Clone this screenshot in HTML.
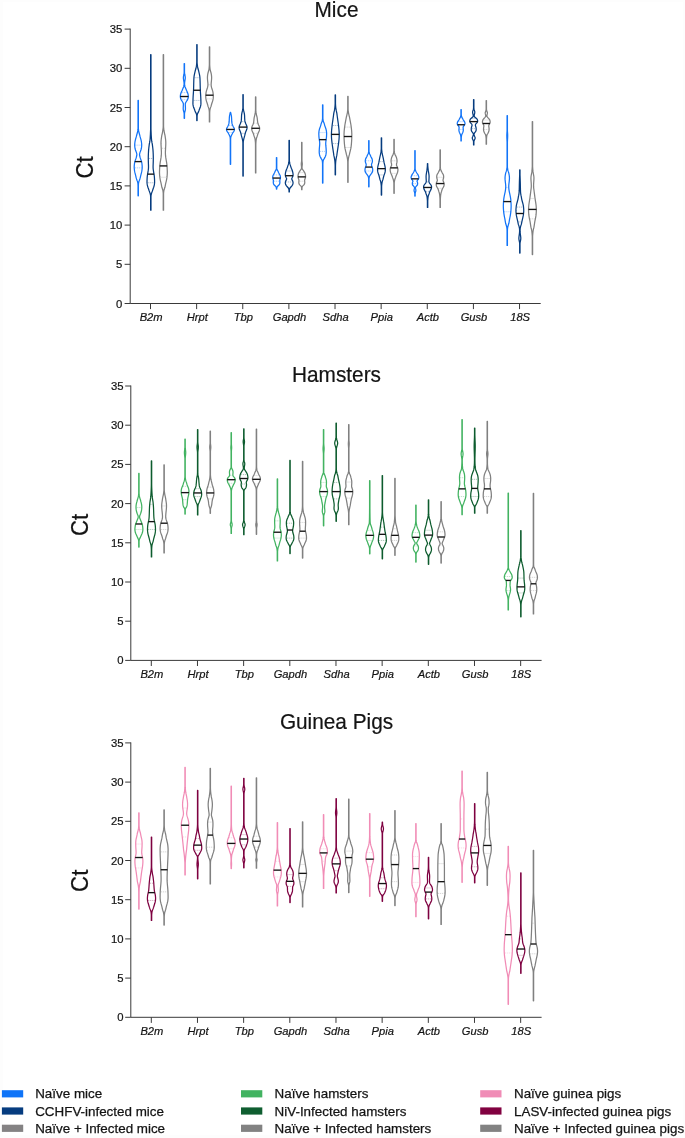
<!DOCTYPE html>
<html lang="en">
<head>
<meta charset="utf-8">
<title>Ct violin plots</title>
<style>
html,body{margin:0;padding:0;background:#ffffff;}
body{width:685px;height:1138px;overflow:hidden;font-family:"Liberation Sans", sans-serif;}
svg{display:block;font-family:"Liberation Sans", sans-serif;will-change:transform;opacity:0.999;}
text{stroke:#141414;stroke-width:0.2px;}
.lg text{stroke-width:0.25px;}
</style>
</head>
<body>
<svg width="685" height="1138" viewBox="0 0 685 1138">
<rect x="0" y="0" width="685" height="1138" fill="#ffffff"/>
<rect x="0" y="0" width="685" height="2" fill="#fdfdfd"/>
<rect x="683" y="0" width="2" height="1138" fill="#fdfdfd"/>
<rect x="0" y="1135" width="685" height="3" fill="#fdfdfd"/>
<rect x="0" y="0" width="3" height="1138" fill="#fdfdfd"/>
<g>
<text transform="translate(336.5 16.6) scale(1 1.05)" font-size="20.8" text-anchor="middle" fill="#141414">Mice</text>
<text transform="translate(92.5 167.4) rotate(-90) scale(1 1.05)" font-size="22.3" text-anchor="middle" fill="#141414">Ct</text>
<path d="M130.2 28.6 V303.5 H540.7" fill="none" stroke="#3a3a3a" stroke-width="1"/>
<line x1="124.6" y1="303.5" x2="130.2" y2="303.5" stroke="#3a3a3a" stroke-width="1"/>
<text x="122.3" y="307.5" font-size="11.3" text-anchor="end" fill="#141414">0</text>
<line x1="124.6" y1="264.3" x2="130.2" y2="264.3" stroke="#3a3a3a" stroke-width="1"/>
<text x="122.3" y="268.3" font-size="11.3" text-anchor="end" fill="#141414">5</text>
<line x1="124.6" y1="225.1" x2="130.2" y2="225.1" stroke="#3a3a3a" stroke-width="1"/>
<text x="122.3" y="229.1" font-size="11.3" text-anchor="end" fill="#141414">10</text>
<line x1="124.6" y1="185.9" x2="130.2" y2="185.9" stroke="#3a3a3a" stroke-width="1"/>
<text x="122.3" y="189.9" font-size="11.3" text-anchor="end" fill="#141414">15</text>
<line x1="124.6" y1="146.7" x2="130.2" y2="146.7" stroke="#3a3a3a" stroke-width="1"/>
<text x="122.3" y="150.7" font-size="11.3" text-anchor="end" fill="#141414">20</text>
<line x1="124.6" y1="107.5" x2="130.2" y2="107.5" stroke="#3a3a3a" stroke-width="1"/>
<text x="122.3" y="111.5" font-size="11.3" text-anchor="end" fill="#141414">25</text>
<line x1="124.6" y1="68.3" x2="130.2" y2="68.3" stroke="#3a3a3a" stroke-width="1"/>
<text x="122.3" y="72.3" font-size="11.3" text-anchor="end" fill="#141414">30</text>
<line x1="124.6" y1="29.1" x2="130.2" y2="29.1" stroke="#3a3a3a" stroke-width="1"/>
<text x="122.3" y="33.1" font-size="11.3" text-anchor="end" fill="#141414">35</text>
<line x1="150.5" y1="303.5" x2="150.5" y2="309.1" stroke="#3a3a3a" stroke-width="1"/>
<text x="151.1" y="321.2" font-size="11.15" font-style="italic" text-anchor="middle" fill="#141414">B2m</text>
<line x1="196.63" y1="303.5" x2="196.63" y2="309.1" stroke="#3a3a3a" stroke-width="1"/>
<text x="197.23" y="321.2" font-size="11.15" font-style="italic" text-anchor="middle" fill="#141414">Hrpt</text>
<line x1="242.76" y1="303.5" x2="242.76" y2="309.1" stroke="#3a3a3a" stroke-width="1"/>
<text x="243.36" y="321.2" font-size="11.15" font-style="italic" text-anchor="middle" fill="#141414">Tbp</text>
<line x1="288.89" y1="303.5" x2="288.89" y2="309.1" stroke="#3a3a3a" stroke-width="1"/>
<text x="289.49" y="321.2" font-size="11.15" font-style="italic" text-anchor="middle" fill="#141414">Gapdh</text>
<line x1="335.02" y1="303.5" x2="335.02" y2="309.1" stroke="#3a3a3a" stroke-width="1"/>
<text x="335.62" y="321.2" font-size="11.15" font-style="italic" text-anchor="middle" fill="#141414">Sdha</text>
<line x1="381.15" y1="303.5" x2="381.15" y2="309.1" stroke="#3a3a3a" stroke-width="1"/>
<text x="381.75" y="321.2" font-size="11.15" font-style="italic" text-anchor="middle" fill="#141414">Ppia</text>
<line x1="427.28" y1="303.5" x2="427.28" y2="309.1" stroke="#3a3a3a" stroke-width="1"/>
<text x="427.88" y="321.2" font-size="11.15" font-style="italic" text-anchor="middle" fill="#141414">Actb</text>
<line x1="473.41" y1="303.5" x2="473.41" y2="309.1" stroke="#3a3a3a" stroke-width="1"/>
<text x="474.01" y="321.2" font-size="11.15" font-style="italic" text-anchor="middle" fill="#141414">Gusb</text>
<line x1="519.54" y1="303.5" x2="519.54" y2="309.1" stroke="#3a3a3a" stroke-width="1"/>
<text x="520.14" y="321.2" font-size="11.15" font-style="italic" text-anchor="middle" fill="#141414">18S</text>
<line x1="135.3" y1="145.13" x2="141.1" y2="145.13" stroke="#1274f8" stroke-width="0.6" stroke-opacity="0.55" stroke-dasharray="1.2 0.8"/>
<line x1="134.82" y1="167.87" x2="141.58" y2="167.87" stroke="#1274f8" stroke-width="0.6" stroke-opacity="0.55" stroke-dasharray="1.2 0.8"/>
<path d="M138.37 195.86 L138.37 194.65 L138.37 193.44 L138.37 192.23 L138.37 191.03 L138.37 189.82 L138.37 188.61 L138.37 187.4 L138.37 186.19 L138.41 184.99 L138.48 183.78 L138.64 182.57 L138.95 181.36 L139.43 180.16 L139.88 178.95 L140.2 177.74 L140.49 176.53 L140.78 175.32 L141.1 174.12 L141.42 172.91 L141.7 171.7 L141.92 170.49 L142.06 169.29 L142.17 168.08 L142.2 166.87 L142.14 165.66 L142.02 164.46 L141.88 163.25 L141.65 162.04 L141.29 160.83 L140.87 159.62 L140.43 158.42 L140.04 157.21 L139.75 156 L139.52 154.79 L139.68 153.59 L140.01 152.38 L140.45 151.17 L140.91 149.96 L141.29 148.75 L141.5 147.55 L141.64 146.34 L141.7 145.13 L141.65 143.92 L141.53 142.72 L141.38 141.51 L141.13 140.3 L140.81 139.09 L140.44 137.88 L140.1 136.68 L139.8 135.47 L139.48 134.26 L139.12 133.05 L138.83 131.85 L138.61 130.64 L138.46 129.43 L138.37 128.22 L138.37 127.01 L138.37 125.81 L138.37 124.6 L138.37 123.39 L138.37 122.18 L138.37 120.98 L138.37 119.77 L138.37 118.56 L138.37 117.35 L138.37 116.14 L138.37 114.94 L138.37 113.73 L138.37 112.52 L138.37 111.31 L138.37 110.11 L138.37 108.9 L138.37 107.69 L138.37 106.48 L138.37 105.28 L138.37 104.07 L138.37 102.86 L138.37 101.65 L138.37 100.44 L138.03 100.44 L138.03 101.65 L138.03 102.86 L138.03 104.07 L138.03 105.28 L138.03 106.48 L138.03 107.69 L138.03 108.9 L138.03 110.11 L138.03 111.31 L138.03 112.52 L138.03 113.73 L138.03 114.94 L138.03 116.14 L138.03 117.35 L138.03 118.56 L138.03 119.77 L138.03 120.98 L138.03 122.18 L138.03 123.39 L138.03 124.6 L138.03 125.81 L138.03 127.01 L138.03 128.22 L137.94 129.43 L137.79 130.64 L137.57 131.85 L137.28 133.05 L136.92 134.26 L136.6 135.47 L136.3 136.68 L135.96 137.88 L135.59 139.09 L135.27 140.3 L135.02 141.51 L134.87 142.72 L134.75 143.92 L134.7 145.13 L134.76 146.34 L134.9 147.55 L135.11 148.75 L135.49 149.96 L135.95 151.17 L136.39 152.38 L136.72 153.59 L136.88 154.79 L136.65 156 L136.36 157.21 L135.97 158.42 L135.53 159.62 L135.11 160.83 L134.75 162.04 L134.52 163.25 L134.38 164.46 L134.26 165.66 L134.2 166.87 L134.23 168.08 L134.34 169.29 L134.48 170.49 L134.7 171.7 L134.98 172.91 L135.3 174.12 L135.62 175.32 L135.91 176.53 L136.2 177.74 L136.52 178.95 L136.97 180.16 L137.45 181.36 L137.76 182.57 L137.92 183.78 L137.99 184.99 L138.03 186.19 L138.03 187.4 L138.03 188.61 L138.03 189.82 L138.03 191.03 L138.03 192.23 L138.03 193.44 L138.03 194.65 L138.03 195.86Z" fill="none" stroke="#1274f8" stroke-width="1.25" stroke-linejoin="round"/>
<line x1="134.77" y1="161.6" x2="141.63" y2="161.6" stroke="#141414" stroke-width="1.35"/>
<line x1="148.9" y1="158.46" x2="152.7" y2="158.46" stroke="#063c7f" stroke-width="0.6" stroke-opacity="0.55" stroke-dasharray="1.2 0.8"/>
<line x1="147.63" y1="182.76" x2="153.97" y2="182.76" stroke="#063c7f" stroke-width="0.6" stroke-opacity="0.55" stroke-dasharray="1.2 0.8"/>
<path d="M150.97 210.2 L150.97 209 L150.97 207.79 L150.97 206.59 L150.97 205.38 L150.97 204.18 L150.97 202.97 L150.97 201.76 L150.97 200.56 L150.97 199.35 L150.97 198.15 L150.97 196.94 L151.04 195.73 L151.22 194.53 L151.53 193.32 L151.98 192.12 L152.42 190.91 L152.8 189.71 L153.23 188.5 L153.67 187.29 L154.05 186.09 L154.31 184.88 L154.48 183.68 L154.59 182.47 L154.59 181.27 L154.56 180.06 L154.5 178.85 L154.43 177.65 L154.33 176.44 L154.18 175.24 L153.99 174.03 L153.78 172.82 L153.57 171.62 L153.38 170.41 L153.22 169.21 L153.12 168 L153.1 166.8 L153.12 165.59 L153.16 164.38 L153.2 163.18 L153.24 161.97 L153.27 160.77 L153.29 159.56 L153.3 158.36 L153.3 157.15 L153.28 155.94 L153.24 154.74 L153.19 153.53 L153.13 152.33 L153.07 151.12 L152.98 149.92 L152.86 148.71 L152.73 147.5 L152.58 146.3 L152.43 145.09 L152.26 143.89 L151.99 142.68 L151.77 141.47 L151.6 140.27 L151.48 139.06 L151.4 137.86 L151.32 136.65 L151.25 135.45 L151.18 134.24 L151.13 133.03 L151.08 131.83 L151.03 130.62 L150.99 129.42 L150.97 128.21 L150.97 127.01 L150.97 125.8 L150.97 124.59 L150.97 123.39 L150.97 122.18 L150.97 120.98 L150.97 119.77 L150.97 118.56 L150.97 117.36 L150.97 116.15 L150.97 114.95 L150.97 113.74 L150.97 112.54 L150.97 111.33 L150.97 110.12 L150.97 108.92 L150.97 107.71 L150.97 106.51 L150.97 105.3 L150.97 104.1 L150.97 102.89 L150.97 101.68 L150.97 100.48 L150.97 99.27 L150.97 98.07 L150.97 96.86 L150.97 95.65 L150.97 94.45 L150.97 93.24 L150.97 92.04 L150.97 90.83 L150.97 89.63 L150.97 88.42 L150.97 87.21 L150.97 86.01 L150.97 84.8 L150.97 83.6 L150.97 82.39 L150.97 81.19 L150.97 79.98 L150.97 78.77 L150.97 77.57 L150.97 76.36 L150.97 75.16 L150.97 73.95 L150.97 72.75 L150.97 71.54 L150.97 70.33 L150.97 69.13 L150.97 67.92 L150.97 66.72 L150.97 65.51 L150.97 64.3 L150.97 63.1 L150.97 61.89 L150.97 60.69 L150.97 59.48 L150.97 58.28 L150.97 57.07 L150.97 55.86 L150.97 54.66 L150.63 54.66 L150.63 55.86 L150.63 57.07 L150.63 58.28 L150.63 59.48 L150.63 60.69 L150.63 61.89 L150.63 63.1 L150.63 64.3 L150.63 65.51 L150.63 66.72 L150.63 67.92 L150.63 69.13 L150.63 70.33 L150.63 71.54 L150.63 72.75 L150.63 73.95 L150.63 75.16 L150.63 76.36 L150.63 77.57 L150.63 78.77 L150.63 79.98 L150.63 81.19 L150.63 82.39 L150.63 83.6 L150.63 84.8 L150.63 86.01 L150.63 87.21 L150.63 88.42 L150.63 89.63 L150.63 90.83 L150.63 92.04 L150.63 93.24 L150.63 94.45 L150.63 95.65 L150.63 96.86 L150.63 98.07 L150.63 99.27 L150.63 100.48 L150.63 101.68 L150.63 102.89 L150.63 104.1 L150.63 105.3 L150.63 106.51 L150.63 107.71 L150.63 108.92 L150.63 110.12 L150.63 111.33 L150.63 112.54 L150.63 113.74 L150.63 114.95 L150.63 116.15 L150.63 117.36 L150.63 118.56 L150.63 119.77 L150.63 120.98 L150.63 122.18 L150.63 123.39 L150.63 124.59 L150.63 125.8 L150.63 127.01 L150.63 128.21 L150.61 129.42 L150.57 130.62 L150.52 131.83 L150.47 133.03 L150.42 134.24 L150.35 135.45 L150.28 136.65 L150.2 137.86 L150.12 139.06 L150 140.27 L149.83 141.47 L149.61 142.68 L149.34 143.89 L149.17 145.09 L149.02 146.3 L148.87 147.5 L148.74 148.71 L148.62 149.92 L148.53 151.12 L148.47 152.33 L148.41 153.53 L148.36 154.74 L148.32 155.94 L148.3 157.15 L148.3 158.36 L148.31 159.56 L148.33 160.77 L148.36 161.97 L148.4 163.18 L148.44 164.38 L148.48 165.59 L148.5 166.8 L148.48 168 L148.38 169.21 L148.22 170.41 L148.03 171.62 L147.82 172.82 L147.61 174.03 L147.42 175.24 L147.27 176.44 L147.17 177.65 L147.1 178.85 L147.04 180.06 L147.01 181.27 L147.01 182.47 L147.12 183.68 L147.29 184.88 L147.55 186.09 L147.93 187.29 L148.37 188.5 L148.8 189.71 L149.18 190.91 L149.62 192.12 L150.07 193.32 L150.38 194.53 L150.56 195.73 L150.63 196.94 L150.63 198.15 L150.63 199.35 L150.63 200.56 L150.63 201.76 L150.63 202.97 L150.63 204.18 L150.63 205.38 L150.63 206.59 L150.63 207.79 L150.63 209 L150.63 210.2Z" fill="none" stroke="#063c7f" stroke-width="1.25" stroke-linejoin="round"/>
<line x1="147.49" y1="174.14" x2="154.11" y2="174.14" stroke="#141414" stroke-width="1.35"/>
<line x1="161.82" y1="148.27" x2="164.98" y2="148.27" stroke="#808080" stroke-width="0.6" stroke-opacity="0.55" stroke-dasharray="1.2 0.8"/>
<line x1="160.43" y1="177.28" x2="166.37" y2="177.28" stroke="#808080" stroke-width="0.6" stroke-opacity="0.55" stroke-dasharray="1.2 0.8"/>
<path d="M163.57 210.2 L163.57 209 L163.57 207.79 L163.57 206.59 L163.57 205.38 L163.57 204.18 L163.57 202.97 L163.57 201.76 L163.57 200.56 L163.57 199.35 L163.57 198.15 L163.57 196.94 L163.57 195.73 L163.57 194.53 L163.58 193.32 L163.67 192.12 L163.84 190.91 L164.11 189.71 L164.49 188.5 L164.93 187.29 L165.17 186.09 L165.4 184.88 L165.66 183.68 L165.94 182.47 L166.22 181.27 L166.49 180.06 L166.73 178.85 L166.92 177.65 L167.06 176.44 L167.17 175.24 L167.25 174.03 L167.3 172.82 L167.29 171.62 L167.26 170.41 L167.21 169.21 L167.14 168 L167.08 166.8 L166.99 165.59 L166.86 164.38 L166.69 163.18 L166.5 161.97 L166.3 160.77 L166.1 159.56 L165.9 158.36 L165.72 157.15 L165.57 155.94 L165.47 154.74 L165.41 153.53 L165.4 152.33 L165.43 151.12 L165.49 149.92 L165.55 148.71 L165.62 147.5 L165.69 146.3 L165.75 145.09 L165.79 143.89 L165.8 142.68 L165.76 141.47 L165.67 140.27 L165.53 139.06 L165.36 137.86 L165.18 136.65 L164.99 135.45 L164.72 134.24 L164.44 133.03 L164.23 131.83 L164.03 130.62 L163.85 129.42 L163.7 128.21 L163.59 127.01 L163.57 125.8 L163.57 124.59 L163.57 123.39 L163.57 122.18 L163.57 120.98 L163.57 119.77 L163.57 118.56 L163.57 117.36 L163.57 116.15 L163.57 114.95 L163.57 113.74 L163.57 112.54 L163.57 111.33 L163.57 110.12 L163.57 108.92 L163.57 107.71 L163.57 106.51 L163.57 105.3 L163.57 104.1 L163.57 102.89 L163.57 101.68 L163.57 100.48 L163.57 99.27 L163.57 98.07 L163.57 96.86 L163.57 95.65 L163.57 94.45 L163.57 93.24 L163.57 92.04 L163.57 90.83 L163.57 89.63 L163.57 88.42 L163.57 87.21 L163.57 86.01 L163.57 84.8 L163.57 83.6 L163.57 82.39 L163.57 81.19 L163.57 79.98 L163.57 78.77 L163.57 77.57 L163.57 76.36 L163.57 75.16 L163.57 73.95 L163.57 72.75 L163.57 71.54 L163.57 70.33 L163.57 69.13 L163.57 67.92 L163.57 66.72 L163.57 65.51 L163.57 64.3 L163.57 63.1 L163.57 61.89 L163.57 60.69 L163.57 59.48 L163.57 58.28 L163.57 57.07 L163.57 55.86 L163.57 54.66 L163.23 54.66 L163.23 55.86 L163.23 57.07 L163.23 58.28 L163.23 59.48 L163.23 60.69 L163.23 61.89 L163.23 63.1 L163.23 64.3 L163.23 65.51 L163.23 66.72 L163.23 67.92 L163.23 69.13 L163.23 70.33 L163.23 71.54 L163.23 72.75 L163.23 73.95 L163.23 75.16 L163.23 76.36 L163.23 77.57 L163.23 78.77 L163.23 79.98 L163.23 81.19 L163.23 82.39 L163.23 83.6 L163.23 84.8 L163.23 86.01 L163.23 87.21 L163.23 88.42 L163.23 89.63 L163.23 90.83 L163.23 92.04 L163.23 93.24 L163.23 94.45 L163.23 95.65 L163.23 96.86 L163.23 98.07 L163.23 99.27 L163.23 100.48 L163.23 101.68 L163.23 102.89 L163.23 104.1 L163.23 105.3 L163.23 106.51 L163.23 107.71 L163.23 108.92 L163.23 110.12 L163.23 111.33 L163.23 112.54 L163.23 113.74 L163.23 114.95 L163.23 116.15 L163.23 117.36 L163.23 118.56 L163.23 119.77 L163.23 120.98 L163.23 122.18 L163.23 123.39 L163.23 124.59 L163.23 125.8 L163.21 127.01 L163.1 128.21 L162.95 129.42 L162.77 130.62 L162.57 131.83 L162.36 133.03 L162.08 134.24 L161.81 135.45 L161.62 136.65 L161.44 137.86 L161.27 139.06 L161.13 140.27 L161.04 141.47 L161 142.68 L161.01 143.89 L161.05 145.09 L161.11 146.3 L161.18 147.5 L161.25 148.71 L161.31 149.92 L161.37 151.12 L161.4 152.33 L161.39 153.53 L161.33 154.74 L161.23 155.94 L161.08 157.15 L160.9 158.36 L160.7 159.56 L160.5 160.77 L160.3 161.97 L160.11 163.18 L159.94 164.38 L159.81 165.59 L159.72 166.8 L159.66 168 L159.59 169.21 L159.54 170.41 L159.51 171.62 L159.5 172.82 L159.55 174.03 L159.63 175.24 L159.74 176.44 L159.88 177.65 L160.07 178.85 L160.31 180.06 L160.58 181.27 L160.86 182.47 L161.14 183.68 L161.4 184.88 L161.63 186.09 L161.87 187.29 L162.31 188.5 L162.69 189.71 L162.96 190.91 L163.13 192.12 L163.22 193.32 L163.23 194.53 L163.23 195.73 L163.23 196.94 L163.23 198.15 L163.23 199.35 L163.23 200.56 L163.23 201.76 L163.23 202.97 L163.23 204.18 L163.23 205.38 L163.23 206.59 L163.23 207.79 L163.23 209 L163.23 210.2Z" fill="none" stroke="#808080" stroke-width="1.25" stroke-linejoin="round"/>
<line x1="159.68" y1="165.91" x2="167.12" y2="165.91" stroke="#141414" stroke-width="1.35"/>
<line x1="181.73" y1="92.6" x2="186.93" y2="92.6" stroke="#1274f8" stroke-width="0.6" stroke-opacity="0.55" stroke-dasharray="1.2 0.8"/>
<line x1="181.68" y1="99.66" x2="186.98" y2="99.66" stroke="#1274f8" stroke-width="0.6" stroke-opacity="0.55" stroke-dasharray="1.2 0.8"/>
<path d="M184.5 118.32 L184.5 117.1 L184.5 115.88 L184.5 114.67 L184.52 113.45 L184.72 112.23 L185.06 111.01 L185.38 109.79 L185.45 108.58 L185.42 107.36 L185.36 106.14 L185.31 104.92 L185.29 103.71 L185.76 102.49 L186.51 101.27 L187.34 100.05 L187.94 98.83 L188.22 97.62 L188.33 96.4 L188.21 95.18 L187.99 93.96 L187.59 92.75 L187.03 91.53 L186.44 90.31 L185.95 89.09 L185.43 87.87 L184.96 86.66 L184.68 85.44 L184.57 84.22 L184.6 83 L184.72 81.78 L184.92 80.57 L185.13 79.35 L185.28 78.13 L185.24 76.91 L185.01 75.7 L184.76 74.48 L184.57 73.26 L184.5 72.04 L184.5 70.82 L184.5 69.61 L184.5 68.39 L184.5 67.17 L184.5 65.95 L184.5 64.74 L184.5 63.52 L184.16 63.52 L184.16 64.74 L184.16 65.95 L184.16 67.17 L184.16 68.39 L184.16 69.61 L184.16 70.82 L184.16 72.04 L184.09 73.26 L183.9 74.48 L183.65 75.7 L183.42 76.91 L183.38 78.13 L183.53 79.35 L183.74 80.57 L183.94 81.78 L184.06 83 L184.09 84.22 L183.98 85.44 L183.7 86.66 L183.23 87.87 L182.71 89.09 L182.22 90.31 L181.63 91.53 L181.07 92.75 L180.67 93.96 L180.45 95.18 L180.33 96.4 L180.44 97.62 L180.72 98.83 L181.32 100.05 L182.15 101.27 L182.9 102.49 L183.37 103.71 L183.35 104.92 L183.3 106.14 L183.24 107.36 L183.21 108.58 L183.28 109.79 L183.6 111.01 L183.94 112.23 L184.14 113.45 L184.16 114.67 L184.16 115.88 L184.16 117.1 L184.16 118.32Z" fill="none" stroke="#1274f8" stroke-width="1.25" stroke-linejoin="round"/>
<line x1="180.23" y1="96.52" x2="188.43" y2="96.52" stroke="#141414" stroke-width="1.35"/>
<line x1="194.53" y1="77.71" x2="199.33" y2="77.71" stroke="#063c7f" stroke-width="0.6" stroke-opacity="0.55" stroke-dasharray="1.2 0.8"/>
<line x1="193.58" y1="100.44" x2="200.28" y2="100.44" stroke="#063c7f" stroke-width="0.6" stroke-opacity="0.55" stroke-dasharray="1.2 0.8"/>
<path d="M197.1 120.59 L197.1 119.39 L197.1 118.18 L197.1 116.98 L197.13 115.77 L197.28 114.57 L197.67 113.37 L198.36 112.16 L198.82 110.96 L199.25 109.75 L199.75 108.55 L200.23 107.34 L200.6 106.14 L200.81 104.93 L200.93 103.73 L200.92 102.52 L200.9 101.32 L200.87 100.11 L200.84 98.91 L200.78 97.7 L200.72 96.5 L200.64 95.3 L200.56 94.09 L200.47 92.89 L200.4 91.68 L200.34 90.48 L200.29 89.27 L200.25 88.07 L200.22 86.86 L200.19 85.66 L200.16 84.45 L200.14 83.25 L200.1 82.04 L200.07 80.84 L200.02 79.64 L199.97 78.43 L199.89 77.23 L199.75 76.02 L199.53 74.82 L199.26 73.61 L198.97 72.41 L198.69 71.2 L198.41 70 L198.01 68.79 L197.74 67.59 L197.52 66.38 L197.35 65.18 L197.21 63.98 L197.12 62.77 L197.1 61.57 L197.1 60.36 L197.1 59.16 L197.1 57.95 L197.1 56.75 L197.1 55.54 L197.1 54.34 L197.1 53.13 L197.1 51.93 L197.1 50.72 L197.1 49.52 L197.1 48.32 L197.1 47.11 L197.1 45.91 L197.1 44.7 L196.76 44.7 L196.76 45.91 L196.76 47.11 L196.76 48.32 L196.76 49.52 L196.76 50.72 L196.76 51.93 L196.76 53.13 L196.76 54.34 L196.76 55.54 L196.76 56.75 L196.76 57.95 L196.76 59.16 L196.76 60.36 L196.76 61.57 L196.74 62.77 L196.65 63.98 L196.51 65.18 L196.34 66.38 L196.12 67.59 L195.85 68.79 L195.45 70 L195.17 71.2 L194.89 72.41 L194.6 73.61 L194.33 74.82 L194.11 76.02 L193.97 77.23 L193.89 78.43 L193.84 79.64 L193.79 80.84 L193.76 82.04 L193.72 83.25 L193.7 84.45 L193.67 85.66 L193.64 86.86 L193.61 88.07 L193.57 89.27 L193.52 90.48 L193.46 91.68 L193.39 92.89 L193.3 94.09 L193.22 95.3 L193.14 96.5 L193.08 97.7 L193.02 98.91 L192.99 100.11 L192.96 101.32 L192.94 102.52 L192.93 103.73 L193.05 104.93 L193.26 106.14 L193.63 107.34 L194.11 108.55 L194.61 109.75 L195.04 110.96 L195.5 112.16 L196.19 113.37 L196.58 114.57 L196.73 115.77 L196.76 116.98 L196.76 118.18 L196.76 119.39 L196.76 120.59Z" fill="none" stroke="#063c7f" stroke-width="1.25" stroke-linejoin="round"/>
<line x1="193.43" y1="90.25" x2="200.43" y2="90.25" stroke="#141414" stroke-width="1.35"/>
<line x1="208.53" y1="84.76" x2="210.53" y2="84.76" stroke="#808080" stroke-width="0.6" stroke-opacity="0.55" stroke-dasharray="1.2 0.8"/>
<line x1="206.54" y1="98.88" x2="212.52" y2="98.88" stroke="#808080" stroke-width="0.6" stroke-opacity="0.55" stroke-dasharray="1.2 0.8"/>
<path d="M209.7 121.93 L209.7 120.71 L209.7 119.5 L209.7 118.29 L209.7 117.08 L209.7 115.87 L209.7 114.66 L209.7 113.45 L209.73 112.23 L209.8 111.02 L209.94 109.81 L210.2 108.6 L210.6 107.39 L211.09 106.18 L211.37 104.97 L211.73 103.75 L212.14 102.54 L212.55 101.33 L212.9 100.12 L213.12 98.91 L213.26 97.7 L213.33 96.49 L213.28 95.27 L213.18 94.06 L213.05 92.85 L212.83 91.64 L212.49 90.43 L212.1 89.22 L211.71 88.01 L211.39 86.79 L211.18 85.58 L211.13 84.37 L211.2 83.16 L211.31 81.95 L211.43 80.74 L211.55 79.53 L211.62 78.31 L211.62 77.1 L211.53 75.89 L211.37 74.68 L211.17 73.47 L210.86 72.26 L210.47 71.05 L210.18 69.84 L209.99 68.62 L209.88 67.41 L209.79 66.2 L209.71 64.99 L209.7 63.78 L209.7 62.57 L209.7 61.36 L209.7 60.14 L209.7 58.93 L209.7 57.72 L209.7 56.51 L209.7 55.3 L209.7 54.09 L209.7 52.88 L209.7 51.66 L209.7 50.45 L209.7 49.24 L209.7 48.03 L209.7 46.82 L209.36 46.82 L209.36 48.03 L209.36 49.24 L209.36 50.45 L209.36 51.66 L209.36 52.88 L209.36 54.09 L209.36 55.3 L209.36 56.51 L209.36 57.72 L209.36 58.93 L209.36 60.14 L209.36 61.36 L209.36 62.57 L209.36 63.78 L209.35 64.99 L209.27 66.2 L209.18 67.41 L209.07 68.62 L208.88 69.84 L208.59 71.05 L208.2 72.26 L207.89 73.47 L207.69 74.68 L207.53 75.89 L207.44 77.1 L207.44 78.31 L207.51 79.53 L207.63 80.74 L207.75 81.95 L207.86 83.16 L207.93 84.37 L207.88 85.58 L207.67 86.79 L207.35 88.01 L206.96 89.22 L206.57 90.43 L206.23 91.64 L206.01 92.85 L205.88 94.06 L205.78 95.27 L205.73 96.49 L205.8 97.7 L205.94 98.91 L206.16 100.12 L206.51 101.33 L206.92 102.54 L207.33 103.75 L207.69 104.97 L207.97 106.18 L208.46 107.39 L208.86 108.6 L209.12 109.81 L209.26 111.02 L209.33 112.23 L209.36 113.45 L209.36 114.66 L209.36 115.87 L209.36 117.08 L209.36 118.29 L209.36 119.5 L209.36 120.71 L209.36 121.93Z" fill="none" stroke="#808080" stroke-width="1.25" stroke-linejoin="round"/>
<line x1="205.68" y1="95.19" x2="213.38" y2="95.19" stroke="#141414" stroke-width="1.35"/>
<line x1="228.81" y1="125.53" x2="232.11" y2="125.53" stroke="#1274f8" stroke-width="0.6" stroke-opacity="0.55" stroke-dasharray="1.2 0.8"/>
<line x1="228.59" y1="132.59" x2="232.33" y2="132.59" stroke="#1274f8" stroke-width="0.6" stroke-opacity="0.55" stroke-dasharray="1.2 0.8"/>
<path d="M230.63 164.26 L230.63 163.05 L230.63 161.84 L230.63 160.64 L230.63 159.43 L230.63 158.22 L230.63 157.01 L230.63 155.8 L230.63 154.59 L230.63 153.38 L230.63 152.17 L230.63 150.96 L230.63 149.76 L230.63 148.55 L230.63 147.34 L230.63 146.13 L230.63 144.92 L230.63 143.71 L230.63 142.5 L230.63 141.29 L230.63 140.09 L230.64 138.88 L230.74 137.67 L231 136.46 L231.54 135.25 L232.18 134.04 L232.76 132.83 L233.67 131.62 L234.28 130.41 L234.44 129.21 L234.08 128 L233.31 126.79 L232.73 125.58 L232.23 124.37 L231.96 123.16 L231.8 121.95 L231.71 120.74 L231.66 119.54 L231.6 118.33 L231.52 117.12 L231.39 115.91 L231.12 114.7 L230.78 113.49 L230.63 112.28 L230.29 112.28 L230.14 113.49 L229.8 114.7 L229.53 115.91 L229.4 117.12 L229.32 118.33 L229.26 119.54 L229.21 120.74 L229.12 121.95 L228.96 123.16 L228.69 124.37 L228.19 125.58 L227.61 126.79 L226.84 128 L226.48 129.21 L226.64 130.41 L227.25 131.62 L228.16 132.83 L228.74 134.04 L229.38 135.25 L229.92 136.46 L230.18 137.67 L230.28 138.88 L230.29 140.09 L230.29 141.29 L230.29 142.5 L230.29 143.71 L230.29 144.92 L230.29 146.13 L230.29 147.34 L230.29 148.55 L230.29 149.76 L230.29 150.96 L230.29 152.17 L230.29 153.38 L230.29 154.59 L230.29 155.8 L230.29 157.01 L230.29 158.22 L230.29 159.43 L230.29 160.64 L230.29 161.84 L230.29 163.05 L230.29 164.26Z" fill="none" stroke="#1274f8" stroke-width="1.25" stroke-linejoin="round"/>
<line x1="226.36" y1="129.45" x2="234.56" y2="129.45" stroke="#141414" stroke-width="1.35"/>
<line x1="241.71" y1="121.61" x2="244.41" y2="121.61" stroke="#063c7f" stroke-width="0.6" stroke-opacity="0.55" stroke-dasharray="1.2 0.8"/>
<line x1="241.47" y1="133.37" x2="244.65" y2="133.37" stroke="#063c7f" stroke-width="0.6" stroke-opacity="0.55" stroke-dasharray="1.2 0.8"/>
<path d="M243.23 176.02 L243.23 174.81 L243.23 173.59 L243.23 172.38 L243.23 171.16 L243.23 169.95 L243.23 168.73 L243.23 167.52 L243.23 166.3 L243.23 165.09 L243.23 163.88 L243.23 162.66 L243.23 161.45 L243.23 160.23 L243.23 159.02 L243.23 157.8 L243.23 156.59 L243.23 155.37 L243.23 154.16 L243.23 152.94 L243.23 151.73 L243.23 150.51 L243.23 149.3 L243.23 148.09 L243.23 146.87 L243.23 145.66 L243.23 144.44 L243.23 143.23 L243.27 142.01 L243.4 140.8 L243.63 139.58 L243.94 138.37 L244.3 137.15 L244.66 135.94 L244.92 134.72 L245.21 133.51 L245.55 132.3 L246.07 131.08 L246.61 129.87 L246.92 128.65 L247.06 127.44 L246.88 126.22 L246.36 125.01 L245.8 123.79 L245.32 122.58 L244.95 121.36 L244.8 120.15 L244.71 118.93 L244.65 117.72 L244.61 116.51 L244.55 115.29 L244.41 114.08 L244.19 112.86 L243.88 111.65 L243.59 110.43 L243.36 109.22 L243.23 108 L243.23 106.79 L243.23 105.57 L243.23 104.36 L243.23 103.14 L243.23 101.93 L243.23 100.72 L243.23 99.5 L243.23 98.29 L243.23 97.07 L243.23 95.86 L243.23 94.64 L242.89 94.64 L242.89 95.86 L242.89 97.07 L242.89 98.29 L242.89 99.5 L242.89 100.72 L242.89 101.93 L242.89 103.14 L242.89 104.36 L242.89 105.57 L242.89 106.79 L242.89 108 L242.76 109.22 L242.53 110.43 L242.24 111.65 L241.93 112.86 L241.71 114.08 L241.57 115.29 L241.51 116.51 L241.47 117.72 L241.41 118.93 L241.32 120.15 L241.17 121.36 L240.8 122.58 L240.32 123.79 L239.76 125.01 L239.24 126.22 L239.06 127.44 L239.2 128.65 L239.51 129.87 L240.05 131.08 L240.57 132.3 L240.91 133.51 L241.2 134.72 L241.46 135.94 L241.82 137.15 L242.18 138.37 L242.49 139.58 L242.72 140.8 L242.85 142.01 L242.89 143.23 L242.89 144.44 L242.89 145.66 L242.89 146.87 L242.89 148.09 L242.89 149.3 L242.89 150.51 L242.89 151.73 L242.89 152.94 L242.89 154.16 L242.89 155.37 L242.89 156.59 L242.89 157.8 L242.89 159.02 L242.89 160.23 L242.89 161.45 L242.89 162.66 L242.89 163.88 L242.89 165.09 L242.89 166.3 L242.89 167.52 L242.89 168.73 L242.89 169.95 L242.89 171.16 L242.89 172.38 L242.89 173.59 L242.89 174.81 L242.89 176.02Z" fill="none" stroke="#063c7f" stroke-width="1.25" stroke-linejoin="round"/>
<line x1="238.98" y1="127.1" x2="247.14" y2="127.1" stroke="#141414" stroke-width="1.35"/>
<line x1="254.06" y1="123.18" x2="257.26" y2="123.18" stroke="#808080" stroke-width="0.6" stroke-opacity="0.55" stroke-dasharray="1.2 0.8"/>
<line x1="253.86" y1="133.37" x2="257.46" y2="133.37" stroke="#808080" stroke-width="0.6" stroke-opacity="0.55" stroke-dasharray="1.2 0.8"/>
<path d="M255.83 172.89 L255.83 171.68 L255.83 170.48 L255.83 169.27 L255.83 168.07 L255.83 166.86 L255.83 165.66 L255.83 164.45 L255.83 163.25 L255.83 162.04 L255.83 160.84 L255.83 159.63 L255.83 158.43 L255.83 157.23 L255.83 156.02 L255.83 154.82 L255.83 153.61 L255.83 152.41 L255.83 151.2 L255.83 150 L255.83 148.79 L255.83 147.59 L255.83 146.38 L255.83 145.18 L255.84 143.97 L255.9 142.77 L255.98 141.57 L256.1 140.36 L256.28 139.16 L256.54 137.95 L256.98 136.75 L257.39 135.54 L257.75 134.34 L258.15 133.13 L258.71 131.93 L259.28 130.72 L259.57 129.52 L259.65 128.31 L259.46 127.11 L259.06 125.91 L258.45 124.7 L257.94 123.5 L257.7 122.29 L257.53 121.09 L257.4 119.88 L257.27 118.68 L257.11 117.47 L256.81 116.27 L256.53 115.06 L256.28 113.86 L256.08 112.65 L255.94 111.45 L255.84 110.25 L255.83 109.04 L255.83 107.84 L255.83 106.63 L255.83 105.43 L255.83 104.22 L255.83 103.02 L255.83 101.81 L255.83 100.61 L255.83 99.4 L255.83 98.2 L255.83 96.99 L255.49 96.99 L255.49 98.2 L255.49 99.4 L255.49 100.61 L255.49 101.81 L255.49 103.02 L255.49 104.22 L255.49 105.43 L255.49 106.63 L255.49 107.84 L255.49 109.04 L255.48 110.25 L255.38 111.45 L255.24 112.65 L255.04 113.86 L254.79 115.06 L254.51 116.27 L254.21 117.47 L254.05 118.68 L253.92 119.88 L253.79 121.09 L253.62 122.29 L253.38 123.5 L252.87 124.7 L252.26 125.91 L251.86 127.11 L251.67 128.31 L251.75 129.52 L252.04 130.72 L252.61 131.93 L253.17 133.13 L253.57 134.34 L253.93 135.54 L254.34 136.75 L254.78 137.95 L255.04 139.16 L255.22 140.36 L255.34 141.57 L255.42 142.77 L255.48 143.97 L255.49 145.18 L255.49 146.38 L255.49 147.59 L255.49 148.79 L255.49 150 L255.49 151.2 L255.49 152.41 L255.49 153.61 L255.49 154.82 L255.49 156.02 L255.49 157.23 L255.49 158.43 L255.49 159.63 L255.49 160.84 L255.49 162.04 L255.49 163.25 L255.49 164.45 L255.49 165.66 L255.49 166.86 L255.49 168.07 L255.49 169.27 L255.49 170.48 L255.49 171.68 L255.49 172.89Z" fill="none" stroke="#808080" stroke-width="1.25" stroke-linejoin="round"/>
<line x1="251.58" y1="128.28" x2="259.74" y2="128.28" stroke="#141414" stroke-width="1.35"/>
<line x1="273.88" y1="174.92" x2="279.3" y2="174.92" stroke="#1274f8" stroke-width="0.6" stroke-opacity="0.55" stroke-dasharray="1.2 0.8"/>
<line x1="273.95" y1="181.2" x2="279.23" y2="181.2" stroke="#1274f8" stroke-width="0.6" stroke-opacity="0.55" stroke-dasharray="1.2 0.8"/>
<path d="M276.76 189.04 L276.81 187.78 L277.36 186.52 L278.67 185.26 L279.59 184.01 L279.89 182.75 L279.85 181.49 L279.8 180.23 L280.19 178.98 L280.47 177.72 L280.4 176.46 L280.03 175.2 L279.33 173.95 L278.64 172.69 L278.12 171.43 L277.3 170.17 L276.88 168.92 L276.76 167.66 L276.76 166.4 L276.76 165.14 L276.76 163.89 L276.76 162.63 L276.76 161.37 L276.76 160.11 L276.76 158.86 L276.76 157.6 L276.42 157.6 L276.42 158.86 L276.42 160.11 L276.42 161.37 L276.42 162.63 L276.42 163.89 L276.42 165.14 L276.42 166.4 L276.42 167.66 L276.3 168.92 L275.88 170.17 L275.06 171.43 L274.54 172.69 L273.85 173.95 L273.15 175.2 L272.78 176.46 L272.71 177.72 L272.99 178.98 L273.38 180.23 L273.33 181.49 L273.29 182.75 L273.59 184.01 L274.51 185.26 L275.82 186.52 L276.37 187.78 L276.42 189.04Z" fill="none" stroke="#1274f8" stroke-width="1.25" stroke-linejoin="round"/>
<line x1="272.65" y1="178.06" x2="280.53" y2="178.06" stroke="#141414" stroke-width="1.35"/>
<line x1="286.52" y1="171" x2="291.86" y2="171" stroke="#063c7f" stroke-width="0.6" stroke-opacity="0.55" stroke-dasharray="1.2 0.8"/>
<line x1="285.98" y1="181.98" x2="292.4" y2="181.98" stroke="#063c7f" stroke-width="0.6" stroke-opacity="0.55" stroke-dasharray="1.2 0.8"/>
<path d="M289.36 191.94 L289.36 190.71 L289.47 189.48 L289.86 188.25 L290.9 187.02 L291.91 185.8 L292.69 184.57 L293.03 183.34 L293.02 182.11 L292.64 180.88 L291.91 179.65 L291.76 178.43 L292.41 177.2 L292.95 175.97 L293.09 174.74 L292.98 173.51 L292.79 172.28 L292.48 171.06 L292 169.83 L291.47 168.6 L290.99 167.37 L290.63 166.14 L290.19 164.91 L289.84 163.69 L289.6 162.46 L289.44 161.23 L289.36 160 L289.36 158.77 L289.36 157.55 L289.36 156.32 L289.36 155.09 L289.36 153.86 L289.36 152.63 L289.36 151.4 L289.36 150.18 L289.36 148.95 L289.36 147.72 L289.36 146.49 L289.36 145.26 L289.36 144.03 L289.36 142.81 L289.36 141.58 L289.36 140.35 L289.02 140.35 L289.02 141.58 L289.02 142.81 L289.02 144.03 L289.02 145.26 L289.02 146.49 L289.02 147.72 L289.02 148.95 L289.02 150.18 L289.02 151.4 L289.02 152.63 L289.02 153.86 L289.02 155.09 L289.02 156.32 L289.02 157.55 L289.02 158.77 L289.02 160 L288.94 161.23 L288.78 162.46 L288.54 163.69 L288.19 164.91 L287.75 166.14 L287.39 167.37 L286.91 168.6 L286.38 169.83 L285.9 171.06 L285.59 172.28 L285.4 173.51 L285.29 174.74 L285.43 175.97 L285.97 177.2 L286.62 178.43 L286.47 179.65 L285.74 180.88 L285.36 182.11 L285.35 183.34 L285.69 184.57 L286.47 185.8 L287.48 187.02 L288.52 188.25 L288.91 189.48 L289.02 190.71 L289.02 191.94Z" fill="none" stroke="#063c7f" stroke-width="1.25" stroke-linejoin="round"/>
<line x1="285.28" y1="175.71" x2="293.1" y2="175.71" stroke="#141414" stroke-width="1.35"/>
<line x1="299.5" y1="172.57" x2="304.08" y2="172.57" stroke="#808080" stroke-width="0.6" stroke-opacity="0.55" stroke-dasharray="1.2 0.8"/>
<line x1="299.52" y1="181.2" x2="304.06" y2="181.2" stroke="#808080" stroke-width="0.6" stroke-opacity="0.55" stroke-dasharray="1.2 0.8"/>
<path d="M301.96 189.74 L301.96 188.53 L302.05 187.32 L302.59 186.11 L303.92 184.89 L304.61 183.68 L304.78 182.47 L304.67 181.26 L304.63 180.04 L305.07 178.83 L305.48 177.62 L305.59 176.41 L305.47 175.2 L305.22 173.98 L304.79 172.77 L304.08 171.56 L303.3 170.35 L302.3 169.13 L302.03 167.92 L302.08 166.71 L302.21 165.5 L302.32 164.29 L302.26 163.07 L302.06 161.86 L301.96 160.65 L301.96 159.44 L301.96 158.22 L301.96 157.01 L301.96 155.8 L301.96 154.59 L301.96 153.38 L301.96 152.16 L301.96 150.95 L301.96 149.74 L301.96 148.53 L301.96 147.32 L301.96 146.1 L301.96 144.89 L301.96 143.68 L301.96 142.47 L301.62 142.47 L301.62 143.68 L301.62 144.89 L301.62 146.1 L301.62 147.32 L301.62 148.53 L301.62 149.74 L301.62 150.95 L301.62 152.16 L301.62 153.38 L301.62 154.59 L301.62 155.8 L301.62 157.01 L301.62 158.22 L301.62 159.44 L301.62 160.65 L301.52 161.86 L301.32 163.07 L301.26 164.29 L301.37 165.5 L301.5 166.71 L301.55 167.92 L301.28 169.13 L300.28 170.35 L299.5 171.56 L298.79 172.77 L298.36 173.98 L298.11 175.2 L297.99 176.41 L298.1 177.62 L298.51 178.83 L298.95 180.04 L298.91 181.26 L298.8 182.47 L298.97 183.68 L299.66 184.89 L300.99 186.11 L301.53 187.32 L301.62 188.53 L301.62 189.74Z" fill="none" stroke="#808080" stroke-width="1.25" stroke-linejoin="round"/>
<line x1="297.91" y1="176.88" x2="305.67" y2="176.88" stroke="#141414" stroke-width="1.35"/>
<line x1="319.45" y1="132.59" x2="325.99" y2="132.59" stroke="#1274f8" stroke-width="0.6" stroke-opacity="0.55" stroke-dasharray="1.2 0.8"/>
<line x1="319.83" y1="151.4" x2="325.61" y2="151.4" stroke="#1274f8" stroke-width="0.6" stroke-opacity="0.55" stroke-dasharray="1.2 0.8"/>
<path d="M322.89 183.08 L322.89 181.86 L322.89 180.63 L322.89 179.41 L322.89 178.19 L322.89 176.96 L322.89 175.74 L322.89 174.52 L322.89 173.3 L322.89 172.07 L322.89 170.85 L322.89 169.63 L322.89 168.41 L322.89 167.18 L322.89 165.96 L322.89 164.74 L322.91 163.52 L322.99 162.29 L323.11 161.07 L323.42 159.85 L324.25 158.63 L324.87 157.4 L325.45 156.18 L325.86 154.96 L326.08 153.74 L326.21 152.51 L326.21 151.29 L326.18 150.07 L326.12 148.85 L326.02 147.62 L325.9 146.4 L325.79 145.18 L325.72 143.96 L325.75 142.73 L325.86 141.51 L326.03 140.29 L326.21 139.07 L326.39 137.84 L326.5 136.62 L326.56 135.4 L326.61 134.18 L326.61 132.95 L326.5 131.73 L326.32 130.51 L326.03 129.29 L325.62 128.06 L325.17 126.84 L324.75 125.62 L324.44 124.4 L324.09 123.17 L323.6 121.95 L323.24 120.73 L323.01 119.5 L322.89 118.28 L322.89 117.06 L322.89 115.84 L322.89 114.61 L322.89 113.39 L322.89 112.17 L322.89 110.95 L322.89 109.72 L322.89 108.5 L322.89 107.28 L322.89 106.06 L322.89 104.83 L322.55 104.83 L322.55 106.06 L322.55 107.28 L322.55 108.5 L322.55 109.72 L322.55 110.95 L322.55 112.17 L322.55 113.39 L322.55 114.61 L322.55 115.84 L322.55 117.06 L322.55 118.28 L322.43 119.5 L322.2 120.73 L321.84 121.95 L321.35 123.17 L321 124.4 L320.69 125.62 L320.27 126.84 L319.82 128.06 L319.41 129.29 L319.12 130.51 L318.94 131.73 L318.83 132.95 L318.83 134.18 L318.88 135.4 L318.94 136.62 L319.05 137.84 L319.23 139.07 L319.41 140.29 L319.58 141.51 L319.69 142.73 L319.72 143.96 L319.65 145.18 L319.54 146.4 L319.42 147.62 L319.32 148.85 L319.26 150.07 L319.23 151.29 L319.23 152.51 L319.36 153.74 L319.58 154.96 L319.99 156.18 L320.57 157.4 L321.19 158.63 L322.02 159.85 L322.33 161.07 L322.45 162.29 L322.53 163.52 L322.55 164.74 L322.55 165.96 L322.55 167.18 L322.55 168.41 L322.55 169.63 L322.55 170.85 L322.55 172.07 L322.55 173.3 L322.55 174.52 L322.55 175.74 L322.55 176.96 L322.55 178.19 L322.55 179.41 L322.55 180.63 L322.55 181.86 L322.55 183.08Z" fill="none" stroke="#1274f8" stroke-width="1.25" stroke-linejoin="round"/>
<line x1="319.21" y1="139.64" x2="326.23" y2="139.64" stroke="#141414" stroke-width="1.35"/>
<line x1="332.72" y1="125.53" x2="337.92" y2="125.53" stroke="#063c7f" stroke-width="0.6" stroke-opacity="0.55" stroke-dasharray="1.2 0.8"/>
<line x1="332.72" y1="143.56" x2="337.92" y2="143.56" stroke="#063c7f" stroke-width="0.6" stroke-opacity="0.55" stroke-dasharray="1.2 0.8"/>
<path d="M335.49 174.77 L335.49 173.56 L335.49 172.35 L335.49 171.14 L335.49 169.93 L335.49 168.72 L335.49 167.51 L335.49 166.3 L335.51 165.09 L335.56 163.88 L335.63 162.67 L335.73 161.47 L335.87 160.26 L336.04 159.05 L336.26 157.84 L336.51 156.63 L336.8 155.42 L336.96 154.21 L337.12 153 L337.3 151.79 L337.48 150.58 L337.68 149.37 L337.87 148.16 L338.05 146.95 L338.23 145.74 L338.4 144.54 L338.55 143.33 L338.7 142.12 L338.84 140.91 L338.97 139.7 L339.08 138.49 L339.15 137.28 L339.2 136.07 L339.22 134.86 L339.2 133.65 L339.15 132.44 L339.09 131.23 L339 130.02 L338.88 128.82 L338.75 127.61 L338.62 126.4 L338.48 125.19 L338.33 123.98 L338.17 122.77 L338 121.56 L337.82 120.35 L337.64 119.14 L337.47 117.93 L337.3 116.72 L337.14 115.51 L336.99 114.3 L336.83 113.09 L336.54 111.89 L336.27 110.68 L336.05 109.47 L335.86 108.26 L335.71 107.05 L335.61 105.84 L335.53 104.63 L335.49 103.42 L335.49 102.21 L335.49 101 L335.49 99.79 L335.49 98.58 L335.49 97.37 L335.49 96.17 L335.49 94.96 L335.15 94.96 L335.15 96.17 L335.15 97.37 L335.15 98.58 L335.15 99.79 L335.15 101 L335.15 102.21 L335.15 103.42 L335.11 104.63 L335.03 105.84 L334.93 107.05 L334.78 108.26 L334.59 109.47 L334.37 110.68 L334.1 111.89 L333.81 113.09 L333.65 114.3 L333.5 115.51 L333.34 116.72 L333.17 117.93 L333 119.14 L332.82 120.35 L332.64 121.56 L332.47 122.77 L332.31 123.98 L332.16 125.19 L332.02 126.4 L331.89 127.61 L331.76 128.82 L331.64 130.02 L331.55 131.23 L331.49 132.44 L331.44 133.65 L331.42 134.86 L331.44 136.07 L331.49 137.28 L331.56 138.49 L331.67 139.7 L331.8 140.91 L331.94 142.12 L332.09 143.33 L332.24 144.54 L332.41 145.74 L332.59 146.95 L332.77 148.16 L332.96 149.37 L333.16 150.58 L333.34 151.79 L333.52 153 L333.68 154.21 L333.84 155.42 L334.13 156.63 L334.38 157.84 L334.6 159.05 L334.77 160.26 L334.91 161.47 L335.01 162.67 L335.08 163.88 L335.13 165.09 L335.15 166.3 L335.15 167.51 L335.15 168.72 L335.15 169.93 L335.15 171.14 L335.15 172.35 L335.15 173.56 L335.15 174.77Z" fill="none" stroke="#063c7f" stroke-width="1.25" stroke-linejoin="round"/>
<line x1="331.32" y1="134.39" x2="339.32" y2="134.39" stroke="#141414" stroke-width="1.35"/>
<line x1="345.22" y1="127.1" x2="350.62" y2="127.1" stroke="#808080" stroke-width="0.6" stroke-opacity="0.55" stroke-dasharray="1.2 0.8"/>
<line x1="345.43" y1="147.48" x2="350.41" y2="147.48" stroke="#808080" stroke-width="0.6" stroke-opacity="0.55" stroke-dasharray="1.2 0.8"/>
<path d="M348.09 182.29 L348.09 181.08 L348.09 179.88 L348.09 178.67 L348.09 177.46 L348.09 176.25 L348.09 175.04 L348.09 173.83 L348.09 172.62 L348.09 171.41 L348.09 170.2 L348.09 168.99 L348.09 167.78 L348.09 166.57 L348.09 165.37 L348.09 164.16 L348.09 162.95 L348.11 161.74 L348.18 160.53 L348.3 159.32 L348.49 158.11 L348.74 156.9 L349.07 155.69 L349.43 154.48 L349.66 153.27 L349.95 152.07 L350.26 150.86 L350.56 149.65 L350.84 148.44 L351.05 147.23 L351.19 146.02 L351.32 144.81 L351.43 143.6 L351.52 142.39 L351.6 141.18 L351.67 139.97 L351.73 138.77 L351.77 137.56 L351.8 136.35 L351.82 135.14 L351.8 133.93 L351.75 132.72 L351.69 131.51 L351.59 130.3 L351.46 129.09 L351.32 127.88 L351.16 126.67 L351.01 125.46 L350.82 124.26 L350.61 123.05 L350.38 121.84 L350.15 120.63 L349.91 119.42 L349.69 118.21 L349.47 117 L349.16 115.79 L348.87 114.58 L348.61 113.37 L348.4 112.16 L348.24 110.96 L348.12 109.75 L348.09 108.54 L348.09 107.33 L348.09 106.12 L348.09 104.91 L348.09 103.7 L348.09 102.49 L348.09 101.28 L348.09 100.07 L348.09 98.86 L348.09 97.65 L348.09 96.45 L347.75 96.45 L347.75 97.65 L347.75 98.86 L347.75 100.07 L347.75 101.28 L347.75 102.49 L347.75 103.7 L347.75 104.91 L347.75 106.12 L347.75 107.33 L347.75 108.54 L347.72 109.75 L347.6 110.96 L347.44 112.16 L347.23 113.37 L346.97 114.58 L346.68 115.79 L346.37 117 L346.15 118.21 L345.93 119.42 L345.69 120.63 L345.46 121.84 L345.23 123.05 L345.02 124.26 L344.83 125.46 L344.68 126.67 L344.52 127.88 L344.38 129.09 L344.25 130.3 L344.15 131.51 L344.09 132.72 L344.04 133.93 L344.02 135.14 L344.04 136.35 L344.07 137.56 L344.11 138.77 L344.17 139.97 L344.24 141.18 L344.32 142.39 L344.41 143.6 L344.52 144.81 L344.65 146.02 L344.79 147.23 L345 148.44 L345.28 149.65 L345.58 150.86 L345.89 152.07 L346.18 153.27 L346.41 154.48 L346.77 155.69 L347.1 156.9 L347.35 158.11 L347.54 159.32 L347.66 160.53 L347.73 161.74 L347.75 162.95 L347.75 164.16 L347.75 165.37 L347.75 166.57 L347.75 167.78 L347.75 168.99 L347.75 170.2 L347.75 171.41 L347.75 172.62 L347.75 173.83 L347.75 175.04 L347.75 176.25 L347.75 177.46 L347.75 178.67 L347.75 179.88 L347.75 181.08 L347.75 182.29Z" fill="none" stroke="#808080" stroke-width="1.25" stroke-linejoin="round"/>
<line x1="343.94" y1="136.51" x2="351.9" y2="136.51" stroke="#141414" stroke-width="1.35"/>
<line x1="365.85" y1="160.81" x2="371.85" y2="160.81" stroke="#1274f8" stroke-width="0.6" stroke-opacity="0.55" stroke-dasharray="1.2 0.8"/>
<line x1="365.65" y1="171" x2="372.05" y2="171" stroke="#1274f8" stroke-width="0.6" stroke-opacity="0.55" stroke-dasharray="1.2 0.8"/>
<path d="M369.02 186.76 L369.02 185.55 L369.02 184.34 L369.02 183.12 L369.02 181.91 L369.02 180.7 L369.02 179.48 L369.06 178.27 L369.3 177.06 L369.74 175.84 L370.62 174.63 L371.54 173.42 L372.3 172.2 L372.66 170.99 L372.73 169.78 L372.59 168.57 L372.24 167.35 L371.75 166.14 L371.46 164.93 L371.69 163.71 L372.2 162.5 L372.42 161.29 L372.37 160.07 L372.06 158.86 L371.43 157.65 L370.78 156.43 L370.34 155.22 L369.64 154.01 L369.21 152.79 L369.02 151.58 L369.02 150.37 L369.02 149.16 L369.02 147.94 L369.02 146.73 L369.02 145.52 L369.02 144.3 L369.02 143.09 L369.02 141.88 L369.02 140.66 L368.68 140.66 L368.68 141.88 L368.68 143.09 L368.68 144.3 L368.68 145.52 L368.68 146.73 L368.68 147.94 L368.68 149.16 L368.68 150.37 L368.68 151.58 L368.49 152.79 L368.06 154.01 L367.36 155.22 L366.92 156.43 L366.27 157.65 L365.64 158.86 L365.33 160.07 L365.28 161.29 L365.5 162.5 L366.01 163.71 L366.24 164.93 L365.95 166.14 L365.46 167.35 L365.11 168.57 L364.97 169.78 L365.04 170.99 L365.4 172.2 L366.16 173.42 L367.08 174.63 L367.96 175.84 L368.4 177.06 L368.64 178.27 L368.68 179.48 L368.68 180.7 L368.68 181.91 L368.68 183.12 L368.68 184.34 L368.68 185.55 L368.68 186.76Z" fill="none" stroke="#1274f8" stroke-width="1.25" stroke-linejoin="round"/>
<line x1="365.46" y1="167.08" x2="372.24" y2="167.08" stroke="#141414" stroke-width="1.35"/>
<line x1="379.61" y1="161.6" x2="383.29" y2="161.6" stroke="#063c7f" stroke-width="0.6" stroke-opacity="0.55" stroke-dasharray="1.2 0.8"/>
<line x1="379.35" y1="174.92" x2="383.55" y2="174.92" stroke="#063c7f" stroke-width="0.6" stroke-opacity="0.55" stroke-dasharray="1.2 0.8"/>
<path d="M381.62 195.07 L381.62 193.85 L381.62 192.63 L381.62 191.41 L381.62 190.2 L381.62 188.98 L381.62 187.76 L381.62 186.54 L381.68 185.32 L381.81 184.1 L381.98 182.88 L382.23 181.66 L382.59 180.44 L383.01 179.22 L383.29 178 L383.58 176.78 L383.93 175.56 L384.37 174.34 L384.81 173.12 L385.12 171.9 L385.29 170.69 L385.35 169.47 L385.27 168.25 L385.14 167.03 L384.9 165.81 L384.59 164.59 L384.28 163.37 L384 162.15 L383.76 160.93 L383.52 159.71 L383.29 158.49 L383.07 157.27 L382.79 156.05 L382.47 154.83 L382.23 153.61 L382.02 152.39 L381.85 151.18 L381.72 149.96 L381.63 148.74 L381.62 147.52 L381.62 146.3 L381.62 145.08 L381.62 143.86 L381.62 142.64 L381.62 141.42 L381.62 140.2 L381.62 138.98 L381.62 137.76 L381.28 137.76 L381.28 138.98 L381.28 140.2 L381.28 141.42 L381.28 142.64 L381.28 143.86 L381.28 145.08 L381.28 146.3 L381.28 147.52 L381.27 148.74 L381.18 149.96 L381.05 151.18 L380.88 152.39 L380.67 153.61 L380.43 154.83 L380.11 156.05 L379.83 157.27 L379.61 158.49 L379.38 159.71 L379.14 160.93 L378.9 162.15 L378.62 163.37 L378.31 164.59 L378 165.81 L377.76 167.03 L377.63 168.25 L377.55 169.47 L377.61 170.69 L377.78 171.9 L378.09 173.12 L378.53 174.34 L378.97 175.56 L379.32 176.78 L379.61 178 L379.89 179.22 L380.31 180.44 L380.67 181.66 L380.92 182.88 L381.09 184.1 L381.22 185.32 L381.28 186.54 L381.28 187.76 L381.28 188.98 L381.28 190.2 L381.28 191.41 L381.28 192.63 L381.28 193.85 L381.28 195.07Z" fill="none" stroke="#063c7f" stroke-width="1.25" stroke-linejoin="round"/>
<line x1="377.49" y1="168.65" x2="385.41" y2="168.65" stroke="#141414" stroke-width="1.35"/>
<line x1="391.65" y1="160.81" x2="396.45" y2="160.81" stroke="#808080" stroke-width="0.6" stroke-opacity="0.55" stroke-dasharray="1.2 0.8"/>
<line x1="391.53" y1="173.36" x2="396.57" y2="173.36" stroke="#808080" stroke-width="0.6" stroke-opacity="0.55" stroke-dasharray="1.2 0.8"/>
<path d="M394.22 193.27 L394.22 192.05 L394.22 190.82 L394.22 189.6 L394.22 188.38 L394.22 187.16 L394.22 185.94 L394.22 184.71 L394.22 183.49 L394.3 182.27 L394.46 181.05 L394.73 179.82 L395.14 178.6 L395.63 177.38 L395.95 176.16 L396.43 174.93 L397.01 173.71 L397.5 172.49 L397.78 171.27 L397.94 170.05 L397.88 168.82 L397.6 167.6 L396.99 166.38 L396.5 165.16 L396.54 163.93 L396.85 162.71 L397.02 161.49 L397.02 160.27 L396.85 159.04 L396.53 157.82 L396.02 156.6 L395.47 155.38 L394.87 154.16 L394.52 152.93 L394.29 151.71 L394.22 150.49 L394.22 149.27 L394.22 148.04 L394.22 146.82 L394.22 145.6 L394.22 144.38 L394.22 143.15 L394.22 141.93 L394.22 140.71 L394.22 139.49 L393.88 139.49 L393.88 140.71 L393.88 141.93 L393.88 143.15 L393.88 144.38 L393.88 145.6 L393.88 146.82 L393.88 148.04 L393.88 149.27 L393.88 150.49 L393.81 151.71 L393.58 152.93 L393.23 154.16 L392.63 155.38 L392.08 156.6 L391.57 157.82 L391.25 159.04 L391.08 160.27 L391.08 161.49 L391.25 162.71 L391.56 163.93 L391.6 165.16 L391.11 166.38 L390.5 167.6 L390.22 168.82 L390.16 170.05 L390.32 171.27 L390.6 172.49 L391.09 173.71 L391.67 174.93 L392.15 176.16 L392.47 177.38 L392.96 178.6 L393.37 179.82 L393.64 181.05 L393.8 182.27 L393.88 183.49 L393.88 184.71 L393.88 185.94 L393.88 187.16 L393.88 188.38 L393.88 189.6 L393.88 190.82 L393.88 192.05 L393.88 193.27Z" fill="none" stroke="#808080" stroke-width="1.25" stroke-linejoin="round"/>
<line x1="390.31" y1="167.87" x2="397.79" y2="167.87" stroke="#141414" stroke-width="1.35"/>
<line x1="412.07" y1="175.71" x2="417.89" y2="175.71" stroke="#1274f8" stroke-width="0.6" stroke-opacity="0.55" stroke-dasharray="1.2 0.8"/>
<line x1="412.88" y1="183.55" x2="417.08" y2="183.55" stroke="#1274f8" stroke-width="0.6" stroke-opacity="0.55" stroke-dasharray="1.2 0.8"/>
<path d="M415.15 196.01 L415.15 194.79 L415.15 193.56 L415.39 192.34 L415.86 191.11 L415.86 189.89 L415.56 188.67 L415.41 187.44 L416.37 186.22 L417.35 184.99 L417.67 183.77 L417.51 182.54 L416.99 181.32 L417.56 180.09 L418.55 178.87 L418.88 177.64 L418.71 176.42 L418.23 175.19 L417.39 173.97 L416.65 172.74 L415.97 171.52 L415.43 170.29 L415.17 169.07 L415.15 167.84 L415.15 166.62 L415.15 165.4 L415.15 164.17 L415.15 162.95 L415.15 161.72 L415.15 160.5 L415.15 159.27 L415.15 158.05 L415.15 156.82 L415.15 155.6 L415.15 154.37 L415.15 153.15 L415.15 151.92 L415.15 150.7 L414.81 150.7 L414.81 151.92 L414.81 153.15 L414.81 154.37 L414.81 155.6 L414.81 156.82 L414.81 158.05 L414.81 159.27 L414.81 160.5 L414.81 161.72 L414.81 162.95 L414.81 164.17 L414.81 165.4 L414.81 166.62 L414.81 167.84 L414.79 169.07 L414.53 170.29 L413.99 171.52 L413.31 172.74 L412.57 173.97 L411.73 175.19 L411.25 176.42 L411.08 177.64 L411.41 178.87 L412.4 180.09 L412.97 181.32 L412.45 182.54 L412.29 183.77 L412.61 184.99 L413.59 186.22 L414.55 187.44 L414.4 188.67 L414.1 189.89 L414.1 191.11 L414.57 192.34 L414.81 193.56 L414.81 194.79 L414.81 196.01Z" fill="none" stroke="#1274f8" stroke-width="1.25" stroke-linejoin="round"/>
<line x1="411.3" y1="178.84" x2="418.66" y2="178.84" stroke="#141414" stroke-width="1.35"/>
<line x1="426.78" y1="181.98" x2="428.38" y2="181.98" stroke="#063c7f" stroke-width="0.6" stroke-opacity="0.55" stroke-dasharray="1.2 0.8"/>
<line x1="425.85" y1="191.39" x2="429.31" y2="191.39" stroke="#063c7f" stroke-width="0.6" stroke-opacity="0.55" stroke-dasharray="1.2 0.8"/>
<path d="M427.75 207.38 L427.75 206.17 L427.75 204.95 L427.75 203.74 L427.75 202.52 L427.75 201.31 L427.8 200.09 L427.89 198.88 L428.01 197.66 L428.19 196.44 L428.52 195.23 L429.03 194.01 L429.39 192.8 L429.81 191.58 L430.5 190.37 L431.14 189.15 L431.47 187.94 L431.56 186.72 L431.27 185.51 L430.5 184.29 L429.44 183.08 L428.89 181.86 L428.91 180.65 L428.97 179.43 L429.03 178.22 L429.08 177 L429.06 175.79 L428.94 174.57 L428.75 173.36 L428.54 172.14 L428.34 170.93 L428.18 169.71 L428.04 168.5 L427.91 167.28 L427.79 166.06 L427.75 164.85 L427.75 163.63 L427.41 163.63 L427.41 164.85 L427.37 166.06 L427.25 167.28 L427.12 168.5 L426.98 169.71 L426.82 170.93 L426.62 172.14 L426.41 173.36 L426.22 174.57 L426.1 175.79 L426.08 177 L426.13 178.22 L426.19 179.43 L426.25 180.65 L426.27 181.86 L425.72 183.08 L424.66 184.29 L423.89 185.51 L423.6 186.72 L423.69 187.94 L424.02 189.15 L424.66 190.37 L425.35 191.58 L425.77 192.8 L426.13 194.01 L426.64 195.23 L426.97 196.44 L427.15 197.66 L427.27 198.88 L427.36 200.09 L427.41 201.31 L427.41 202.52 L427.41 203.74 L427.41 204.95 L427.41 206.17 L427.41 207.38Z" fill="none" stroke="#063c7f" stroke-width="1.25" stroke-linejoin="round"/>
<line x1="423.51" y1="187.47" x2="431.65" y2="187.47" stroke="#141414" stroke-width="1.35"/>
<line x1="437.32" y1="177.28" x2="443.04" y2="177.28" stroke="#808080" stroke-width="0.6" stroke-opacity="0.55" stroke-dasharray="1.2 0.8"/>
<line x1="438.22" y1="188.25" x2="442.14" y2="188.25" stroke="#808080" stroke-width="0.6" stroke-opacity="0.55" stroke-dasharray="1.2 0.8"/>
<path d="M440.35 207.38 L440.35 206.16 L440.35 204.93 L440.35 203.7 L440.35 202.48 L440.35 201.25 L440.35 200.03 L440.39 198.8 L440.46 197.57 L440.55 196.35 L440.67 195.12 L440.86 193.9 L441.14 192.67 L441.55 191.44 L441.88 190.22 L442.31 188.99 L443.04 187.76 L443.73 186.54 L444.06 185.31 L444.17 184.09 L443.96 182.86 L443.37 181.63 L442.98 180.41 L443.21 179.18 L443.55 177.96 L443.67 176.73 L443.54 175.5 L443.11 174.28 L442.33 173.05 L441.69 171.83 L441.06 170.6 L440.64 169.37 L440.41 168.15 L440.35 166.92 L440.35 165.7 L440.35 164.47 L440.35 163.24 L440.35 162.02 L440.35 160.79 L440.35 159.57 L440.35 158.34 L440.35 157.11 L440.35 155.89 L440.35 154.66 L440.35 153.44 L440.35 152.21 L440.35 150.98 L440.35 149.76 L440.01 149.76 L440.01 150.98 L440.01 152.21 L440.01 153.44 L440.01 154.66 L440.01 155.89 L440.01 157.11 L440.01 158.34 L440.01 159.57 L440.01 160.79 L440.01 162.02 L440.01 163.24 L440.01 164.47 L440.01 165.7 L440.01 166.92 L439.95 168.15 L439.72 169.37 L439.3 170.6 L438.67 171.83 L438.03 173.05 L437.25 174.28 L436.82 175.5 L436.69 176.73 L436.81 177.96 L437.15 179.18 L437.38 180.41 L436.99 181.63 L436.4 182.86 L436.19 184.09 L436.3 185.31 L436.63 186.54 L437.32 187.76 L438.05 188.99 L438.48 190.22 L438.81 191.44 L439.22 192.67 L439.5 193.9 L439.69 195.12 L439.81 196.35 L439.9 197.57 L439.97 198.8 L440.01 200.03 L440.01 201.25 L440.01 202.48 L440.01 203.7 L440.01 204.93 L440.01 206.16 L440.01 207.38Z" fill="none" stroke="#808080" stroke-width="1.25" stroke-linejoin="round"/>
<line x1="436.16" y1="183.55" x2="444.2" y2="183.55" stroke="#141414" stroke-width="1.35"/>
<line x1="458.33" y1="121.61" x2="463.89" y2="121.61" stroke="#1274f8" stroke-width="0.6" stroke-opacity="0.55" stroke-dasharray="1.2 0.8"/>
<line x1="459.54" y1="129.45" x2="462.68" y2="129.45" stroke="#1274f8" stroke-width="0.6" stroke-opacity="0.55" stroke-dasharray="1.2 0.8"/>
<path d="M461.28 140.98 L461.28 139.72 L461.28 138.46 L461.32 137.2 L461.48 135.95 L461.71 134.69 L462.28 133.43 L462.9 132.17 L463.25 130.92 L463.29 129.66 L463.18 128.4 L463.11 127.14 L463.81 125.89 L464.76 124.63 L465.01 123.37 L464.72 122.11 L463.97 120.86 L463.08 119.6 L462.47 118.34 L461.75 117.08 L461.41 115.83 L461.29 114.57 L461.28 113.31 L461.28 112.05 L461.28 110.8 L461.28 109.54 L460.94 109.54 L460.94 110.8 L460.94 112.05 L460.94 113.31 L460.93 114.57 L460.81 115.83 L460.47 117.08 L459.75 118.34 L459.14 119.6 L458.25 120.86 L457.5 122.11 L457.21 123.37 L457.46 124.63 L458.41 125.89 L459.11 127.14 L459.04 128.4 L458.93 129.66 L458.97 130.92 L459.32 132.17 L459.94 133.43 L460.51 134.69 L460.74 135.95 L460.9 137.2 L460.94 138.46 L460.94 139.72 L460.94 140.98Z" fill="none" stroke="#1274f8" stroke-width="1.25" stroke-linejoin="round"/>
<line x1="457.41" y1="124.75" x2="464.81" y2="124.75" stroke="#141414" stroke-width="1.35"/>
<line x1="471.52" y1="118.48" x2="475.9" y2="118.48" stroke="#063c7f" stroke-width="0.6" stroke-opacity="0.55" stroke-dasharray="1.2 0.8"/>
<line x1="471.85" y1="128.67" x2="475.57" y2="128.67" stroke="#063c7f" stroke-width="0.6" stroke-opacity="0.55" stroke-dasharray="1.2 0.8"/>
<path d="M473.88 144.9 L473.88 143.67 L473.88 142.45 L473.92 141.22 L474.39 140 L475.05 138.77 L475.12 137.55 L474.55 136.32 L474.07 135.1 L473.97 133.87 L474.74 132.65 L475.76 131.42 L476.13 130.2 L476.19 128.98 L476.06 127.75 L475.71 126.53 L475.36 125.3 L475.61 124.08 L476.88 122.85 L477.59 121.63 L477.63 120.4 L477.14 119.18 L475.91 117.95 L474.38 116.73 L474.17 115.5 L474.41 114.28 L474.73 113.05 L474.81 111.83 L474.48 110.6 L474.08 109.38 L473.88 108.15 L473.88 106.93 L473.88 105.71 L473.88 104.48 L473.88 103.26 L473.88 102.03 L473.88 100.81 L473.88 99.58 L473.54 99.58 L473.54 100.81 L473.54 102.03 L473.54 103.26 L473.54 104.48 L473.54 105.71 L473.54 106.93 L473.54 108.15 L473.34 109.38 L472.94 110.6 L472.61 111.83 L472.69 113.05 L473.01 114.28 L473.25 115.5 L473.04 116.73 L471.51 117.95 L470.28 119.18 L469.79 120.4 L469.83 121.63 L470.54 122.85 L471.81 124.08 L472.06 125.3 L471.71 126.53 L471.36 127.75 L471.23 128.98 L471.29 130.2 L471.66 131.42 L472.68 132.65 L473.45 133.87 L473.35 135.1 L472.87 136.32 L472.3 137.55 L472.37 138.77 L473.03 140 L473.5 141.22 L473.54 142.45 L473.54 143.67 L473.54 144.9Z" fill="none" stroke="#063c7f" stroke-width="1.25" stroke-linejoin="round"/>
<line x1="469.72" y1="121.61" x2="477.7" y2="121.61" stroke="#141414" stroke-width="1.35"/>
<line x1="483.44" y1="120.04" x2="489.18" y2="120.04" stroke="#808080" stroke-width="0.6" stroke-opacity="0.55" stroke-dasharray="1.2 0.8"/>
<line x1="484.11" y1="129.45" x2="488.51" y2="129.45" stroke="#808080" stroke-width="0.6" stroke-opacity="0.55" stroke-dasharray="1.2 0.8"/>
<path d="M486.48 144.19 L486.48 142.98 L486.48 141.77 L486.48 140.56 L486.48 139.35 L486.53 138.14 L486.64 136.93 L486.82 135.72 L487.13 134.5 L487.95 133.29 L488.57 132.08 L488.94 130.87 L489.1 129.66 L489.07 128.45 L488.93 127.24 L488.74 126.03 L488.94 124.82 L489.79 123.61 L490.18 122.4 L490.11 121.19 L489.75 119.97 L488.9 118.76 L487.85 117.55 L486.87 116.34 L486.97 115.13 L487.29 113.92 L487.42 112.71 L487.01 111.5 L486.58 110.29 L486.48 109.08 L486.48 107.87 L486.48 106.66 L486.48 105.44 L486.48 104.23 L486.48 103.02 L486.48 101.81 L486.48 100.6 L486.14 100.6 L486.14 101.81 L486.14 103.02 L486.14 104.23 L486.14 105.44 L486.14 106.66 L486.14 107.87 L486.14 109.08 L486.04 110.29 L485.61 111.5 L485.2 112.71 L485.33 113.92 L485.65 115.13 L485.75 116.34 L484.77 117.55 L483.72 118.76 L482.87 119.97 L482.51 121.19 L482.44 122.4 L482.83 123.61 L483.68 124.82 L483.88 126.03 L483.69 127.24 L483.55 128.45 L483.52 129.66 L483.68 130.87 L484.05 132.08 L484.67 133.29 L485.49 134.5 L485.8 135.72 L485.98 136.93 L486.09 138.14 L486.14 139.35 L486.14 140.56 L486.14 141.77 L486.14 142.98 L486.14 144.19Z" fill="none" stroke="#808080" stroke-width="1.25" stroke-linejoin="round"/>
<line x1="482.67" y1="123.49" x2="489.95" y2="123.49" stroke="#141414" stroke-width="1.35"/>
<line x1="506.32" y1="187.47" x2="508.16" y2="187.47" stroke="#1274f8" stroke-width="0.6" stroke-opacity="0.55" stroke-dasharray="1.2 0.8"/>
<line x1="504.26" y1="211.77" x2="510.22" y2="211.77" stroke="#1274f8" stroke-width="0.6" stroke-opacity="0.55" stroke-dasharray="1.2 0.8"/>
<path d="M507.41 245.41 L507.41 244.19 L507.41 242.98 L507.41 241.77 L507.41 240.55 L507.41 239.34 L507.41 238.13 L507.41 236.91 L507.41 235.7 L507.41 234.49 L507.41 233.27 L507.41 232.06 L507.41 230.85 L507.45 229.63 L507.56 228.42 L507.74 227.21 L508.03 225.99 L508.4 224.78 L508.8 223.56 L509.04 222.35 L509.25 221.14 L509.45 219.92 L509.67 218.71 L509.9 217.5 L510.13 216.28 L510.35 215.07 L510.55 213.86 L510.72 212.64 L510.86 211.43 L510.95 210.22 L511.04 209 L511.1 207.79 L511.14 206.58 L511.13 205.36 L511.09 204.15 L511.02 202.94 L510.94 201.72 L510.86 200.51 L510.75 199.3 L510.58 198.08 L510.37 196.87 L510.13 195.66 L509.87 194.44 L509.61 193.23 L509.36 192.02 L509.14 190.8 L508.95 189.59 L508.82 188.38 L508.75 187.16 L508.75 185.95 L508.83 184.74 L508.95 183.52 L509.1 182.31 L509.24 181.1 L509.36 179.88 L509.43 178.67 L509.43 177.46 L509.34 176.24 L509.17 175.03 L508.96 173.82 L508.68 172.6 L508.22 171.39 L507.86 170.18 L507.62 168.96 L507.48 167.75 L507.41 166.54 L507.41 165.32 L507.41 164.11 L507.41 162.9 L507.41 161.68 L507.41 160.47 L507.41 159.26 L507.41 158.04 L507.41 156.83 L507.41 155.62 L507.41 154.4 L507.41 153.19 L507.41 151.98 L507.41 150.76 L507.41 149.55 L507.41 148.34 L507.41 147.12 L507.41 145.91 L507.41 144.7 L507.41 143.48 L507.41 142.27 L507.45 141.06 L507.51 139.84 L507.58 138.63 L507.63 137.42 L507.66 136.2 L507.66 134.99 L507.61 133.78 L507.53 132.56 L507.45 131.35 L507.41 130.14 L507.41 128.92 L507.41 127.71 L507.41 126.5 L507.41 125.28 L507.41 124.07 L507.41 122.86 L507.41 121.64 L507.41 120.43 L507.41 119.22 L507.41 118 L507.41 116.79 L507.41 115.58 L507.07 115.58 L507.07 116.79 L507.07 118 L507.07 119.22 L507.07 120.43 L507.07 121.64 L507.07 122.86 L507.07 124.07 L507.07 125.28 L507.07 126.5 L507.07 127.71 L507.07 128.92 L507.07 130.14 L507.03 131.35 L506.95 132.56 L506.87 133.78 L506.82 134.99 L506.82 136.2 L506.85 137.42 L506.9 138.63 L506.97 139.84 L507.03 141.06 L507.07 142.27 L507.07 143.48 L507.07 144.7 L507.07 145.91 L507.07 147.12 L507.07 148.34 L507.07 149.55 L507.07 150.76 L507.07 151.98 L507.07 153.19 L507.07 154.4 L507.07 155.62 L507.07 156.83 L507.07 158.04 L507.07 159.26 L507.07 160.47 L507.07 161.68 L507.07 162.9 L507.07 164.11 L507.07 165.32 L507.07 166.54 L507 167.75 L506.86 168.96 L506.62 170.18 L506.26 171.39 L505.8 172.6 L505.52 173.82 L505.31 175.03 L505.14 176.24 L505.05 177.46 L505.05 178.67 L505.12 179.88 L505.24 181.1 L505.38 182.31 L505.53 183.52 L505.65 184.74 L505.73 185.95 L505.73 187.16 L505.66 188.38 L505.53 189.59 L505.34 190.8 L505.12 192.02 L504.87 193.23 L504.61 194.44 L504.35 195.66 L504.11 196.87 L503.9 198.08 L503.73 199.3 L503.62 200.51 L503.54 201.72 L503.46 202.94 L503.39 204.15 L503.35 205.36 L503.34 206.58 L503.38 207.79 L503.44 209 L503.53 210.22 L503.62 211.43 L503.76 212.64 L503.93 213.86 L504.13 215.07 L504.35 216.28 L504.58 217.5 L504.81 218.71 L505.03 219.92 L505.23 221.14 L505.44 222.35 L505.68 223.56 L506.08 224.78 L506.45 225.99 L506.74 227.21 L506.92 228.42 L507.03 229.63 L507.07 230.85 L507.07 232.06 L507.07 233.27 L507.07 234.49 L507.07 235.7 L507.07 236.91 L507.07 238.13 L507.07 239.34 L507.07 240.55 L507.07 241.77 L507.07 242.98 L507.07 244.19 L507.07 245.41Z" fill="none" stroke="#1274f8" stroke-width="1.25" stroke-linejoin="round"/>
<line x1="503.45" y1="201.58" x2="511.03" y2="201.58" stroke="#141414" stroke-width="1.35"/>
<line x1="516.76" y1="207.07" x2="522.92" y2="207.07" stroke="#063c7f" stroke-width="0.6" stroke-opacity="0.55" stroke-dasharray="1.2 0.8"/>
<line x1="518.44" y1="221.96" x2="521.24" y2="221.96" stroke="#063c7f" stroke-width="0.6" stroke-opacity="0.55" stroke-dasharray="1.2 0.8"/>
<path d="M520.01 253.09 L520.01 251.88 L520.01 250.68 L520.01 249.47 L520.01 248.27 L520.01 247.06 L520.01 245.86 L520.01 244.65 L520.02 243.44 L520.18 242.24 L520.41 241.03 L520.66 239.83 L520.8 238.62 L520.76 237.42 L520.62 236.21 L520.45 235.01 L520.29 233.8 L520.16 232.59 L520.09 231.39 L520.08 230.18 L520.15 228.98 L520.31 227.77 L520.57 226.57 L520.95 225.36 L521.39 224.16 L521.65 222.95 L521.88 221.74 L522.13 220.54 L522.42 219.33 L522.71 218.13 L522.99 216.92 L523.24 215.72 L523.44 214.51 L523.56 213.31 L523.67 212.1 L523.73 210.89 L523.73 209.69 L523.65 208.48 L523.54 207.28 L523.41 206.07 L523.19 204.87 L522.91 203.66 L522.58 202.46 L522.24 201.25 L521.92 200.04 L521.64 198.84 L521.44 197.63 L521.23 196.43 L520.97 195.22 L520.76 194.02 L520.61 192.81 L520.52 191.61 L520.46 190.4 L520.43 189.2 L520.4 187.99 L520.37 186.78 L520.35 185.58 L520.33 184.37 L520.3 183.17 L520.27 181.96 L520.23 180.76 L520.19 179.55 L520.14 178.35 L520.1 177.14 L520.05 175.93 L520.01 174.73 L520.01 173.52 L520.01 172.32 L520.01 171.11 L520.01 169.91 L519.67 169.91 L519.67 171.11 L519.67 172.32 L519.67 173.52 L519.67 174.73 L519.63 175.93 L519.58 177.14 L519.54 178.35 L519.49 179.55 L519.45 180.76 L519.41 181.96 L519.38 183.17 L519.35 184.37 L519.33 185.58 L519.31 186.78 L519.28 187.99 L519.25 189.2 L519.22 190.4 L519.16 191.61 L519.07 192.81 L518.92 194.02 L518.71 195.22 L518.45 196.43 L518.24 197.63 L518.04 198.84 L517.76 200.04 L517.44 201.25 L517.1 202.46 L516.77 203.66 L516.49 204.87 L516.27 206.07 L516.14 207.28 L516.03 208.48 L515.95 209.69 L515.95 210.89 L516.01 212.1 L516.12 213.31 L516.24 214.51 L516.44 215.72 L516.69 216.92 L516.97 218.13 L517.26 219.33 L517.55 220.54 L517.8 221.74 L518.03 222.95 L518.29 224.16 L518.73 225.36 L519.11 226.57 L519.37 227.77 L519.53 228.98 L519.6 230.18 L519.59 231.39 L519.52 232.59 L519.39 233.8 L519.23 235.01 L519.06 236.21 L518.92 237.42 L518.88 238.62 L519.02 239.83 L519.27 241.03 L519.5 242.24 L519.66 243.44 L519.67 244.65 L519.67 245.86 L519.67 247.06 L519.67 248.27 L519.67 249.47 L519.67 250.68 L519.67 251.88 L519.67 253.09Z" fill="none" stroke="#063c7f" stroke-width="1.25" stroke-linejoin="round"/>
<line x1="516.04" y1="213.5" x2="523.64" y2="213.5" stroke="#141414" stroke-width="1.35"/>
<line x1="530.44" y1="198.44" x2="534.44" y2="198.44" stroke="#808080" stroke-width="0.6" stroke-opacity="0.55" stroke-dasharray="1.2 0.8"/>
<line x1="530.1" y1="218.83" x2="534.78" y2="218.83" stroke="#808080" stroke-width="0.6" stroke-opacity="0.55" stroke-dasharray="1.2 0.8"/>
<path d="M532.61 254.58 L532.61 253.37 L532.61 252.16 L532.61 250.95 L532.61 249.74 L532.61 248.53 L532.61 247.33 L532.61 246.12 L532.61 244.91 L532.61 243.7 L532.61 242.49 L532.61 241.28 L532.61 240.07 L532.61 238.86 L532.61 237.66 L532.61 236.45 L532.68 235.24 L532.77 234.03 L532.88 232.82 L533.01 231.61 L533.2 230.4 L533.44 229.19 L533.74 227.99 L534.01 226.78 L534.2 225.57 L534.39 224.36 L534.58 223.15 L534.77 221.94 L535 220.73 L535.24 219.52 L535.48 218.31 L535.71 217.11 L535.91 215.9 L536.07 214.69 L536.17 213.48 L536.26 212.27 L536.32 211.06 L536.34 209.85 L536.3 208.64 L536.24 207.44 L536.16 206.23 L536.05 205.02 L535.89 203.81 L535.71 202.6 L535.51 201.39 L535.31 200.18 L535.12 198.97 L534.95 197.77 L534.8 196.56 L534.64 195.35 L534.48 194.14 L534.31 192.93 L534.16 191.72 L534.02 190.51 L533.86 189.3 L533.69 188.1 L533.59 186.89 L533.57 185.68 L533.6 184.47 L533.66 183.26 L533.74 182.05 L533.83 180.84 L533.9 179.63 L533.94 178.42 L533.91 177.22 L533.77 176.01 L533.56 174.8 L533.33 173.59 L533.13 172.38 L532.96 171.17 L532.85 169.96 L532.75 168.75 L532.67 167.55 L532.61 166.34 L532.61 165.13 L532.61 163.92 L532.61 162.71 L532.61 161.5 L532.61 160.29 L532.61 159.08 L532.61 157.88 L532.61 156.67 L532.61 155.46 L532.61 154.25 L532.61 153.04 L532.61 151.83 L532.61 150.62 L532.61 149.41 L532.61 148.21 L532.61 147 L532.61 145.79 L532.61 144.58 L532.61 143.37 L532.61 142.16 L532.61 140.95 L532.61 139.74 L532.61 138.53 L532.61 137.33 L532.61 136.12 L532.61 134.91 L532.61 133.7 L532.61 132.49 L532.61 131.28 L532.61 130.07 L532.61 128.86 L532.61 127.66 L532.61 126.45 L532.61 125.24 L532.61 124.03 L532.61 122.82 L532.61 121.61 L532.27 121.61 L532.27 122.82 L532.27 124.03 L532.27 125.24 L532.27 126.45 L532.27 127.66 L532.27 128.86 L532.27 130.07 L532.27 131.28 L532.27 132.49 L532.27 133.7 L532.27 134.91 L532.27 136.12 L532.27 137.33 L532.27 138.53 L532.27 139.74 L532.27 140.95 L532.27 142.16 L532.27 143.37 L532.27 144.58 L532.27 145.79 L532.27 147 L532.27 148.21 L532.27 149.41 L532.27 150.62 L532.27 151.83 L532.27 153.04 L532.27 154.25 L532.27 155.46 L532.27 156.67 L532.27 157.88 L532.27 159.08 L532.27 160.29 L532.27 161.5 L532.27 162.71 L532.27 163.92 L532.27 165.13 L532.27 166.34 L532.21 167.55 L532.13 168.75 L532.03 169.96 L531.92 171.17 L531.75 172.38 L531.55 173.59 L531.32 174.8 L531.11 176.01 L530.97 177.22 L530.94 178.42 L530.98 179.63 L531.05 180.84 L531.14 182.05 L531.22 183.26 L531.28 184.47 L531.31 185.68 L531.29 186.89 L531.19 188.1 L531.02 189.3 L530.86 190.51 L530.72 191.72 L530.57 192.93 L530.4 194.14 L530.24 195.35 L530.08 196.56 L529.93 197.77 L529.76 198.97 L529.57 200.18 L529.37 201.39 L529.17 202.6 L528.99 203.81 L528.83 205.02 L528.72 206.23 L528.64 207.44 L528.58 208.64 L528.54 209.85 L528.56 211.06 L528.62 212.27 L528.71 213.48 L528.81 214.69 L528.97 215.9 L529.17 217.11 L529.4 218.31 L529.64 219.52 L529.88 220.73 L530.11 221.94 L530.3 223.15 L530.49 224.36 L530.68 225.57 L530.87 226.78 L531.14 227.99 L531.44 229.19 L531.68 230.4 L531.87 231.61 L532 232.82 L532.11 234.03 L532.2 235.24 L532.27 236.45 L532.27 237.66 L532.27 238.86 L532.27 240.07 L532.27 241.28 L532.27 242.49 L532.27 243.7 L532.27 244.91 L532.27 246.12 L532.27 247.33 L532.27 248.53 L532.27 249.74 L532.27 250.95 L532.27 252.16 L532.27 253.37 L532.27 254.58Z" fill="none" stroke="#808080" stroke-width="1.25" stroke-linejoin="round"/>
<line x1="528.45" y1="209.42" x2="536.43" y2="209.42" stroke="#141414" stroke-width="1.35"/>
</g>
<g>
<text transform="translate(336.5 382.2) scale(1 1.05)" font-size="20.8" text-anchor="middle" fill="#141414">Hamsters</text>
<text transform="translate(87.6 524.85) rotate(-90) scale(1 1.05)" font-size="22.3" text-anchor="middle" fill="#141414">Ct</text>
<path d="M130.8 385.5 V660.4 H541.6" fill="none" stroke="#3a3a3a" stroke-width="1"/>
<line x1="125.2" y1="660.4" x2="130.8" y2="660.4" stroke="#3a3a3a" stroke-width="1"/>
<text x="123.5" y="664.4" font-size="11.3" text-anchor="end" fill="#141414">0</text>
<line x1="125.2" y1="621.2" x2="130.8" y2="621.2" stroke="#3a3a3a" stroke-width="1"/>
<text x="123.5" y="625.2" font-size="11.3" text-anchor="end" fill="#141414">5</text>
<line x1="125.2" y1="582" x2="130.8" y2="582" stroke="#3a3a3a" stroke-width="1"/>
<text x="123.5" y="586" font-size="11.3" text-anchor="end" fill="#141414">10</text>
<line x1="125.2" y1="542.8" x2="130.8" y2="542.8" stroke="#3a3a3a" stroke-width="1"/>
<text x="123.5" y="546.8" font-size="11.3" text-anchor="end" fill="#141414">15</text>
<line x1="125.2" y1="503.6" x2="130.8" y2="503.6" stroke="#3a3a3a" stroke-width="1"/>
<text x="123.5" y="507.6" font-size="11.3" text-anchor="end" fill="#141414">20</text>
<line x1="125.2" y1="464.4" x2="130.8" y2="464.4" stroke="#3a3a3a" stroke-width="1"/>
<text x="123.5" y="468.4" font-size="11.3" text-anchor="end" fill="#141414">25</text>
<line x1="125.2" y1="425.2" x2="130.8" y2="425.2" stroke="#3a3a3a" stroke-width="1"/>
<text x="123.5" y="429.2" font-size="11.3" text-anchor="end" fill="#141414">30</text>
<line x1="125.2" y1="386" x2="130.8" y2="386" stroke="#3a3a3a" stroke-width="1"/>
<text x="123.5" y="390" font-size="11.3" text-anchor="end" fill="#141414">35</text>
<line x1="151.3" y1="660.4" x2="151.3" y2="666" stroke="#3a3a3a" stroke-width="1"/>
<text x="151.9" y="678.1" font-size="11.15" font-style="italic" text-anchor="middle" fill="#141414">B2m</text>
<line x1="197.47" y1="660.4" x2="197.47" y2="666" stroke="#3a3a3a" stroke-width="1"/>
<text x="198.07" y="678.1" font-size="11.15" font-style="italic" text-anchor="middle" fill="#141414">Hrpt</text>
<line x1="243.64" y1="660.4" x2="243.64" y2="666" stroke="#3a3a3a" stroke-width="1"/>
<text x="244.24" y="678.1" font-size="11.15" font-style="italic" text-anchor="middle" fill="#141414">Tbp</text>
<line x1="289.81" y1="660.4" x2="289.81" y2="666" stroke="#3a3a3a" stroke-width="1"/>
<text x="290.41" y="678.1" font-size="11.15" font-style="italic" text-anchor="middle" fill="#141414">Gapdh</text>
<line x1="335.98" y1="660.4" x2="335.98" y2="666" stroke="#3a3a3a" stroke-width="1"/>
<text x="336.58" y="678.1" font-size="11.15" font-style="italic" text-anchor="middle" fill="#141414">Sdha</text>
<line x1="382.15" y1="660.4" x2="382.15" y2="666" stroke="#3a3a3a" stroke-width="1"/>
<text x="382.75" y="678.1" font-size="11.15" font-style="italic" text-anchor="middle" fill="#141414">Ppia</text>
<line x1="428.32" y1="660.4" x2="428.32" y2="666" stroke="#3a3a3a" stroke-width="1"/>
<text x="428.92" y="678.1" font-size="11.15" font-style="italic" text-anchor="middle" fill="#141414">Actb</text>
<line x1="474.49" y1="660.4" x2="474.49" y2="666" stroke="#3a3a3a" stroke-width="1"/>
<text x="475.09" y="678.1" font-size="11.15" font-style="italic" text-anchor="middle" fill="#141414">Gusb</text>
<line x1="520.66" y1="660.4" x2="520.66" y2="666" stroke="#3a3a3a" stroke-width="1"/>
<text x="521.26" y="678.1" font-size="11.15" font-style="italic" text-anchor="middle" fill="#141414">18S</text>
<line x1="136.61" y1="507.52" x2="141.19" y2="507.52" stroke="#42b361" stroke-width="0.6" stroke-opacity="0.55" stroke-dasharray="1.2 0.8"/>
<line x1="135.5" y1="529.47" x2="142.3" y2="529.47" stroke="#42b361" stroke-width="0.6" stroke-opacity="0.55" stroke-dasharray="1.2 0.8"/>
<path d="M139.07 547.03 L139.07 545.83 L139.07 544.62 L139.07 543.42 L139.07 542.21 L139.08 541.01 L139.27 539.8 L139.7 538.59 L140.35 537.39 L140.83 536.18 L141.39 534.98 L141.96 533.77 L142.42 532.57 L142.68 531.36 L142.86 530.16 L142.89 528.95 L142.8 527.74 L142.65 526.54 L142.48 525.33 L142.17 524.13 L141.73 522.92 L141.24 521.72 L140.74 520.51 L140.23 519.31 L139.72 518.1 L139.57 516.89 L139.74 515.69 L140.25 514.48 L140.72 513.28 L141.12 512.07 L141.44 510.87 L141.62 509.66 L141.74 508.46 L141.8 507.25 L141.75 506.04 L141.63 504.84 L141.41 503.63 L141.1 502.43 L140.76 501.22 L140.47 500.02 L140.1 498.81 L139.73 497.61 L139.44 496.4 L139.24 495.19 L139.1 493.99 L139.07 492.78 L139.07 491.58 L139.07 490.37 L139.07 489.17 L139.07 487.96 L139.07 486.76 L139.07 485.55 L139.07 484.34 L139.07 483.14 L139.07 481.93 L139.07 480.73 L139.07 479.52 L139.07 478.32 L139.07 477.11 L139.07 475.91 L139.07 474.7 L139.07 473.49 L138.73 473.49 L138.73 474.7 L138.73 475.91 L138.73 477.11 L138.73 478.32 L138.73 479.52 L138.73 480.73 L138.73 481.93 L138.73 483.14 L138.73 484.34 L138.73 485.55 L138.73 486.76 L138.73 487.96 L138.73 489.17 L138.73 490.37 L138.73 491.58 L138.73 492.78 L138.7 493.99 L138.56 495.19 L138.36 496.4 L138.07 497.61 L137.7 498.81 L137.33 500.02 L137.04 501.22 L136.7 502.43 L136.39 503.63 L136.17 504.84 L136.05 506.04 L136 507.25 L136.06 508.46 L136.18 509.66 L136.36 510.87 L136.68 512.07 L137.08 513.28 L137.55 514.48 L138.06 515.69 L138.23 516.89 L138.08 518.1 L137.57 519.31 L137.06 520.51 L136.56 521.72 L136.07 522.92 L135.63 524.13 L135.32 525.33 L135.15 526.54 L135 527.74 L134.91 528.95 L134.94 530.16 L135.12 531.36 L135.38 532.57 L135.84 533.77 L136.41 534.98 L136.97 536.18 L137.45 537.39 L138.1 538.59 L138.53 539.8 L138.72 541.01 L138.73 542.21 L138.73 543.42 L138.73 544.62 L138.73 545.83 L138.73 547.03Z" fill="none" stroke="#42b361" stroke-width="1.25" stroke-linejoin="round"/>
<line x1="135.58" y1="523.98" x2="142.22" y2="523.98" stroke="#141414" stroke-width="1.35"/>
<line x1="150.33" y1="504.38" x2="152.67" y2="504.38" stroke="#0d5c2e" stroke-width="0.6" stroke-opacity="0.55" stroke-dasharray="1.2 0.8"/>
<line x1="148.1" y1="529.47" x2="154.9" y2="529.47" stroke="#0d5c2e" stroke-width="0.6" stroke-opacity="0.55" stroke-dasharray="1.2 0.8"/>
<path d="M151.67 556.91 L151.67 555.7 L151.67 554.48 L151.67 553.27 L151.67 552.05 L151.67 550.84 L151.67 549.62 L151.72 548.41 L151.79 547.19 L151.9 545.98 L152.09 544.76 L152.4 543.55 L152.84 542.34 L153.19 541.12 L153.47 539.91 L153.74 538.69 L154.05 537.48 L154.39 536.26 L154.73 535.05 L155.03 533.83 L155.24 532.62 L155.38 531.4 L155.48 530.19 L155.49 528.97 L155.44 527.76 L155.35 526.54 L155.25 525.33 L155.07 524.11 L154.83 522.9 L154.56 521.69 L154.3 520.47 L154.08 519.26 L153.93 518.04 L153.85 516.83 L153.79 515.61 L153.74 514.4 L153.7 513.18 L153.67 511.97 L153.63 510.75 L153.59 509.54 L153.54 508.32 L153.48 507.11 L153.39 505.89 L153.3 504.68 L153.18 503.47 L153.07 502.25 L152.89 501.04 L152.67 499.82 L152.48 498.61 L152.32 497.39 L152.2 496.18 L152.11 494.96 L152.03 493.75 L151.95 492.53 L151.89 491.32 L151.83 490.1 L151.79 488.89 L151.75 487.67 L151.71 486.46 L151.69 485.24 L151.67 484.03 L151.67 482.82 L151.67 481.6 L151.67 480.39 L151.67 479.17 L151.67 477.96 L151.67 476.74 L151.67 475.53 L151.67 474.31 L151.67 473.1 L151.67 471.88 L151.67 470.67 L151.67 469.45 L151.67 468.24 L151.67 467.02 L151.67 465.81 L151.67 464.59 L151.67 463.38 L151.67 462.17 L151.67 460.95 L151.33 460.95 L151.33 462.17 L151.33 463.38 L151.33 464.59 L151.33 465.81 L151.33 467.02 L151.33 468.24 L151.33 469.45 L151.33 470.67 L151.33 471.88 L151.33 473.1 L151.33 474.31 L151.33 475.53 L151.33 476.74 L151.33 477.96 L151.33 479.17 L151.33 480.39 L151.33 481.6 L151.33 482.82 L151.33 484.03 L151.31 485.24 L151.29 486.46 L151.25 487.67 L151.21 488.89 L151.17 490.1 L151.11 491.32 L151.05 492.53 L150.97 493.75 L150.89 494.96 L150.8 496.18 L150.68 497.39 L150.52 498.61 L150.33 499.82 L150.11 501.04 L149.93 502.25 L149.82 503.47 L149.7 504.68 L149.61 505.89 L149.52 507.11 L149.46 508.32 L149.41 509.54 L149.37 510.75 L149.33 511.97 L149.3 513.18 L149.26 514.4 L149.21 515.61 L149.15 516.83 L149.07 518.04 L148.92 519.26 L148.7 520.47 L148.44 521.69 L148.17 522.9 L147.93 524.11 L147.75 525.33 L147.65 526.54 L147.56 527.76 L147.51 528.97 L147.52 530.19 L147.62 531.4 L147.76 532.62 L147.97 533.83 L148.27 535.05 L148.61 536.26 L148.95 537.48 L149.26 538.69 L149.53 539.91 L149.81 541.12 L150.16 542.34 L150.6 543.55 L150.91 544.76 L151.1 545.98 L151.21 547.19 L151.28 548.41 L151.33 549.62 L151.33 550.84 L151.33 552.05 L151.33 553.27 L151.33 554.48 L151.33 555.7 L151.33 556.91Z" fill="none" stroke="#0d5c2e" stroke-width="1.25" stroke-linejoin="round"/>
<line x1="148.35" y1="521.63" x2="154.65" y2="521.63" stroke="#141414" stroke-width="1.35"/>
<line x1="162.3" y1="505.95" x2="165.9" y2="505.95" stroke="#808080" stroke-width="0.6" stroke-opacity="0.55" stroke-dasharray="1.2 0.8"/>
<line x1="160.73" y1="529.47" x2="167.47" y2="529.47" stroke="#808080" stroke-width="0.6" stroke-opacity="0.55" stroke-dasharray="1.2 0.8"/>
<path d="M164.27 552.91 L164.27 551.71 L164.27 550.5 L164.27 549.3 L164.27 548.09 L164.27 546.88 L164.27 545.68 L164.27 544.47 L164.34 543.27 L164.49 542.06 L164.75 540.85 L165.14 539.65 L165.63 538.44 L165.92 537.23 L166.28 536.03 L166.73 534.82 L167.19 533.62 L167.59 532.41 L167.85 531.2 L168.01 530 L168.1 528.79 L168.06 527.59 L167.95 526.38 L167.81 525.17 L167.59 523.97 L167.24 522.76 L166.82 521.56 L166.4 520.35 L166.03 519.14 L165.77 517.94 L165.7 516.73 L165.74 515.53 L165.81 514.32 L165.92 513.11 L166.05 511.91 L166.18 510.7 L166.3 509.5 L166.41 508.29 L166.48 507.08 L166.5 505.88 L166.46 504.67 L166.36 503.46 L166.21 502.26 L166.03 501.05 L165.85 499.85 L165.67 498.64 L165.43 497.43 L165.17 496.23 L164.92 495.02 L164.7 493.82 L164.51 492.61 L164.38 491.4 L164.28 490.2 L164.27 488.99 L164.27 487.79 L164.27 486.58 L164.27 485.37 L164.27 484.17 L164.27 482.96 L164.27 481.76 L164.27 480.55 L164.27 479.34 L164.27 478.14 L164.27 476.93 L164.27 475.73 L164.27 474.52 L164.27 473.31 L164.27 472.11 L164.27 470.9 L164.27 469.69 L164.27 468.49 L164.27 467.28 L164.27 466.08 L164.27 464.87 L163.93 464.87 L163.93 466.08 L163.93 467.28 L163.93 468.49 L163.93 469.69 L163.93 470.9 L163.93 472.11 L163.93 473.31 L163.93 474.52 L163.93 475.73 L163.93 476.93 L163.93 478.14 L163.93 479.34 L163.93 480.55 L163.93 481.76 L163.93 482.96 L163.93 484.17 L163.93 485.37 L163.93 486.58 L163.93 487.79 L163.93 488.99 L163.92 490.2 L163.82 491.4 L163.69 492.61 L163.5 493.82 L163.28 495.02 L163.03 496.23 L162.77 497.43 L162.53 498.64 L162.35 499.85 L162.17 501.05 L161.99 502.26 L161.84 503.46 L161.74 504.67 L161.7 505.88 L161.72 507.08 L161.79 508.29 L161.9 509.5 L162.02 510.7 L162.15 511.91 L162.28 513.11 L162.39 514.32 L162.46 515.53 L162.5 516.73 L162.43 517.94 L162.17 519.14 L161.8 520.35 L161.38 521.56 L160.96 522.76 L160.61 523.97 L160.39 525.17 L160.25 526.38 L160.14 527.59 L160.1 528.79 L160.19 530 L160.35 531.2 L160.61 532.41 L161.01 533.62 L161.47 534.82 L161.92 536.03 L162.28 537.23 L162.57 538.44 L163.06 539.65 L163.45 540.85 L163.71 542.06 L163.86 543.27 L163.93 544.47 L163.93 545.68 L163.93 546.88 L163.93 548.09 L163.93 549.3 L163.93 550.5 L163.93 551.71 L163.93 552.91Z" fill="none" stroke="#808080" stroke-width="1.25" stroke-linejoin="round"/>
<line x1="160.72" y1="523.2" x2="167.48" y2="523.2" stroke="#141414" stroke-width="1.35"/>
<line x1="183.01" y1="486.35" x2="187.13" y2="486.35" stroke="#42b361" stroke-width="0.6" stroke-opacity="0.55" stroke-dasharray="1.2 0.8"/>
<line x1="183.16" y1="499.68" x2="186.98" y2="499.68" stroke="#42b361" stroke-width="0.6" stroke-opacity="0.55" stroke-dasharray="1.2 0.8"/>
<path d="M185.24 514.11 L185.24 512.89 L185.24 511.68 L185.24 510.47 L185.32 509.26 L185.75 508.05 L186.57 506.84 L186.98 505.63 L187.17 504.41 L187.29 503.2 L187.39 501.99 L187.48 500.78 L187.59 499.57 L187.76 498.36 L188.04 497.15 L188.36 495.93 L188.65 494.72 L188.83 493.51 L188.94 492.3 L188.96 491.09 L188.82 489.88 L188.6 488.67 L188.2 487.45 L187.68 486.24 L187.19 485.03 L186.83 483.82 L186.52 482.61 L186.04 481.4 L185.68 480.19 L185.44 478.97 L185.31 477.76 L185.24 476.55 L185.24 475.34 L185.24 474.13 L185.24 472.92 L185.24 471.71 L185.24 470.49 L185.24 469.28 L185.24 468.07 L185.24 466.86 L185.24 465.65 L185.24 464.44 L185.24 463.23 L185.24 462.02 L185.24 460.8 L185.24 459.59 L185.24 458.38 L185.34 457.17 L185.46 455.96 L185.6 454.75 L185.71 453.54 L185.73 452.32 L185.64 451.11 L185.48 449.9 L185.34 448.69 L185.25 447.48 L185.24 446.27 L185.24 445.06 L185.24 443.84 L185.24 442.63 L185.24 441.42 L185.24 440.21 L185.24 439 L184.9 439 L184.9 440.21 L184.9 441.42 L184.9 442.63 L184.9 443.84 L184.9 445.06 L184.9 446.27 L184.89 447.48 L184.8 448.69 L184.66 449.9 L184.5 451.11 L184.41 452.32 L184.43 453.54 L184.54 454.75 L184.68 455.96 L184.8 457.17 L184.9 458.38 L184.9 459.59 L184.9 460.8 L184.9 462.02 L184.9 463.23 L184.9 464.44 L184.9 465.65 L184.9 466.86 L184.9 468.07 L184.9 469.28 L184.9 470.49 L184.9 471.71 L184.9 472.92 L184.9 474.13 L184.9 475.34 L184.9 476.55 L184.83 477.76 L184.7 478.97 L184.46 480.19 L184.1 481.4 L183.62 482.61 L183.31 483.82 L182.95 485.03 L182.46 486.24 L181.94 487.45 L181.54 488.67 L181.32 489.88 L181.18 491.09 L181.2 492.3 L181.31 493.51 L181.49 494.72 L181.78 495.93 L182.1 497.15 L182.38 498.36 L182.55 499.57 L182.66 500.78 L182.75 501.99 L182.85 503.2 L182.97 504.41 L183.16 505.63 L183.57 506.84 L184.39 508.05 L184.82 509.26 L184.9 510.47 L184.9 511.68 L184.9 512.89 L184.9 514.11Z" fill="none" stroke="#42b361" stroke-width="1.25" stroke-linejoin="round"/>
<line x1="181.13" y1="492.62" x2="189.01" y2="492.62" stroke="#141414" stroke-width="1.35"/>
<line x1="195.6" y1="488.7" x2="199.74" y2="488.7" stroke="#0d5c2e" stroke-width="0.6" stroke-opacity="0.55" stroke-dasharray="1.2 0.8"/>
<line x1="194.61" y1="496.54" x2="200.73" y2="496.54" stroke="#0d5c2e" stroke-width="0.6" stroke-opacity="0.55" stroke-dasharray="1.2 0.8"/>
<path d="M197.84 514.89 L197.84 513.67 L197.84 512.45 L197.84 511.23 L197.84 510.02 L197.84 508.8 L197.87 507.58 L197.96 506.36 L198.1 505.14 L198.4 503.92 L199.01 502.7 L199.53 501.49 L199.97 500.27 L200.4 499.05 L200.88 497.83 L201.32 496.61 L201.56 495.39 L201.67 494.17 L201.58 492.96 L201.4 491.74 L201.1 490.52 L200.61 489.3 L200.05 488.08 L199.56 486.86 L199.28 485.64 L199.17 484.43 L199.04 483.21 L198.93 481.99 L198.84 480.77 L198.74 479.55 L198.61 478.33 L198.41 477.11 L198.18 475.9 L198 474.68 L197.88 473.46 L197.84 472.24 L197.84 471.02 L197.84 469.8 L197.84 468.58 L197.84 467.37 L197.84 466.15 L197.84 464.93 L197.84 463.71 L197.84 462.49 L197.84 461.27 L197.84 460.05 L197.84 458.84 L197.84 457.62 L197.84 456.4 L197.84 455.18 L197.84 453.96 L197.84 452.74 L197.91 451.52 L198.04 450.31 L198.2 449.09 L198.31 447.87 L198.32 446.65 L198.21 445.43 L198.05 444.21 L197.9 442.99 L197.84 441.78 L197.84 440.56 L197.84 439.34 L197.84 438.12 L197.84 436.9 L197.84 435.68 L197.84 434.46 L197.84 433.25 L197.84 432.03 L197.84 430.81 L197.84 429.59 L197.5 429.59 L197.5 430.81 L197.5 432.03 L197.5 433.25 L197.5 434.46 L197.5 435.68 L197.5 436.9 L197.5 438.12 L197.5 439.34 L197.5 440.56 L197.5 441.78 L197.44 442.99 L197.29 444.21 L197.13 445.43 L197.02 446.65 L197.03 447.87 L197.14 449.09 L197.3 450.31 L197.43 451.52 L197.5 452.74 L197.5 453.96 L197.5 455.18 L197.5 456.4 L197.5 457.62 L197.5 458.84 L197.5 460.05 L197.5 461.27 L197.5 462.49 L197.5 463.71 L197.5 464.93 L197.5 466.15 L197.5 467.37 L197.5 468.58 L197.5 469.8 L197.5 471.02 L197.5 472.24 L197.46 473.46 L197.34 474.68 L197.16 475.9 L196.93 477.11 L196.73 478.33 L196.6 479.55 L196.5 480.77 L196.41 481.99 L196.3 483.21 L196.17 484.43 L196.06 485.64 L195.78 486.86 L195.29 488.08 L194.73 489.3 L194.24 490.52 L193.94 491.74 L193.76 492.96 L193.67 494.17 L193.78 495.39 L194.02 496.61 L194.46 497.83 L194.94 499.05 L195.37 500.27 L195.81 501.49 L196.33 502.7 L196.94 503.92 L197.24 505.14 L197.38 506.36 L197.47 507.58 L197.5 508.8 L197.5 510.02 L197.5 511.23 L197.5 512.45 L197.5 513.67 L197.5 514.89Z" fill="none" stroke="#0d5c2e" stroke-width="1.25" stroke-linejoin="round"/>
<line x1="193.66" y1="492.94" x2="201.68" y2="492.94" stroke="#141414" stroke-width="1.35"/>
<line x1="208.14" y1="487.14" x2="212.4" y2="487.14" stroke="#808080" stroke-width="0.6" stroke-opacity="0.55" stroke-dasharray="1.2 0.8"/>
<line x1="208.46" y1="498.9" x2="212.08" y2="498.9" stroke="#808080" stroke-width="0.6" stroke-opacity="0.55" stroke-dasharray="1.2 0.8"/>
<path d="M210.44 513.32 L210.44 512.11 L210.44 510.91 L210.44 509.7 L210.6 508.49 L211.04 507.28 L211.41 506.07 L211.7 504.86 L211.86 503.66 L211.99 502.45 L212.15 501.24 L212.36 500.03 L212.71 498.82 L213.13 497.61 L213.51 496.41 L213.77 495.2 L213.91 493.99 L213.97 492.78 L213.9 491.57 L213.76 490.36 L213.57 489.16 L213.26 487.95 L212.87 486.74 L212.46 485.53 L212.11 484.32 L211.85 483.11 L211.56 481.91 L211.24 480.7 L210.97 479.49 L210.77 478.28 L210.61 477.07 L210.51 475.86 L210.44 474.66 L210.44 473.45 L210.44 472.24 L210.44 471.03 L210.44 469.82 L210.44 468.62 L210.44 467.41 L210.44 466.2 L210.44 464.99 L210.44 463.78 L210.44 462.57 L210.44 461.37 L210.44 460.16 L210.44 458.95 L210.44 457.74 L210.44 456.53 L210.44 455.32 L210.44 454.12 L210.44 452.91 L210.44 451.7 L210.53 450.49 L210.66 449.28 L210.78 448.07 L210.81 446.87 L210.72 445.66 L210.57 444.45 L210.44 443.24 L210.44 442.03 L210.44 440.82 L210.44 439.62 L210.44 438.41 L210.44 437.2 L210.44 435.99 L210.44 434.78 L210.44 433.57 L210.44 432.37 L210.44 431.16 L210.1 431.16 L210.1 432.37 L210.1 433.57 L210.1 434.78 L210.1 435.99 L210.1 437.2 L210.1 438.41 L210.1 439.62 L210.1 440.82 L210.1 442.03 L210.1 443.24 L209.97 444.45 L209.82 445.66 L209.73 446.87 L209.76 448.07 L209.88 449.28 L210.01 450.49 L210.1 451.7 L210.1 452.91 L210.1 454.12 L210.1 455.32 L210.1 456.53 L210.1 457.74 L210.1 458.95 L210.1 460.16 L210.1 461.37 L210.1 462.57 L210.1 463.78 L210.1 464.99 L210.1 466.2 L210.1 467.41 L210.1 468.62 L210.1 469.82 L210.1 471.03 L210.1 472.24 L210.1 473.45 L210.1 474.66 L210.03 475.86 L209.93 477.07 L209.77 478.28 L209.57 479.49 L209.3 480.7 L208.98 481.91 L208.69 483.11 L208.43 484.32 L208.08 485.53 L207.67 486.74 L207.28 487.95 L206.97 489.16 L206.78 490.36 L206.64 491.57 L206.57 492.78 L206.63 493.99 L206.77 495.2 L207.03 496.41 L207.41 497.61 L207.83 498.82 L208.18 500.03 L208.39 501.24 L208.55 502.45 L208.68 503.66 L208.84 504.86 L209.13 506.07 L209.5 507.28 L209.94 508.49 L210.1 509.7 L210.1 510.91 L210.1 512.11 L210.1 513.32Z" fill="none" stroke="#808080" stroke-width="1.25" stroke-linejoin="round"/>
<line x1="206.47" y1="492.94" x2="214.07" y2="492.94" stroke="#141414" stroke-width="1.35"/>
<line x1="230.24" y1="475.38" x2="232.24" y2="475.38" stroke="#42b361" stroke-width="0.6" stroke-opacity="0.55" stroke-dasharray="1.2 0.8"/>
<line x1="228.75" y1="483.22" x2="233.73" y2="483.22" stroke="#42b361" stroke-width="0.6" stroke-opacity="0.55" stroke-dasharray="1.2 0.8"/>
<path d="M231.41 533.47 L231.41 532.26 L231.41 531.04 L231.41 529.83 L231.41 528.62 L231.56 527.4 L231.93 526.19 L232.19 524.97 L232.08 523.76 L231.75 522.55 L231.47 521.33 L231.41 520.12 L231.41 518.91 L231.41 517.69 L231.41 516.48 L231.41 515.26 L231.41 514.05 L231.41 512.84 L231.41 511.62 L231.41 510.41 L231.41 509.19 L231.41 507.98 L231.41 506.77 L231.41 505.55 L231.41 504.34 L231.41 503.13 L231.41 501.91 L231.41 500.7 L231.41 499.48 L231.41 498.27 L231.41 497.06 L231.41 495.84 L231.41 494.63 L231.41 493.42 L231.41 492.2 L231.41 490.99 L231.56 489.77 L231.84 488.56 L232.27 487.35 L232.8 486.13 L233.35 484.92 L234.05 483.71 L234.68 482.49 L235.03 481.28 L235.22 480.06 L235.09 478.85 L234.48 477.64 L233.35 476.42 L232.84 475.21 L232.92 474 L233.02 472.78 L233 471.57 L232.74 470.35 L232.08 469.14 L231.61 467.93 L231.41 466.71 L231.41 465.5 L231.41 464.28 L231.41 463.07 L231.41 461.86 L231.41 460.64 L231.41 459.43 L231.41 458.22 L231.41 457 L231.41 455.79 L231.41 454.57 L231.41 453.36 L231.41 452.15 L231.41 450.93 L231.52 449.72 L231.63 448.51 L231.66 447.29 L231.57 446.08 L231.44 444.86 L231.41 443.65 L231.41 442.44 L231.41 441.22 L231.41 440.01 L231.41 438.8 L231.41 437.58 L231.41 436.37 L231.41 435.15 L231.41 433.94 L231.41 432.73 L231.07 432.73 L231.07 433.94 L231.07 435.15 L231.07 436.37 L231.07 437.58 L231.07 438.8 L231.07 440.01 L231.07 441.22 L231.07 442.44 L231.07 443.65 L231.04 444.86 L230.91 446.08 L230.82 447.29 L230.85 448.51 L230.96 449.72 L231.07 450.93 L231.07 452.15 L231.07 453.36 L231.07 454.57 L231.07 455.79 L231.07 457 L231.07 458.22 L231.07 459.43 L231.07 460.64 L231.07 461.86 L231.07 463.07 L231.07 464.28 L231.07 465.5 L231.07 466.71 L230.87 467.93 L230.4 469.14 L229.74 470.35 L229.48 471.57 L229.46 472.78 L229.56 474 L229.64 475.21 L229.13 476.42 L228 477.64 L227.39 478.85 L227.26 480.06 L227.45 481.28 L227.8 482.49 L228.43 483.71 L229.13 484.92 L229.68 486.13 L230.21 487.35 L230.64 488.56 L230.92 489.77 L231.07 490.99 L231.07 492.2 L231.07 493.42 L231.07 494.63 L231.07 495.84 L231.07 497.06 L231.07 498.27 L231.07 499.48 L231.07 500.7 L231.07 501.91 L231.07 503.13 L231.07 504.34 L231.07 505.55 L231.07 506.77 L231.07 507.98 L231.07 509.19 L231.07 510.41 L231.07 511.62 L231.07 512.84 L231.07 514.05 L231.07 515.26 L231.07 516.48 L231.07 517.69 L231.07 518.91 L231.07 520.12 L231.01 521.33 L230.73 522.55 L230.4 523.76 L230.29 524.97 L230.55 526.19 L230.92 527.4 L231.07 528.62 L231.07 529.83 L231.07 531.04 L231.07 532.26 L231.07 533.47Z" fill="none" stroke="#42b361" stroke-width="1.25" stroke-linejoin="round"/>
<line x1="227.14" y1="479.69" x2="235.34" y2="479.69" stroke="#141414" stroke-width="1.35"/>
<line x1="240.81" y1="474.59" x2="246.87" y2="474.59" stroke="#0d5c2e" stroke-width="0.6" stroke-opacity="0.55" stroke-dasharray="1.2 0.8"/>
<line x1="241.78" y1="484" x2="245.9" y2="484" stroke="#0d5c2e" stroke-width="0.6" stroke-opacity="0.55" stroke-dasharray="1.2 0.8"/>
<path d="M244.01 534.65 L244.01 533.43 L244.01 532.21 L244.01 531 L244.01 529.78 L244.06 528.56 L244.41 527.35 L244.86 526.13 L245.14 524.91 L244.95 523.7 L244.49 522.48 L244.1 521.26 L244.01 520.05 L244.01 518.83 L244.01 517.61 L244.01 516.4 L244.01 515.18 L244.01 513.97 L244.01 512.75 L244.01 511.53 L244.01 510.32 L244.01 509.1 L244.01 507.88 L244.01 506.67 L244.01 505.45 L244.01 504.23 L244.01 503.02 L244.01 501.8 L244.01 500.58 L244.01 499.37 L244.01 498.15 L244.01 496.93 L244.01 495.72 L244.01 494.5 L244.01 493.28 L244.01 492.07 L244.02 490.85 L244.41 489.63 L245.48 488.42 L246.12 487.2 L246.41 485.98 L246.54 484.77 L246.42 483.55 L246.24 482.33 L246.7 481.12 L247.44 479.9 L247.83 478.69 L247.93 477.47 L247.8 476.25 L247.57 475.04 L247.18 473.82 L246.53 472.6 L245.79 471.39 L244.94 470.17 L244.34 468.95 L244.28 467.74 L244.42 466.52 L244.62 465.3 L244.78 464.09 L244.7 462.87 L244.33 461.65 L244.06 460.44 L244.01 459.22 L244.01 458 L244.01 456.79 L244.01 455.57 L244.01 454.35 L244.01 453.14 L244.01 451.92 L244.01 450.7 L244.01 449.49 L244.01 448.27 L244.01 447.05 L244.01 445.84 L244.13 444.62 L244.33 443.41 L244.49 442.19 L244.47 440.97 L244.27 439.76 L244.07 438.54 L244.01 437.32 L244.01 436.11 L244.01 434.89 L244.01 433.67 L244.01 432.46 L244.01 431.24 L244.01 430.02 L244.01 428.81 L243.67 428.81 L243.67 430.02 L243.67 431.24 L243.67 432.46 L243.67 433.67 L243.67 434.89 L243.67 436.11 L243.67 437.32 L243.61 438.54 L243.41 439.76 L243.21 440.97 L243.19 442.19 L243.35 443.41 L243.55 444.62 L243.67 445.84 L243.67 447.05 L243.67 448.27 L243.67 449.49 L243.67 450.7 L243.67 451.92 L243.67 453.14 L243.67 454.35 L243.67 455.57 L243.67 456.79 L243.67 458 L243.67 459.22 L243.62 460.44 L243.35 461.65 L242.98 462.87 L242.9 464.09 L243.06 465.3 L243.26 466.52 L243.4 467.74 L243.34 468.95 L242.74 470.17 L241.89 471.39 L241.15 472.6 L240.5 473.82 L240.11 475.04 L239.88 476.25 L239.75 477.47 L239.85 478.69 L240.24 479.9 L240.98 481.12 L241.44 482.33 L241.26 483.55 L241.14 484.77 L241.27 485.98 L241.56 487.2 L242.2 488.42 L243.27 489.63 L243.66 490.85 L243.67 492.07 L243.67 493.28 L243.67 494.5 L243.67 495.72 L243.67 496.93 L243.67 498.15 L243.67 499.37 L243.67 500.58 L243.67 501.8 L243.67 503.02 L243.67 504.23 L243.67 505.45 L243.67 506.67 L243.67 507.88 L243.67 509.1 L243.67 510.32 L243.67 511.53 L243.67 512.75 L243.67 513.97 L243.67 515.18 L243.67 516.4 L243.67 517.61 L243.67 518.83 L243.67 520.05 L243.58 521.26 L243.19 522.48 L242.73 523.7 L242.54 524.91 L242.82 526.13 L243.27 527.35 L243.62 528.56 L243.67 529.78 L243.67 531 L243.67 532.21 L243.67 533.43 L243.67 534.65Z" fill="none" stroke="#0d5c2e" stroke-width="1.25" stroke-linejoin="round"/>
<line x1="239.72" y1="478.51" x2="247.96" y2="478.51" stroke="#141414" stroke-width="1.35"/>
<line x1="254.24" y1="475.38" x2="258.64" y2="475.38" stroke="#808080" stroke-width="0.6" stroke-opacity="0.55" stroke-dasharray="1.2 0.8"/>
<line x1="255.04" y1="484" x2="257.84" y2="484" stroke="#808080" stroke-width="0.6" stroke-opacity="0.55" stroke-dasharray="1.2 0.8"/>
<path d="M256.61 534.25 L256.61 533.05 L256.61 531.84 L256.61 530.63 L256.61 529.42 L256.61 528.21 L256.76 527 L257.01 525.79 L257.1 524.58 L256.96 523.37 L256.74 522.16 L256.61 520.95 L256.61 519.74 L256.61 518.53 L256.61 517.32 L256.61 516.11 L256.61 514.9 L256.61 513.7 L256.61 512.49 L256.61 511.28 L256.61 510.07 L256.61 508.86 L256.61 507.65 L256.61 506.44 L256.61 505.23 L256.61 504.02 L256.61 502.81 L256.61 501.6 L256.61 500.39 L256.61 499.18 L256.61 497.97 L256.61 496.76 L256.61 495.56 L256.61 494.35 L256.61 493.14 L256.61 491.93 L256.61 490.72 L256.68 489.51 L256.82 488.3 L257.14 487.09 L257.7 485.88 L258.21 484.67 L258.67 483.46 L259.35 482.25 L260 481.04 L260.33 479.83 L260.43 478.62 L260.21 477.42 L259.73 476.21 L259.02 475 L258.43 473.79 L258.02 472.58 L257.38 471.37 L256.94 470.16 L256.73 468.95 L256.66 467.74 L256.62 466.53 L256.61 465.32 L256.61 464.11 L256.61 462.9 L256.61 461.69 L256.61 460.48 L256.61 459.28 L256.61 458.07 L256.61 456.86 L256.61 455.65 L256.61 454.44 L256.61 453.23 L256.61 452.02 L256.61 450.81 L256.61 449.6 L256.61 448.39 L256.61 447.18 L256.61 445.97 L256.61 444.76 L256.61 443.55 L256.61 442.34 L256.61 441.14 L256.61 439.93 L256.61 438.72 L256.61 437.51 L256.61 436.3 L256.61 435.09 L256.61 433.88 L256.61 432.67 L256.61 431.46 L256.61 430.25 L256.61 429.04 L256.27 429.04 L256.27 430.25 L256.27 431.46 L256.27 432.67 L256.27 433.88 L256.27 435.09 L256.27 436.3 L256.27 437.51 L256.27 438.72 L256.27 439.93 L256.27 441.14 L256.27 442.34 L256.27 443.55 L256.27 444.76 L256.27 445.97 L256.27 447.18 L256.27 448.39 L256.27 449.6 L256.27 450.81 L256.27 452.02 L256.27 453.23 L256.27 454.44 L256.27 455.65 L256.27 456.86 L256.27 458.07 L256.27 459.28 L256.27 460.48 L256.27 461.69 L256.27 462.9 L256.27 464.11 L256.27 465.32 L256.26 466.53 L256.22 467.74 L256.15 468.95 L255.94 470.16 L255.5 471.37 L254.86 472.58 L254.45 473.79 L253.86 475 L253.15 476.21 L252.67 477.42 L252.45 478.62 L252.55 479.83 L252.88 481.04 L253.53 482.25 L254.21 483.46 L254.67 484.67 L255.18 485.88 L255.74 487.09 L256.06 488.3 L256.2 489.51 L256.27 490.72 L256.27 491.93 L256.27 493.14 L256.27 494.35 L256.27 495.56 L256.27 496.76 L256.27 497.97 L256.27 499.18 L256.27 500.39 L256.27 501.6 L256.27 502.81 L256.27 504.02 L256.27 505.23 L256.27 506.44 L256.27 507.65 L256.27 508.86 L256.27 510.07 L256.27 511.28 L256.27 512.49 L256.27 513.7 L256.27 514.9 L256.27 516.11 L256.27 517.32 L256.27 518.53 L256.27 519.74 L256.27 520.95 L256.14 522.16 L255.92 523.37 L255.78 524.58 L255.87 525.79 L256.12 527 L256.27 528.21 L256.27 529.42 L256.27 530.63 L256.27 531.84 L256.27 533.05 L256.27 534.25Z" fill="none" stroke="#808080" stroke-width="1.25" stroke-linejoin="round"/>
<line x1="252.36" y1="479.3" x2="260.52" y2="479.3" stroke="#141414" stroke-width="1.35"/>
<line x1="275.21" y1="520.85" x2="279.61" y2="520.85" stroke="#42b361" stroke-width="0.6" stroke-opacity="0.55" stroke-dasharray="1.2 0.8"/>
<line x1="274.43" y1="538.1" x2="280.39" y2="538.1" stroke="#42b361" stroke-width="0.6" stroke-opacity="0.55" stroke-dasharray="1.2 0.8"/>
<path d="M277.58 560.91 L277.58 559.71 L277.58 558.5 L277.58 557.3 L277.58 556.09 L277.58 554.89 L277.58 553.68 L277.58 552.48 L277.6 551.27 L277.71 550.07 L277.87 548.86 L278.12 547.66 L278.51 546.45 L278.99 545.25 L279.29 544.04 L279.6 542.84 L279.94 541.63 L280.34 540.43 L280.71 539.22 L281.01 538.02 L281.18 536.81 L281.3 535.61 L281.29 534.4 L281.2 533.2 L281.05 531.99 L280.76 530.79 L280.42 529.58 L280.14 528.38 L280.01 527.18 L280.03 525.97 L280.09 524.77 L280.15 523.56 L280.19 522.36 L280.21 521.15 L280.19 519.95 L280.09 518.74 L279.93 517.54 L279.65 516.33 L279.31 515.13 L278.99 513.92 L278.64 512.72 L278.33 511.51 L278.08 510.31 L277.88 509.1 L277.73 507.9 L277.63 506.69 L277.58 505.49 L277.58 504.28 L277.58 503.08 L277.58 501.87 L277.58 500.67 L277.58 499.46 L277.58 498.26 L277.58 497.05 L277.58 495.85 L277.58 494.65 L277.58 493.44 L277.58 492.24 L277.58 491.03 L277.58 489.83 L277.58 488.62 L277.58 487.42 L277.58 486.21 L277.58 485.01 L277.58 483.8 L277.58 482.6 L277.58 481.39 L277.58 480.19 L277.58 478.98 L277.24 478.98 L277.24 480.19 L277.24 481.39 L277.24 482.6 L277.24 483.8 L277.24 485.01 L277.24 486.21 L277.24 487.42 L277.24 488.62 L277.24 489.83 L277.24 491.03 L277.24 492.24 L277.24 493.44 L277.24 494.65 L277.24 495.85 L277.24 497.05 L277.24 498.26 L277.24 499.46 L277.24 500.67 L277.24 501.87 L277.24 503.08 L277.24 504.28 L277.24 505.49 L277.19 506.69 L277.09 507.9 L276.94 509.1 L276.74 510.31 L276.49 511.51 L276.18 512.72 L275.83 513.92 L275.51 515.13 L275.17 516.33 L274.89 517.54 L274.73 518.74 L274.63 519.95 L274.61 521.15 L274.63 522.36 L274.67 523.56 L274.73 524.77 L274.79 525.97 L274.81 527.18 L274.68 528.38 L274.4 529.58 L274.06 530.79 L273.77 531.99 L273.62 533.2 L273.53 534.4 L273.52 535.61 L273.64 536.81 L273.81 538.02 L274.11 539.22 L274.48 540.43 L274.88 541.63 L275.22 542.84 L275.53 544.04 L275.83 545.25 L276.31 546.45 L276.7 547.66 L276.95 548.86 L277.11 550.07 L277.22 551.27 L277.24 552.48 L277.24 553.68 L277.24 554.89 L277.24 556.09 L277.24 557.3 L277.24 558.5 L277.24 559.71 L277.24 560.91Z" fill="none" stroke="#42b361" stroke-width="1.25" stroke-linejoin="round"/>
<line x1="273.63" y1="532.22" x2="281.19" y2="532.22" stroke="#141414" stroke-width="1.35"/>
<line x1="286.97" y1="523.2" x2="293.05" y2="523.2" stroke="#0d5c2e" stroke-width="0.6" stroke-opacity="0.55" stroke-dasharray="1.2 0.8"/>
<line x1="286.71" y1="538.1" x2="293.31" y2="538.1" stroke="#0d5c2e" stroke-width="0.6" stroke-opacity="0.55" stroke-dasharray="1.2 0.8"/>
<path d="M290.18 553.62 L290.18 552.41 L290.18 551.2 L290.18 549.99 L290.18 548.78 L290.18 547.57 L290.36 546.36 L290.9 545.14 L291.67 543.93 L292.22 542.72 L292.9 541.51 L293.49 540.3 L293.8 539.09 L293.91 537.88 L293.83 536.67 L293.68 535.46 L293.35 534.25 L292.97 533.04 L292.68 531.83 L292.62 530.62 L292.76 529.41 L293.01 528.2 L293.27 526.99 L293.48 525.77 L293.58 524.56 L293.65 523.35 L293.63 522.14 L293.45 520.93 L293.13 519.72 L292.61 518.51 L292.05 517.3 L291.59 516.09 L290.98 514.88 L290.49 513.67 L290.24 512.46 L290.18 511.25 L290.18 510.04 L290.18 508.83 L290.18 507.62 L290.18 506.41 L290.18 505.19 L290.18 503.98 L290.18 502.77 L290.18 501.56 L290.18 500.35 L290.18 499.14 L290.18 497.93 L290.18 496.72 L290.18 495.51 L290.18 494.3 L290.18 493.09 L290.18 491.88 L290.18 490.67 L290.18 489.46 L290.18 488.25 L290.18 487.04 L290.18 485.82 L290.18 484.61 L290.18 483.4 L290.18 482.19 L290.18 480.98 L290.18 479.77 L290.18 478.56 L290.18 477.35 L290.18 476.14 L290.18 474.93 L290.18 473.72 L290.18 472.51 L290.18 471.3 L290.18 470.09 L290.18 468.88 L290.18 467.67 L290.18 466.45 L290.18 465.24 L290.18 464.03 L290.18 462.82 L290.18 461.61 L290.18 460.4 L289.84 460.4 L289.84 461.61 L289.84 462.82 L289.84 464.03 L289.84 465.24 L289.84 466.45 L289.84 467.67 L289.84 468.88 L289.84 470.09 L289.84 471.3 L289.84 472.51 L289.84 473.72 L289.84 474.93 L289.84 476.14 L289.84 477.35 L289.84 478.56 L289.84 479.77 L289.84 480.98 L289.84 482.19 L289.84 483.4 L289.84 484.61 L289.84 485.82 L289.84 487.04 L289.84 488.25 L289.84 489.46 L289.84 490.67 L289.84 491.88 L289.84 493.09 L289.84 494.3 L289.84 495.51 L289.84 496.72 L289.84 497.93 L289.84 499.14 L289.84 500.35 L289.84 501.56 L289.84 502.77 L289.84 503.98 L289.84 505.19 L289.84 506.41 L289.84 507.62 L289.84 508.83 L289.84 510.04 L289.84 511.25 L289.78 512.46 L289.53 513.67 L289.04 514.88 L288.43 516.09 L287.97 517.3 L287.41 518.51 L286.89 519.72 L286.57 520.93 L286.39 522.14 L286.37 523.35 L286.44 524.56 L286.54 525.77 L286.75 526.99 L287.01 528.2 L287.26 529.41 L287.4 530.62 L287.34 531.83 L287.05 533.04 L286.67 534.25 L286.34 535.46 L286.19 536.67 L286.11 537.88 L286.22 539.09 L286.53 540.3 L287.12 541.51 L287.8 542.72 L288.35 543.93 L289.12 545.14 L289.66 546.36 L289.84 547.57 L289.84 548.78 L289.84 549.99 L289.84 551.2 L289.84 552.41 L289.84 553.62Z" fill="none" stroke="#0d5c2e" stroke-width="1.25" stroke-linejoin="round"/>
<line x1="287.25" y1="530.02" x2="292.77" y2="530.02" stroke="#141414" stroke-width="1.35"/>
<line x1="300.21" y1="522.42" x2="305.01" y2="522.42" stroke="#808080" stroke-width="0.6" stroke-opacity="0.55" stroke-dasharray="1.2 0.8"/>
<line x1="299.31" y1="538.1" x2="305.91" y2="538.1" stroke="#808080" stroke-width="0.6" stroke-opacity="0.55" stroke-dasharray="1.2 0.8"/>
<path d="M302.78 558.01 L302.78 556.8 L302.78 555.59 L302.78 554.39 L302.78 553.18 L302.78 551.97 L302.78 550.77 L302.78 549.56 L302.84 548.35 L303.11 547.14 L303.65 545.94 L304.29 544.73 L304.75 543.52 L305.34 542.31 L305.91 541.11 L306.27 539.9 L306.47 538.69 L306.5 537.48 L306.43 536.28 L306.32 535.07 L306.1 533.86 L305.82 532.66 L305.54 531.45 L305.35 530.24 L305.31 529.03 L305.36 527.83 L305.44 526.62 L305.53 525.41 L305.58 524.2 L305.6 523 L305.61 521.79 L305.53 520.58 L305.4 519.37 L305.19 518.17 L304.86 516.96 L304.49 515.75 L304.13 514.54 L303.65 513.34 L303.4 512.13 L303.2 510.92 L303.04 509.72 L302.92 508.51 L302.83 507.3 L302.78 506.09 L302.78 504.89 L302.78 503.68 L302.78 502.47 L302.78 501.26 L302.78 500.06 L302.78 498.85 L302.78 497.64 L302.78 496.43 L302.78 495.23 L302.78 494.02 L302.78 492.81 L302.78 491.6 L302.78 490.4 L302.78 489.19 L302.78 487.98 L302.78 486.78 L302.78 485.57 L302.78 484.36 L302.78 483.15 L302.78 481.95 L302.78 480.74 L302.78 479.53 L302.78 478.32 L302.78 477.12 L302.78 475.91 L302.78 474.7 L302.78 473.49 L302.78 472.29 L302.78 471.08 L302.78 469.87 L302.78 468.66 L302.78 467.46 L302.78 466.25 L302.78 465.04 L302.78 463.84 L302.78 462.63 L302.78 461.42 L302.44 461.42 L302.44 462.63 L302.44 463.84 L302.44 465.04 L302.44 466.25 L302.44 467.46 L302.44 468.66 L302.44 469.87 L302.44 471.08 L302.44 472.29 L302.44 473.49 L302.44 474.7 L302.44 475.91 L302.44 477.12 L302.44 478.32 L302.44 479.53 L302.44 480.74 L302.44 481.95 L302.44 483.15 L302.44 484.36 L302.44 485.57 L302.44 486.78 L302.44 487.98 L302.44 489.19 L302.44 490.4 L302.44 491.6 L302.44 492.81 L302.44 494.02 L302.44 495.23 L302.44 496.43 L302.44 497.64 L302.44 498.85 L302.44 500.06 L302.44 501.26 L302.44 502.47 L302.44 503.68 L302.44 504.89 L302.44 506.09 L302.39 507.3 L302.3 508.51 L302.18 509.72 L302.02 510.92 L301.82 512.13 L301.57 513.34 L301.09 514.54 L300.73 515.75 L300.36 516.96 L300.03 518.17 L299.82 519.37 L299.69 520.58 L299.61 521.79 L299.62 523 L299.64 524.2 L299.69 525.41 L299.78 526.62 L299.86 527.83 L299.91 529.03 L299.87 530.24 L299.68 531.45 L299.4 532.66 L299.12 533.86 L298.9 535.07 L298.79 536.28 L298.72 537.48 L298.75 538.69 L298.95 539.9 L299.31 541.11 L299.88 542.31 L300.47 543.52 L300.93 544.73 L301.57 545.94 L302.11 547.14 L302.38 548.35 L302.44 549.56 L302.44 550.77 L302.44 551.97 L302.44 553.18 L302.44 554.39 L302.44 555.59 L302.44 556.8 L302.44 558.01Z" fill="none" stroke="#808080" stroke-width="1.25" stroke-linejoin="round"/>
<line x1="299.63" y1="531.2" x2="305.59" y2="531.2" stroke="#141414" stroke-width="1.35"/>
<line x1="321.28" y1="482.43" x2="325.88" y2="482.43" stroke="#42b361" stroke-width="0.6" stroke-opacity="0.55" stroke-dasharray="1.2 0.8"/>
<line x1="321.24" y1="496.54" x2="325.92" y2="496.54" stroke="#42b361" stroke-width="0.6" stroke-opacity="0.55" stroke-dasharray="1.2 0.8"/>
<path d="M323.75 525.87 L323.75 524.66 L323.75 523.46 L323.75 522.26 L323.75 521.05 L323.75 519.85 L323.75 518.64 L323.75 517.44 L323.75 516.24 L323.91 515.03 L324.27 513.83 L324.69 512.63 L324.89 511.42 L324.83 510.22 L324.7 509.02 L324.58 507.81 L324.54 506.61 L324.61 505.41 L324.78 504.2 L325.06 503 L325.26 501.8 L325.47 500.59 L325.69 499.39 L325.95 498.19 L326.36 496.98 L326.81 495.78 L327.2 494.58 L327.42 493.37 L327.56 492.17 L327.55 490.97 L327.37 489.76 L326.95 488.56 L326.46 487.36 L326.28 486.15 L326.35 484.95 L326.44 483.75 L326.48 482.54 L326.44 481.34 L326.29 480.13 L325.98 478.93 L325.6 477.73 L325.27 476.52 L324.8 475.32 L324.25 474.12 L323.9 472.91 L323.75 471.71 L323.75 470.51 L323.75 469.3 L323.75 468.1 L323.75 466.9 L323.75 465.69 L323.75 464.49 L323.75 463.29 L323.75 462.08 L323.75 460.88 L323.75 459.68 L323.75 458.47 L323.75 457.27 L323.75 456.07 L323.75 454.86 L323.75 453.66 L323.84 452.46 L323.96 451.25 L324.07 450.05 L324.12 448.85 L324.09 447.64 L323.99 446.44 L323.87 445.24 L323.77 444.03 L323.75 442.83 L323.75 441.62 L323.75 440.42 L323.75 439.22 L323.75 438.01 L323.75 436.81 L323.75 435.61 L323.75 434.4 L323.75 433.2 L323.75 432 L323.75 430.79 L323.75 429.59 L323.41 429.59 L323.41 430.79 L323.41 432 L323.41 433.2 L323.41 434.4 L323.41 435.61 L323.41 436.81 L323.41 438.01 L323.41 439.22 L323.41 440.42 L323.41 441.62 L323.41 442.83 L323.39 444.03 L323.29 445.24 L323.17 446.44 L323.07 447.64 L323.04 448.85 L323.09 450.05 L323.2 451.25 L323.32 452.46 L323.41 453.66 L323.41 454.86 L323.41 456.07 L323.41 457.27 L323.41 458.47 L323.41 459.68 L323.41 460.88 L323.41 462.08 L323.41 463.29 L323.41 464.49 L323.41 465.69 L323.41 466.9 L323.41 468.1 L323.41 469.3 L323.41 470.51 L323.41 471.71 L323.26 472.91 L322.91 474.12 L322.36 475.32 L321.89 476.52 L321.56 477.73 L321.18 478.93 L320.87 480.13 L320.72 481.34 L320.68 482.54 L320.72 483.75 L320.81 484.95 L320.88 486.15 L320.7 487.36 L320.21 488.56 L319.79 489.76 L319.61 490.97 L319.6 492.17 L319.74 493.37 L319.96 494.58 L320.35 495.78 L320.8 496.98 L321.21 498.19 L321.47 499.39 L321.69 500.59 L321.9 501.8 L322.1 503 L322.38 504.2 L322.55 505.41 L322.62 506.61 L322.58 507.81 L322.46 509.02 L322.33 510.22 L322.27 511.42 L322.47 512.63 L322.89 513.83 L323.25 515.03 L323.41 516.24 L323.41 517.44 L323.41 518.64 L323.41 519.85 L323.41 521.05 L323.41 522.26 L323.41 523.46 L323.41 524.66 L323.41 525.87Z" fill="none" stroke="#42b361" stroke-width="1.25" stroke-linejoin="round"/>
<line x1="319.48" y1="491.6" x2="327.68" y2="491.6" stroke="#141414" stroke-width="1.35"/>
<line x1="333.78" y1="482.43" x2="338.58" y2="482.43" stroke="#0d5c2e" stroke-width="0.6" stroke-opacity="0.55" stroke-dasharray="1.2 0.8"/>
<line x1="333.86" y1="498.9" x2="338.5" y2="498.9" stroke="#0d5c2e" stroke-width="0.6" stroke-opacity="0.55" stroke-dasharray="1.2 0.8"/>
<path d="M336.35 521.32 L336.35 520.1 L336.35 518.89 L336.35 517.68 L336.35 516.46 L336.39 515.25 L336.56 514.04 L336.88 512.82 L337.53 511.61 L338.01 510.39 L338.3 509.18 L338.37 507.97 L338.28 506.75 L338.19 505.54 L338.21 504.33 L338.34 503.11 L338.54 501.9 L338.74 500.68 L338.97 499.47 L339.26 498.26 L339.57 497.04 L339.85 495.83 L340.06 494.62 L340.18 493.4 L340.27 492.19 L340.27 490.97 L340.21 489.76 L340.12 488.55 L340.02 487.33 L339.88 486.12 L339.68 484.91 L339.45 483.69 L339.19 482.48 L338.91 481.26 L338.64 480.05 L338.39 478.84 L338.16 477.62 L337.93 476.41 L337.68 475.2 L337.22 473.98 L336.86 472.77 L336.61 471.55 L336.45 470.34 L336.37 469.13 L336.35 467.91 L336.35 466.7 L336.35 465.49 L336.35 464.27 L336.35 463.06 L336.35 461.84 L336.35 460.63 L336.35 459.42 L336.35 458.2 L336.35 456.99 L336.35 455.78 L336.35 454.56 L336.35 453.35 L336.35 452.13 L336.35 450.92 L336.35 449.71 L336.4 448.49 L336.64 447.28 L337 446.07 L337.4 444.85 L337.66 443.64 L337.61 442.42 L337.29 441.21 L336.9 440 L336.58 438.78 L336.37 437.57 L336.35 436.36 L336.35 435.14 L336.35 433.93 L336.35 432.71 L336.35 431.5 L336.35 430.29 L336.35 429.07 L336.35 427.86 L336.35 426.65 L336.35 425.43 L336.35 424.22 L336.35 423 L336.01 423 L336.01 424.22 L336.01 425.43 L336.01 426.65 L336.01 427.86 L336.01 429.07 L336.01 430.29 L336.01 431.5 L336.01 432.71 L336.01 433.93 L336.01 435.14 L336.01 436.36 L335.99 437.57 L335.78 438.78 L335.46 440 L335.07 441.21 L334.75 442.42 L334.7 443.64 L334.96 444.85 L335.36 446.07 L335.72 447.28 L335.96 448.49 L336.01 449.71 L336.01 450.92 L336.01 452.13 L336.01 453.35 L336.01 454.56 L336.01 455.78 L336.01 456.99 L336.01 458.2 L336.01 459.42 L336.01 460.63 L336.01 461.84 L336.01 463.06 L336.01 464.27 L336.01 465.49 L336.01 466.7 L336.01 467.91 L335.99 469.13 L335.91 470.34 L335.75 471.55 L335.5 472.77 L335.14 473.98 L334.68 475.2 L334.43 476.41 L334.2 477.62 L333.97 478.84 L333.72 480.05 L333.45 481.26 L333.17 482.48 L332.91 483.69 L332.68 484.91 L332.48 486.12 L332.34 487.33 L332.24 488.55 L332.15 489.76 L332.09 490.97 L332.09 492.19 L332.18 493.4 L332.3 494.62 L332.51 495.83 L332.79 497.04 L333.1 498.26 L333.39 499.47 L333.62 500.68 L333.82 501.9 L334.02 503.11 L334.15 504.33 L334.17 505.54 L334.08 506.75 L333.99 507.97 L334.06 509.18 L334.35 510.39 L334.83 511.61 L335.48 512.82 L335.8 514.04 L335.97 515.25 L336.01 516.46 L336.01 517.68 L336.01 518.89 L336.01 520.1 L336.01 521.32Z" fill="none" stroke="#0d5c2e" stroke-width="1.25" stroke-linejoin="round"/>
<line x1="331.98" y1="491.6" x2="340.38" y2="491.6" stroke="#141414" stroke-width="1.35"/>
<line x1="346.38" y1="482.04" x2="351.18" y2="482.04" stroke="#808080" stroke-width="0.6" stroke-opacity="0.55" stroke-dasharray="1.2 0.8"/>
<line x1="346.59" y1="498.11" x2="350.97" y2="498.11" stroke="#808080" stroke-width="0.6" stroke-opacity="0.55" stroke-dasharray="1.2 0.8"/>
<path d="M348.95 524.69 L348.95 523.48 L348.95 522.28 L348.95 521.07 L348.95 519.86 L348.95 518.66 L348.95 517.45 L348.95 516.25 L348.95 515.04 L348.95 513.83 L348.97 512.63 L349.08 511.42 L349.24 510.21 L349.44 509.01 L349.68 507.8 L349.94 506.6 L350.25 505.39 L350.43 504.18 L350.61 502.98 L350.81 501.77 L351.02 500.57 L351.25 499.36 L351.56 498.15 L351.91 496.95 L352.25 495.74 L352.52 494.53 L352.67 493.33 L352.77 492.12 L352.74 490.92 L352.58 489.71 L352.17 488.5 L351.73 487.3 L351.58 486.09 L351.65 484.88 L351.74 483.68 L351.78 482.47 L351.74 481.27 L351.59 480.06 L351.31 478.85 L350.96 477.65 L350.65 476.44 L350.31 475.23 L349.7 474.03 L349.25 472.82 L349 471.62 L348.95 470.41 L348.95 469.2 L348.95 468 L348.95 466.79 L348.95 465.58 L348.95 464.38 L348.95 463.17 L348.95 461.97 L348.95 460.76 L348.95 459.55 L348.95 458.35 L348.95 457.14 L348.95 455.93 L348.95 454.73 L348.95 453.52 L348.95 452.32 L348.95 451.11 L348.95 449.9 L348.95 448.7 L348.99 447.49 L349.09 446.28 L349.17 445.08 L349.21 443.87 L349.16 442.67 L349.07 441.46 L348.97 440.25 L348.95 439.05 L348.95 437.84 L348.95 436.64 L348.95 435.43 L348.95 434.22 L348.95 433.02 L348.95 431.81 L348.95 430.6 L348.95 429.4 L348.95 428.19 L348.95 426.99 L348.95 425.78 L348.95 424.57 L348.61 424.57 L348.61 425.78 L348.61 426.99 L348.61 428.19 L348.61 429.4 L348.61 430.6 L348.61 431.81 L348.61 433.02 L348.61 434.22 L348.61 435.43 L348.61 436.64 L348.61 437.84 L348.61 439.05 L348.59 440.25 L348.49 441.46 L348.4 442.67 L348.35 443.87 L348.39 445.08 L348.47 446.28 L348.57 447.49 L348.61 448.7 L348.61 449.9 L348.61 451.11 L348.61 452.32 L348.61 453.52 L348.61 454.73 L348.61 455.93 L348.61 457.14 L348.61 458.35 L348.61 459.55 L348.61 460.76 L348.61 461.97 L348.61 463.17 L348.61 464.38 L348.61 465.58 L348.61 466.79 L348.61 468 L348.61 469.2 L348.61 470.41 L348.56 471.62 L348.31 472.82 L347.86 474.03 L347.25 475.23 L346.91 476.44 L346.6 477.65 L346.25 478.85 L345.97 480.06 L345.82 481.27 L345.78 482.47 L345.82 483.68 L345.91 484.88 L345.98 486.09 L345.83 487.3 L345.39 488.5 L344.98 489.71 L344.82 490.92 L344.79 492.12 L344.89 493.33 L345.04 494.53 L345.31 495.74 L345.65 496.95 L346 498.15 L346.31 499.36 L346.54 500.57 L346.75 501.77 L346.95 502.98 L347.13 504.18 L347.31 505.39 L347.62 506.6 L347.88 507.8 L348.12 509.01 L348.32 510.21 L348.48 511.42 L348.59 512.63 L348.61 513.83 L348.61 515.04 L348.61 516.25 L348.61 517.45 L348.61 518.66 L348.61 519.86 L348.61 521.07 L348.61 522.28 L348.61 523.48 L348.61 524.69Z" fill="none" stroke="#808080" stroke-width="1.25" stroke-linejoin="round"/>
<line x1="344.68" y1="491.6" x2="352.88" y2="491.6" stroke="#141414" stroke-width="1.35"/>
<line x1="367.67" y1="530.26" x2="371.83" y2="530.26" stroke="#42b361" stroke-width="0.6" stroke-opacity="0.55" stroke-dasharray="1.2 0.8"/>
<line x1="367.43" y1="540.45" x2="372.07" y2="540.45" stroke="#42b361" stroke-width="0.6" stroke-opacity="0.55" stroke-dasharray="1.2 0.8"/>
<path d="M369.92 553.85 L369.92 552.63 L369.92 551.41 L369.92 550.19 L369.92 548.97 L370.06 547.75 L370.34 546.53 L370.82 545.31 L371.37 544.09 L371.73 542.87 L372.16 541.65 L372.68 540.43 L373.15 539.21 L373.45 537.99 L373.62 536.77 L373.63 535.55 L373.5 534.33 L373.3 533.11 L372.97 531.89 L372.56 530.67 L372.16 529.45 L371.83 528.23 L371.49 527.01 L371.05 525.78 L370.55 524.56 L370.27 523.34 L370.16 522.12 L370.12 520.9 L370.08 519.68 L370.05 518.46 L370.02 517.24 L370 516.02 L369.99 514.8 L369.97 513.58 L369.96 512.36 L369.95 511.14 L369.94 509.92 L369.93 508.7 L369.92 507.48 L369.92 506.26 L369.92 505.04 L369.92 503.82 L369.92 502.6 L369.92 501.38 L369.92 500.16 L369.92 498.94 L369.92 497.71 L369.92 496.49 L369.92 495.27 L369.92 494.05 L369.92 492.83 L369.92 491.61 L369.92 490.39 L369.92 489.17 L369.92 487.95 L369.92 486.73 L369.92 485.51 L369.92 484.29 L369.92 483.07 L369.92 481.85 L369.92 480.63 L369.58 480.63 L369.58 481.85 L369.58 483.07 L369.58 484.29 L369.58 485.51 L369.58 486.73 L369.58 487.95 L369.58 489.17 L369.58 490.39 L369.58 491.61 L369.58 492.83 L369.58 494.05 L369.58 495.27 L369.58 496.49 L369.58 497.71 L369.58 498.94 L369.58 500.16 L369.58 501.38 L369.58 502.6 L369.58 503.82 L369.58 505.04 L369.58 506.26 L369.58 507.48 L369.57 508.7 L369.56 509.92 L369.55 511.14 L369.54 512.36 L369.53 513.58 L369.51 514.8 L369.5 516.02 L369.48 517.24 L369.45 518.46 L369.42 519.68 L369.38 520.9 L369.34 522.12 L369.23 523.34 L368.95 524.56 L368.45 525.78 L368.01 527.01 L367.67 528.23 L367.34 529.45 L366.94 530.67 L366.53 531.89 L366.2 533.11 L366 534.33 L365.87 535.55 L365.88 536.77 L366.05 537.99 L366.35 539.21 L366.82 540.43 L367.34 541.65 L367.77 542.87 L368.13 544.09 L368.68 545.31 L369.16 546.53 L369.44 547.75 L369.58 548.97 L369.58 550.19 L369.58 551.41 L369.58 552.63 L369.58 553.85Z" fill="none" stroke="#42b361" stroke-width="1.25" stroke-linejoin="round"/>
<line x1="365.78" y1="535.35" x2="373.72" y2="535.35" stroke="#141414" stroke-width="1.35"/>
<line x1="380.91" y1="527.12" x2="383.79" y2="527.12" stroke="#0d5c2e" stroke-width="0.6" stroke-opacity="0.55" stroke-dasharray="1.2 0.8"/>
<line x1="378.95" y1="540.45" x2="385.75" y2="540.45" stroke="#0d5c2e" stroke-width="0.6" stroke-opacity="0.55" stroke-dasharray="1.2 0.8"/>
<path d="M382.52 558.79 L382.52 557.59 L382.52 556.38 L382.52 555.17 L382.52 553.97 L382.52 552.76 L382.52 551.55 L382.54 550.35 L382.81 549.14 L383.51 547.93 L384.22 546.73 L384.72 545.52 L385.29 544.31 L385.84 543.11 L386.17 541.9 L386.34 540.69 L386.32 539.49 L386.24 538.28 L386.12 537.07 L385.94 535.87 L385.69 534.66 L385.43 533.45 L385.17 532.25 L384.95 531.04 L384.77 529.83 L384.59 528.63 L384.43 527.42 L384.27 526.21 L384.12 525.01 L383.97 523.8 L383.82 522.59 L383.57 521.39 L383.36 520.18 L383.16 518.97 L382.98 517.77 L382.82 516.56 L382.7 515.35 L382.61 514.15 L382.55 512.94 L382.52 511.73 L382.52 510.53 L382.52 509.32 L382.52 508.11 L382.52 506.91 L382.52 505.7 L382.52 504.49 L382.52 503.29 L382.52 502.08 L382.52 500.87 L382.52 499.67 L382.52 498.46 L382.52 497.25 L382.52 496.05 L382.52 494.84 L382.52 493.63 L382.52 492.43 L382.52 491.22 L382.52 490.01 L382.52 488.81 L382.52 487.6 L382.52 486.39 L382.52 485.19 L382.52 483.98 L382.52 482.77 L382.52 481.57 L382.52 480.36 L382.52 479.15 L382.52 477.95 L382.52 476.74 L382.52 475.53 L382.18 475.53 L382.18 476.74 L382.18 477.95 L382.18 479.15 L382.18 480.36 L382.18 481.57 L382.18 482.77 L382.18 483.98 L382.18 485.19 L382.18 486.39 L382.18 487.6 L382.18 488.81 L382.18 490.01 L382.18 491.22 L382.18 492.43 L382.18 493.63 L382.18 494.84 L382.18 496.05 L382.18 497.25 L382.18 498.46 L382.18 499.67 L382.18 500.87 L382.18 502.08 L382.18 503.29 L382.18 504.49 L382.18 505.7 L382.18 506.91 L382.18 508.11 L382.18 509.32 L382.18 510.53 L382.18 511.73 L382.15 512.94 L382.09 514.15 L382 515.35 L381.88 516.56 L381.72 517.77 L381.54 518.97 L381.34 520.18 L381.13 521.39 L380.88 522.59 L380.73 523.8 L380.58 525.01 L380.43 526.21 L380.27 527.42 L380.11 528.63 L379.93 529.83 L379.75 531.04 L379.53 532.25 L379.27 533.45 L379.01 534.66 L378.76 535.87 L378.58 537.07 L378.46 538.28 L378.38 539.49 L378.36 540.69 L378.53 541.9 L378.86 543.11 L379.41 544.31 L379.98 545.52 L380.48 546.73 L381.19 547.93 L381.89 549.14 L382.16 550.35 L382.18 551.55 L382.18 552.76 L382.18 553.97 L382.18 555.17 L382.18 556.38 L382.18 557.59 L382.18 558.79Z" fill="none" stroke="#0d5c2e" stroke-width="1.25" stroke-linejoin="round"/>
<line x1="378.98" y1="534.33" x2="385.72" y2="534.33" stroke="#141414" stroke-width="1.35"/>
<line x1="393.47" y1="528.69" x2="396.43" y2="528.69" stroke="#808080" stroke-width="0.6" stroke-opacity="0.55" stroke-dasharray="1.2 0.8"/>
<line x1="391.84" y1="540.45" x2="398.06" y2="540.45" stroke="#808080" stroke-width="0.6" stroke-opacity="0.55" stroke-dasharray="1.2 0.8"/>
<path d="M395.12 555.34 L395.12 554.12 L395.12 552.9 L395.12 551.68 L395.12 550.46 L395.12 549.24 L395.28 548.02 L395.82 546.8 L396.64 545.58 L397.15 544.36 L397.68 543.14 L398.22 541.92 L398.61 540.69 L398.81 539.47 L398.83 538.25 L398.74 537.03 L398.61 535.81 L398.4 534.59 L398.11 533.37 L397.79 532.15 L397.49 530.93 L397.24 529.71 L396.99 528.49 L396.73 527.27 L396.48 526.04 L396.1 524.82 L395.8 523.6 L395.61 522.38 L395.48 521.16 L395.38 519.94 L395.29 518.72 L395.22 517.5 L395.16 516.28 L395.12 515.06 L395.12 513.84 L395.12 512.62 L395.12 511.4 L395.12 510.17 L395.12 508.95 L395.12 507.73 L395.12 506.51 L395.12 505.29 L395.12 504.07 L395.12 502.85 L395.12 501.63 L395.12 500.41 L395.12 499.19 L395.12 497.97 L395.12 496.75 L395.12 495.52 L395.12 494.3 L395.12 493.08 L395.12 491.86 L395.12 490.64 L395.12 489.42 L395.12 488.2 L395.12 486.98 L395.12 485.76 L395.12 484.54 L395.12 483.32 L395.12 482.1 L395.12 480.88 L395.12 479.65 L395.12 478.43 L394.78 478.43 L394.78 479.65 L394.78 480.88 L394.78 482.1 L394.78 483.32 L394.78 484.54 L394.78 485.76 L394.78 486.98 L394.78 488.2 L394.78 489.42 L394.78 490.64 L394.78 491.86 L394.78 493.08 L394.78 494.3 L394.78 495.52 L394.78 496.75 L394.78 497.97 L394.78 499.19 L394.78 500.41 L394.78 501.63 L394.78 502.85 L394.78 504.07 L394.78 505.29 L394.78 506.51 L394.78 507.73 L394.78 508.95 L394.78 510.17 L394.78 511.4 L394.78 512.62 L394.78 513.84 L394.78 515.06 L394.74 516.28 L394.68 517.5 L394.61 518.72 L394.52 519.94 L394.42 521.16 L394.29 522.38 L394.1 523.6 L393.8 524.82 L393.42 526.04 L393.17 527.27 L392.91 528.49 L392.66 529.71 L392.41 530.93 L392.11 532.15 L391.79 533.37 L391.5 534.59 L391.29 535.81 L391.16 537.03 L391.07 538.25 L391.09 539.47 L391.29 540.69 L391.68 541.92 L392.22 543.14 L392.75 544.36 L393.26 545.58 L394.08 546.8 L394.62 548.02 L394.78 549.24 L394.78 550.46 L394.78 551.68 L394.78 552.9 L394.78 554.12 L394.78 555.34Z" fill="none" stroke="#808080" stroke-width="1.25" stroke-linejoin="round"/>
<line x1="391.26" y1="535.35" x2="398.64" y2="535.35" stroke="#141414" stroke-width="1.35"/>
<line x1="413.05" y1="532.61" x2="418.79" y2="532.61" stroke="#42b361" stroke-width="0.6" stroke-opacity="0.55" stroke-dasharray="1.2 0.8"/>
<line x1="414.31" y1="545.94" x2="417.53" y2="545.94" stroke="#42b361" stroke-width="0.6" stroke-opacity="0.55" stroke-dasharray="1.2 0.8"/>
<path d="M416.09 562.09 L416.09 560.87 L416.09 559.66 L416.09 558.45 L416.09 557.24 L416.09 556.02 L416.09 554.81 L416.21 553.6 L416.59 552.38 L417.56 551.17 L418.16 549.96 L418.45 548.75 L418.49 547.53 L418.27 546.32 L417.69 545.11 L416.78 543.9 L416.67 542.68 L417.44 541.47 L418.01 540.26 L418.7 539.05 L419.38 537.83 L419.73 536.62 L419.81 535.41 L419.68 534.19 L419.48 532.98 L419.12 531.77 L418.62 530.56 L418.07 529.34 L417.59 528.13 L417.16 526.92 L416.78 525.71 L416.5 524.49 L416.29 523.28 L416.16 522.07 L416.09 520.85 L416.09 519.64 L416.09 518.43 L416.09 517.22 L416.09 516 L416.09 514.79 L416.09 513.58 L416.09 512.37 L416.09 511.15 L416.09 509.94 L416.09 508.73 L416.09 507.51 L416.09 506.3 L416.09 505.09 L415.75 505.09 L415.75 506.3 L415.75 507.51 L415.75 508.73 L415.75 509.94 L415.75 511.15 L415.75 512.37 L415.75 513.58 L415.75 514.79 L415.75 516 L415.75 517.22 L415.75 518.43 L415.75 519.64 L415.75 520.85 L415.68 522.07 L415.55 523.28 L415.34 524.49 L415.06 525.71 L414.68 526.92 L414.25 528.13 L413.77 529.34 L413.22 530.56 L412.72 531.77 L412.36 532.98 L412.16 534.19 L412.03 535.41 L412.11 536.62 L412.46 537.83 L413.14 539.05 L413.83 540.26 L414.4 541.47 L415.17 542.68 L415.06 543.9 L414.15 545.11 L413.57 546.32 L413.35 547.53 L413.39 548.75 L413.68 549.96 L414.28 551.17 L415.25 552.38 L415.63 553.6 L415.75 554.81 L415.75 556.02 L415.75 557.24 L415.75 558.45 L415.75 559.66 L415.75 560.87 L415.75 562.09Z" fill="none" stroke="#42b361" stroke-width="1.25" stroke-linejoin="round"/>
<line x1="412.17" y1="537.31" x2="419.67" y2="537.31" stroke="#141414" stroke-width="1.35"/>
<line x1="425.36" y1="530.26" x2="431.68" y2="530.26" stroke="#0d5c2e" stroke-width="0.6" stroke-opacity="0.55" stroke-dasharray="1.2 0.8"/>
<line x1="427.47" y1="545.15" x2="429.57" y2="545.15" stroke="#0d5c2e" stroke-width="0.6" stroke-opacity="0.55" stroke-dasharray="1.2 0.8"/>
<path d="M428.69 564.28 L428.69 563.07 L428.69 561.85 L428.69 560.63 L428.69 559.42 L428.69 558.2 L428.76 556.99 L429.03 555.77 L429.48 554.55 L430.24 553.34 L430.89 552.12 L431.32 550.91 L431.51 549.69 L431.43 548.47 L431.19 547.26 L430.64 546.04 L430.02 544.83 L429.48 543.61 L429.79 542.39 L430.33 541.18 L430.81 539.96 L431.29 538.75 L431.84 537.53 L432.3 536.31 L432.54 535.1 L432.62 533.88 L432.55 532.67 L432.43 531.45 L432.28 530.24 L432.04 529.02 L431.73 527.8 L431.39 526.59 L431.04 525.37 L430.72 524.16 L430.47 522.94 L430.24 521.72 L430.01 520.51 L429.59 519.29 L429.27 518.08 L429.03 516.86 L428.86 515.64 L428.75 514.43 L428.69 513.21 L428.69 512 L428.69 510.78 L428.69 509.56 L428.69 508.35 L428.69 507.13 L428.69 505.92 L428.69 504.7 L428.69 503.48 L428.69 502.27 L428.69 501.05 L428.69 499.84 L428.35 499.84 L428.35 501.05 L428.35 502.27 L428.35 503.48 L428.35 504.7 L428.35 505.92 L428.35 507.13 L428.35 508.35 L428.35 509.56 L428.35 510.78 L428.35 512 L428.35 513.21 L428.29 514.43 L428.18 515.64 L428.01 516.86 L427.77 518.08 L427.45 519.29 L427.03 520.51 L426.8 521.72 L426.57 522.94 L426.32 524.16 L426 525.37 L425.65 526.59 L425.31 527.8 L425 529.02 L424.76 530.24 L424.61 531.45 L424.49 532.67 L424.42 533.88 L424.5 535.1 L424.74 536.31 L425.2 537.53 L425.75 538.75 L426.23 539.96 L426.71 541.18 L427.25 542.39 L427.56 543.61 L427.02 544.83 L426.4 546.04 L425.85 547.26 L425.61 548.47 L425.53 549.69 L425.72 550.91 L426.15 552.12 L426.8 553.34 L427.56 554.55 L428.01 555.77 L428.28 556.99 L428.35 558.2 L428.35 559.42 L428.35 560.63 L428.35 561.85 L428.35 563.07 L428.35 564.28Z" fill="none" stroke="#0d5c2e" stroke-width="1.25" stroke-linejoin="round"/>
<line x1="424.4" y1="535.12" x2="432.64" y2="535.12" stroke="#141414" stroke-width="1.35"/>
<line x1="438.11" y1="531.82" x2="444.13" y2="531.82" stroke="#808080" stroke-width="0.6" stroke-opacity="0.55" stroke-dasharray="1.2 0.8"/>
<line x1="440.04" y1="545.15" x2="442.2" y2="545.15" stroke="#808080" stroke-width="0.6" stroke-opacity="0.55" stroke-dasharray="1.2 0.8"/>
<path d="M441.29 563.11 L441.29 561.88 L441.29 560.65 L441.29 559.42 L441.29 558.19 L441.29 556.97 L441.32 555.74 L441.56 554.51 L442.02 553.28 L442.86 552.06 L443.44 550.83 L443.73 549.6 L443.81 548.37 L443.64 547.14 L443.19 545.92 L442.55 544.69 L442.08 543.46 L442.47 542.23 L442.99 541.01 L443.48 539.78 L444 538.55 L444.55 537.32 L444.89 536.1 L445.02 534.87 L444.95 533.64 L444.81 532.41 L444.62 531.18 L444.31 529.96 L443.91 528.73 L443.49 527.5 L443.09 526.27 L442.77 525.05 L442.48 523.82 L442.11 522.59 L441.81 521.36 L441.58 520.13 L441.42 518.91 L441.32 517.68 L441.29 516.45 L441.29 515.22 L441.29 514 L441.29 512.77 L441.29 511.54 L441.29 510.31 L441.29 509.08 L441.29 507.86 L441.29 506.63 L441.29 505.4 L441.29 504.17 L441.29 502.95 L441.29 501.72 L440.95 501.72 L440.95 502.95 L440.95 504.17 L440.95 505.4 L440.95 506.63 L440.95 507.86 L440.95 509.08 L440.95 510.31 L440.95 511.54 L440.95 512.77 L440.95 514 L440.95 515.22 L440.95 516.45 L440.92 517.68 L440.82 518.91 L440.66 520.13 L440.43 521.36 L440.13 522.59 L439.76 523.82 L439.47 525.05 L439.15 526.27 L438.75 527.5 L438.33 528.73 L437.93 529.96 L437.62 531.18 L437.43 532.41 L437.29 533.64 L437.22 534.87 L437.35 536.1 L437.69 537.32 L438.24 538.55 L438.76 539.78 L439.25 541.01 L439.77 542.23 L440.16 543.46 L439.69 544.69 L439.05 545.92 L438.6 547.14 L438.43 548.37 L438.51 549.6 L438.8 550.83 L439.38 552.06 L440.22 553.28 L440.68 554.51 L440.92 555.74 L440.95 556.97 L440.95 558.19 L440.95 559.42 L440.95 560.65 L440.95 561.88 L440.95 563.11Z" fill="none" stroke="#808080" stroke-width="1.25" stroke-linejoin="round"/>
<line x1="437.47" y1="537" x2="444.77" y2="537" stroke="#141414" stroke-width="1.35"/>
<line x1="460.09" y1="477.73" x2="464.09" y2="477.73" stroke="#42b361" stroke-width="0.6" stroke-opacity="0.55" stroke-dasharray="1.2 0.8"/>
<line x1="458.97" y1="496.54" x2="465.21" y2="496.54" stroke="#42b361" stroke-width="0.6" stroke-opacity="0.55" stroke-dasharray="1.2 0.8"/>
<path d="M462.26 514.65 L462.26 513.45 L462.26 512.25 L462.26 511.04 L462.26 509.84 L462.26 508.64 L462.34 507.43 L462.51 506.23 L462.89 505.02 L463.5 503.82 L463.92 502.62 L464.28 501.41 L464.73 500.21 L465.18 499.01 L465.57 497.8 L465.8 496.6 L465.96 495.39 L465.98 494.19 L465.93 492.99 L465.84 491.78 L465.73 490.58 L465.52 489.37 L465.25 488.17 L464.95 486.97 L464.68 485.76 L464.48 484.56 L464.39 483.36 L464.43 482.15 L464.52 480.95 L464.62 479.74 L464.67 478.54 L464.69 477.34 L464.64 476.13 L464.52 474.93 L464.31 473.73 L463.97 472.52 L463.59 471.32 L463 470.11 L462.73 468.91 L462.59 467.71 L462.48 466.5 L462.4 465.3 L462.33 464.1 L462.29 462.89 L462.27 461.69 L462.26 460.48 L462.3 459.28 L462.42 458.08 L462.62 456.87 L462.85 455.67 L463.02 454.47 L463.03 453.26 L462.85 452.06 L462.6 450.85 L462.39 449.65 L462.26 448.45 L462.26 447.24 L462.26 446.04 L462.26 444.83 L462.26 443.63 L462.26 442.43 L462.26 441.22 L462.26 440.02 L462.26 438.82 L462.26 437.61 L462.26 436.41 L462.26 435.2 L462.26 434 L462.26 432.8 L462.26 431.59 L462.26 430.39 L462.26 429.19 L462.26 427.98 L462.26 426.78 L462.26 425.57 L462.26 424.37 L462.26 423.17 L462.26 421.96 L462.26 420.76 L462.26 419.56 L461.92 419.56 L461.92 420.76 L461.92 421.96 L461.92 423.17 L461.92 424.37 L461.92 425.57 L461.92 426.78 L461.92 427.98 L461.92 429.19 L461.92 430.39 L461.92 431.59 L461.92 432.8 L461.92 434 L461.92 435.2 L461.92 436.41 L461.92 437.61 L461.92 438.82 L461.92 440.02 L461.92 441.22 L461.92 442.43 L461.92 443.63 L461.92 444.83 L461.92 446.04 L461.92 447.24 L461.92 448.45 L461.79 449.65 L461.58 450.85 L461.33 452.06 L461.15 453.26 L461.16 454.47 L461.33 455.67 L461.56 456.87 L461.76 458.08 L461.88 459.28 L461.92 460.48 L461.91 461.69 L461.89 462.89 L461.85 464.1 L461.78 465.3 L461.7 466.5 L461.59 467.71 L461.45 468.91 L461.18 470.11 L460.59 471.32 L460.21 472.52 L459.87 473.73 L459.66 474.93 L459.54 476.13 L459.49 477.34 L459.51 478.54 L459.56 479.74 L459.66 480.95 L459.75 482.15 L459.79 483.36 L459.7 484.56 L459.5 485.76 L459.23 486.97 L458.93 488.17 L458.66 489.37 L458.45 490.58 L458.34 491.78 L458.25 492.99 L458.2 494.19 L458.22 495.39 L458.38 496.6 L458.61 497.8 L459 499.01 L459.45 500.21 L459.9 501.41 L460.26 502.62 L460.68 503.82 L461.29 505.02 L461.67 506.23 L461.84 507.43 L461.92 508.64 L461.92 509.84 L461.92 511.04 L461.92 512.25 L461.92 513.45 L461.92 514.65Z" fill="none" stroke="#42b361" stroke-width="1.25" stroke-linejoin="round"/>
<line x1="458.67" y1="488.86" x2="465.51" y2="488.86" stroke="#141414" stroke-width="1.35"/>
<line x1="471.79" y1="479.3" x2="477.59" y2="479.3" stroke="#0d5c2e" stroke-width="0.6" stroke-opacity="0.55" stroke-dasharray="1.2 0.8"/>
<line x1="471.3" y1="496.54" x2="478.08" y2="496.54" stroke="#0d5c2e" stroke-width="0.6" stroke-opacity="0.55" stroke-dasharray="1.2 0.8"/>
<path d="M474.86 513.16 L474.86 511.95 L474.86 510.73 L474.86 509.52 L474.86 508.3 L474.9 507.08 L475.25 505.87 L476.05 504.65 L476.65 503.43 L477.11 502.22 L477.59 501 L478.05 499.79 L478.4 498.57 L478.59 497.35 L478.69 496.14 L478.65 494.92 L478.57 493.7 L478.42 492.49 L478.18 491.27 L477.93 490.05 L477.74 488.84 L477.69 487.62 L477.75 486.41 L477.86 485.19 L477.98 483.97 L478.08 482.76 L478.14 481.54 L478.18 480.32 L478.19 479.11 L478.1 477.89 L477.94 476.68 L477.7 475.46 L477.29 474.24 L476.82 473.03 L476.36 471.81 L475.85 470.59 L475.56 469.38 L475.38 468.16 L475.24 466.94 L475.13 465.73 L475.04 464.51 L474.98 463.3 L474.95 462.08 L474.93 460.86 L474.93 459.65 L474.94 458.43 L474.96 457.21 L474.99 456 L475.02 454.78 L475.06 453.57 L475.1 452.35 L475.14 451.13 L475.17 449.92 L475.2 448.7 L475.22 447.48 L475.23 446.27 L475.22 445.05 L475.19 443.83 L475.15 442.62 L475.1 441.4 L475.05 440.19 L475 438.97 L474.95 437.75 L474.92 436.54 L474.88 435.32 L474.86 434.1 L474.86 432.89 L474.86 431.67 L474.86 430.46 L474.86 429.24 L474.86 428.02 L474.52 428.02 L474.52 429.24 L474.52 430.46 L474.52 431.67 L474.52 432.89 L474.52 434.1 L474.5 435.32 L474.46 436.54 L474.43 437.75 L474.38 438.97 L474.33 440.19 L474.28 441.4 L474.23 442.62 L474.19 443.83 L474.16 445.05 L474.15 446.27 L474.16 447.48 L474.18 448.7 L474.21 449.92 L474.24 451.13 L474.28 452.35 L474.32 453.57 L474.36 454.78 L474.39 456 L474.42 457.21 L474.44 458.43 L474.45 459.65 L474.45 460.86 L474.43 462.08 L474.4 463.3 L474.34 464.51 L474.25 465.73 L474.14 466.94 L474 468.16 L473.82 469.38 L473.53 470.59 L473.02 471.81 L472.56 473.03 L472.09 474.24 L471.68 475.46 L471.44 476.68 L471.28 477.89 L471.19 479.11 L471.2 480.32 L471.24 481.54 L471.3 482.76 L471.4 483.97 L471.52 485.19 L471.63 486.41 L471.69 487.62 L471.64 488.84 L471.45 490.05 L471.2 491.27 L470.96 492.49 L470.81 493.7 L470.73 494.92 L470.69 496.14 L470.79 497.35 L470.98 498.57 L471.33 499.79 L471.79 501 L472.27 502.22 L472.73 503.43 L473.33 504.65 L474.13 505.87 L474.48 507.08 L474.52 508.3 L474.52 509.52 L474.52 510.73 L474.52 511.95 L474.52 513.16Z" fill="none" stroke="#0d5c2e" stroke-width="1.25" stroke-linejoin="round"/>
<line x1="471.58" y1="488.39" x2="477.8" y2="488.39" stroke="#141414" stroke-width="1.35"/>
<line x1="484.49" y1="478.51" x2="490.09" y2="478.51" stroke="#808080" stroke-width="0.6" stroke-opacity="0.55" stroke-dasharray="1.2 0.8"/>
<line x1="483.8" y1="496.54" x2="490.78" y2="496.54" stroke="#808080" stroke-width="0.6" stroke-opacity="0.55" stroke-dasharray="1.2 0.8"/>
<path d="M487.46 513.16 L487.46 511.96 L487.46 510.75 L487.46 509.54 L487.46 508.34 L487.49 507.13 L487.82 505.92 L488.58 504.72 L489.22 503.51 L489.68 502.3 L490.19 501.1 L490.67 499.89 L491.05 498.68 L491.27 497.47 L491.39 496.27 L491.36 495.06 L491.3 493.85 L491.21 492.65 L491.04 491.44 L490.8 490.23 L490.54 489.03 L490.31 487.82 L490.14 486.61 L490.09 485.41 L490.18 484.2 L490.34 482.99 L490.51 481.78 L490.62 480.58 L490.67 479.37 L490.68 478.16 L490.58 476.96 L490.41 475.75 L490.14 474.54 L489.71 473.34 L489.21 472.13 L488.7 470.92 L488.1 469.71 L487.87 468.51 L487.72 467.3 L487.6 466.09 L487.51 464.89 L487.46 463.68 L487.46 462.47 L487.46 461.27 L487.46 460.06 L487.46 458.85 L487.56 457.65 L487.71 456.44 L487.87 455.23 L487.95 454.02 L487.9 452.82 L487.74 451.61 L487.57 450.4 L487.46 449.2 L487.46 447.99 L487.46 446.78 L487.46 445.58 L487.46 444.37 L487.46 443.16 L487.46 441.95 L487.46 440.75 L487.46 439.54 L487.46 438.33 L487.46 437.13 L487.46 435.92 L487.46 434.71 L487.46 433.51 L487.46 432.3 L487.46 431.09 L487.46 429.89 L487.46 428.68 L487.46 427.47 L487.46 426.26 L487.46 425.06 L487.46 423.85 L487.46 422.64 L487.46 421.44 L487.12 421.44 L487.12 422.64 L487.12 423.85 L487.12 425.06 L487.12 426.26 L487.12 427.47 L487.12 428.68 L487.12 429.89 L487.12 431.09 L487.12 432.3 L487.12 433.51 L487.12 434.71 L487.12 435.92 L487.12 437.13 L487.12 438.33 L487.12 439.54 L487.12 440.75 L487.12 441.95 L487.12 443.16 L487.12 444.37 L487.12 445.58 L487.12 446.78 L487.12 447.99 L487.12 449.2 L487.01 450.4 L486.84 451.61 L486.68 452.82 L486.63 454.02 L486.71 455.23 L486.87 456.44 L487.02 457.65 L487.12 458.85 L487.12 460.06 L487.12 461.27 L487.12 462.47 L487.12 463.68 L487.07 464.89 L486.98 466.09 L486.86 467.3 L486.71 468.51 L486.48 469.71 L485.88 470.92 L485.37 472.13 L484.87 473.34 L484.44 474.54 L484.17 475.75 L484 476.96 L483.9 478.16 L483.91 479.37 L483.96 480.58 L484.07 481.78 L484.24 482.99 L484.4 484.2 L484.49 485.41 L484.44 486.61 L484.27 487.82 L484.04 489.03 L483.78 490.23 L483.54 491.44 L483.37 492.65 L483.28 493.85 L483.22 495.06 L483.19 496.27 L483.31 497.47 L483.53 498.68 L483.91 499.89 L484.39 501.1 L484.9 502.3 L485.36 503.51 L486 504.72 L486.76 505.92 L487.09 507.13 L487.12 508.34 L487.12 509.54 L487.12 510.75 L487.12 511.96 L487.12 513.16Z" fill="none" stroke="#808080" stroke-width="1.25" stroke-linejoin="round"/>
<line x1="483.97" y1="488.86" x2="490.61" y2="488.86" stroke="#141414" stroke-width="1.35"/>
<line x1="504.93" y1="576.51" x2="511.59" y2="576.51" stroke="#42b361" stroke-width="0.6" stroke-opacity="0.55" stroke-dasharray="1.2 0.8"/>
<line x1="506.63" y1="590.62" x2="509.89" y2="590.62" stroke="#42b361" stroke-width="0.6" stroke-opacity="0.55" stroke-dasharray="1.2 0.8"/>
<path d="M508.43 609.99 L508.43 608.78 L508.43 607.58 L508.43 606.37 L508.43 605.17 L508.43 603.96 L508.43 602.76 L508.43 601.55 L508.43 600.35 L508.51 599.14 L508.67 597.94 L508.9 596.73 L509.17 595.53 L509.56 594.32 L509.95 593.12 L510.25 591.91 L510.48 590.71 L510.56 589.5 L510.46 588.3 L510.26 587.09 L510.1 585.89 L510.06 584.68 L510.1 583.48 L510.17 582.27 L510.29 581.07 L511.06 579.86 L511.95 578.66 L512.25 577.45 L512.14 576.25 L511.85 575.04 L511.29 573.84 L510.56 572.63 L509.92 571.43 L509.25 570.22 L508.7 569.02 L508.43 567.81 L508.43 566.61 L508.43 565.4 L508.43 564.2 L508.43 562.99 L508.43 561.78 L508.43 560.58 L508.43 559.37 L508.43 558.17 L508.43 556.96 L508.43 555.76 L508.43 554.55 L508.43 553.35 L508.43 552.14 L508.43 550.94 L508.43 549.73 L508.43 548.53 L508.43 547.32 L508.43 546.12 L508.43 544.91 L508.43 543.71 L508.43 542.5 L508.43 541.3 L508.43 540.09 L508.43 538.89 L508.43 537.68 L508.43 536.48 L508.43 535.27 L508.43 534.07 L508.43 532.86 L508.43 531.66 L508.43 530.45 L508.43 529.25 L508.43 528.04 L508.43 526.84 L508.43 525.63 L508.43 524.43 L508.43 523.22 L508.43 522.02 L508.43 520.81 L508.43 519.61 L508.43 518.4 L508.43 517.2 L508.43 515.99 L508.43 514.79 L508.43 513.58 L508.43 512.38 L508.43 511.17 L508.43 509.97 L508.43 508.76 L508.43 507.56 L508.43 506.35 L508.43 505.15 L508.43 503.94 L508.43 502.74 L508.43 501.53 L508.43 500.32 L508.43 499.12 L508.43 497.91 L508.43 496.71 L508.43 495.5 L508.43 494.3 L508.43 493.09 L508.09 493.09 L508.09 494.3 L508.09 495.5 L508.09 496.71 L508.09 497.91 L508.09 499.12 L508.09 500.32 L508.09 501.53 L508.09 502.74 L508.09 503.94 L508.09 505.15 L508.09 506.35 L508.09 507.56 L508.09 508.76 L508.09 509.97 L508.09 511.17 L508.09 512.38 L508.09 513.58 L508.09 514.79 L508.09 515.99 L508.09 517.2 L508.09 518.4 L508.09 519.61 L508.09 520.81 L508.09 522.02 L508.09 523.22 L508.09 524.43 L508.09 525.63 L508.09 526.84 L508.09 528.04 L508.09 529.25 L508.09 530.45 L508.09 531.66 L508.09 532.86 L508.09 534.07 L508.09 535.27 L508.09 536.48 L508.09 537.68 L508.09 538.89 L508.09 540.09 L508.09 541.3 L508.09 542.5 L508.09 543.71 L508.09 544.91 L508.09 546.12 L508.09 547.32 L508.09 548.53 L508.09 549.73 L508.09 550.94 L508.09 552.14 L508.09 553.35 L508.09 554.55 L508.09 555.76 L508.09 556.96 L508.09 558.17 L508.09 559.37 L508.09 560.58 L508.09 561.78 L508.09 562.99 L508.09 564.2 L508.09 565.4 L508.09 566.61 L508.09 567.81 L507.82 569.02 L507.27 570.22 L506.6 571.43 L505.96 572.63 L505.23 573.84 L504.67 575.04 L504.38 576.25 L504.27 577.45 L504.57 578.66 L505.46 579.86 L506.23 581.07 L506.35 582.27 L506.42 583.48 L506.46 584.68 L506.42 585.89 L506.26 587.09 L506.06 588.3 L505.96 589.5 L506.04 590.71 L506.27 591.91 L506.57 593.12 L506.96 594.32 L507.35 595.53 L507.62 596.73 L507.85 597.94 L508.01 599.14 L508.09 600.35 L508.09 601.55 L508.09 602.76 L508.09 603.96 L508.09 605.17 L508.09 606.37 L508.09 607.58 L508.09 608.78 L508.09 609.99Z" fill="none" stroke="#42b361" stroke-width="1.25" stroke-linejoin="round"/>
<line x1="505.82" y1="580.43" x2="510.7" y2="580.43" stroke="#141414" stroke-width="1.35"/>
<line x1="518.32" y1="578.08" x2="523.4" y2="578.08" stroke="#0d5c2e" stroke-width="0.6" stroke-opacity="0.55" stroke-dasharray="1.2 0.8"/>
<line x1="518.36" y1="592.98" x2="523.36" y2="592.98" stroke="#0d5c2e" stroke-width="0.6" stroke-opacity="0.55" stroke-dasharray="1.2 0.8"/>
<path d="M521.03 616.81 L521.03 615.6 L521.03 614.38 L521.03 613.17 L521.03 611.96 L521.03 610.75 L521.03 609.53 L521.03 608.32 L521.03 607.11 L521.03 605.9 L521.04 604.69 L521.15 603.47 L521.3 602.26 L521.54 601.05 L521.92 599.84 L522.41 598.62 L522.72 597.41 L523.04 596.2 L523.35 594.99 L523.71 593.77 L524.09 592.56 L524.41 591.35 L524.61 590.14 L524.74 588.92 L524.75 587.71 L524.71 586.5 L524.65 585.29 L524.54 584.07 L524.39 582.86 L524.24 581.65 L524.11 580.44 L524.04 579.22 L524 578.01 L523.98 576.8 L523.95 575.59 L523.92 574.37 L523.88 573.16 L523.82 571.95 L523.68 570.74 L523.48 569.52 L523.24 568.31 L522.98 567.1 L522.7 565.89 L522.45 564.67 L522.09 563.46 L521.79 562.25 L521.55 561.04 L521.35 559.82 L521.19 558.61 L521.08 557.4 L521.03 556.19 L521.03 554.98 L521.03 553.76 L521.03 552.55 L521.03 551.34 L521.03 550.13 L521.03 548.91 L521.03 547.7 L521.03 546.49 L521.03 545.28 L521.03 544.06 L521.03 542.85 L521.03 541.64 L521.03 540.43 L521.03 539.21 L521.03 538 L521.03 536.79 L521.03 535.58 L521.03 534.36 L521.03 533.15 L521.03 531.94 L521.03 530.73 L520.69 530.73 L520.69 531.94 L520.69 533.15 L520.69 534.36 L520.69 535.58 L520.69 536.79 L520.69 538 L520.69 539.21 L520.69 540.43 L520.69 541.64 L520.69 542.85 L520.69 544.06 L520.69 545.28 L520.69 546.49 L520.69 547.7 L520.69 548.91 L520.69 550.13 L520.69 551.34 L520.69 552.55 L520.69 553.76 L520.69 554.98 L520.69 556.19 L520.64 557.4 L520.53 558.61 L520.37 559.82 L520.17 561.04 L519.93 562.25 L519.63 563.46 L519.27 564.67 L519.02 565.89 L518.74 567.1 L518.48 568.31 L518.24 569.52 L518.04 570.74 L517.9 571.95 L517.84 573.16 L517.8 574.37 L517.77 575.59 L517.74 576.8 L517.72 578.01 L517.68 579.22 L517.61 580.44 L517.48 581.65 L517.33 582.86 L517.18 584.07 L517.07 585.29 L517.01 586.5 L516.97 587.71 L516.98 588.92 L517.11 590.14 L517.31 591.35 L517.63 592.56 L518.01 593.77 L518.37 594.99 L518.68 596.2 L519 597.41 L519.31 598.62 L519.8 599.84 L520.18 601.05 L520.42 602.26 L520.57 603.47 L520.68 604.69 L520.69 605.9 L520.69 607.11 L520.69 608.32 L520.69 609.53 L520.69 610.75 L520.69 611.96 L520.69 613.17 L520.69 614.38 L520.69 615.6 L520.69 616.81Z" fill="none" stroke="#0d5c2e" stroke-width="1.25" stroke-linejoin="round"/>
<line x1="516.89" y1="586.86" x2="524.83" y2="586.86" stroke="#141414" stroke-width="1.35"/>
<line x1="530.06" y1="577.3" x2="536.86" y2="577.3" stroke="#808080" stroke-width="0.6" stroke-opacity="0.55" stroke-dasharray="1.2 0.8"/>
<line x1="530.81" y1="590.62" x2="536.11" y2="590.62" stroke="#808080" stroke-width="0.6" stroke-opacity="0.55" stroke-dasharray="1.2 0.8"/>
<path d="M533.63 613.91 L533.63 612.7 L533.63 611.5 L533.63 610.29 L533.63 609.09 L533.63 607.88 L533.63 606.68 L533.63 605.47 L533.63 604.27 L533.71 603.06 L533.85 601.86 L534.09 600.65 L534.46 599.45 L534.96 598.24 L535.25 597.04 L535.53 595.83 L535.86 594.63 L536.21 593.42 L536.5 592.22 L536.67 591.01 L536.76 589.81 L536.73 588.6 L536.65 587.4 L536.48 586.19 L536.24 584.99 L536.03 583.78 L535.97 582.58 L536.31 581.37 L536.87 580.17 L537.28 578.96 L537.44 577.76 L537.42 576.55 L537.23 575.35 L536.91 574.14 L536.4 572.94 L535.83 571.73 L535.35 570.53 L535 569.32 L534.4 568.12 L533.95 566.91 L533.68 565.71 L533.63 564.5 L533.63 563.3 L533.63 562.09 L533.63 560.89 L533.63 559.68 L533.63 558.48 L533.63 557.27 L533.63 556.07 L533.63 554.86 L533.63 553.66 L533.63 552.45 L533.63 551.25 L533.63 550.04 L533.63 548.84 L533.63 547.63 L533.63 546.43 L533.63 545.22 L533.63 544.02 L533.63 542.81 L533.63 541.61 L533.63 540.4 L533.63 539.2 L533.63 537.99 L533.63 536.79 L533.63 535.58 L533.63 534.38 L533.63 533.17 L533.63 531.97 L533.63 530.76 L533.63 529.56 L533.63 528.35 L533.63 527.15 L533.63 525.94 L533.63 524.74 L533.63 523.53 L533.63 522.33 L533.63 521.12 L533.63 519.92 L533.63 518.71 L533.63 517.51 L533.63 516.3 L533.63 515.1 L533.63 513.89 L533.63 512.69 L533.63 511.48 L533.63 510.28 L533.63 509.07 L533.63 507.87 L533.63 506.66 L533.63 505.46 L533.63 504.25 L533.63 503.05 L533.63 501.84 L533.63 500.64 L533.63 499.43 L533.63 498.23 L533.63 497.02 L533.63 495.82 L533.63 494.61 L533.63 493.41 L533.29 493.41 L533.29 494.61 L533.29 495.82 L533.29 497.02 L533.29 498.23 L533.29 499.43 L533.29 500.64 L533.29 501.84 L533.29 503.05 L533.29 504.25 L533.29 505.46 L533.29 506.66 L533.29 507.87 L533.29 509.07 L533.29 510.28 L533.29 511.48 L533.29 512.69 L533.29 513.89 L533.29 515.1 L533.29 516.3 L533.29 517.51 L533.29 518.71 L533.29 519.92 L533.29 521.12 L533.29 522.33 L533.29 523.53 L533.29 524.74 L533.29 525.94 L533.29 527.15 L533.29 528.35 L533.29 529.56 L533.29 530.76 L533.29 531.97 L533.29 533.17 L533.29 534.38 L533.29 535.58 L533.29 536.79 L533.29 537.99 L533.29 539.2 L533.29 540.4 L533.29 541.61 L533.29 542.81 L533.29 544.02 L533.29 545.22 L533.29 546.43 L533.29 547.63 L533.29 548.84 L533.29 550.04 L533.29 551.25 L533.29 552.45 L533.29 553.66 L533.29 554.86 L533.29 556.07 L533.29 557.27 L533.29 558.48 L533.29 559.68 L533.29 560.89 L533.29 562.09 L533.29 563.3 L533.29 564.5 L533.24 565.71 L532.97 566.91 L532.52 568.12 L531.92 569.32 L531.57 570.53 L531.09 571.73 L530.52 572.94 L530.01 574.14 L529.69 575.35 L529.5 576.55 L529.48 577.76 L529.64 578.96 L530.05 580.17 L530.61 581.37 L530.95 582.58 L530.89 583.78 L530.68 584.99 L530.44 586.19 L530.27 587.4 L530.19 588.6 L530.16 589.81 L530.25 591.01 L530.42 592.22 L530.71 593.42 L531.06 594.63 L531.39 595.83 L531.67 597.04 L531.96 598.24 L532.46 599.45 L532.83 600.65 L533.07 601.86 L533.21 603.06 L533.29 604.27 L533.29 605.47 L533.29 606.68 L533.29 607.88 L533.29 609.09 L533.29 610.29 L533.29 611.5 L533.29 612.7 L533.29 613.91Z" fill="none" stroke="#808080" stroke-width="1.25" stroke-linejoin="round"/>
<line x1="530.79" y1="583.8" x2="536.13" y2="583.8" stroke="#141414" stroke-width="1.35"/>
</g>
<g>
<text transform="translate(336.5 729.15) scale(1 1.05)" font-size="20.8" text-anchor="middle" fill="#141414">Guinea Pigs</text>
<text transform="translate(87.6 880.8) rotate(-90) scale(1 1.05)" font-size="22.3" text-anchor="middle" fill="#141414">Ct</text>
<path d="M130.8 742.4 V1017.3 H541.6" fill="none" stroke="#3a3a3a" stroke-width="1"/>
<line x1="125.2" y1="1017.3" x2="130.8" y2="1017.3" stroke="#3a3a3a" stroke-width="1"/>
<text x="123.5" y="1021.3" font-size="11.3" text-anchor="end" fill="#141414">0</text>
<line x1="125.2" y1="978.1" x2="130.8" y2="978.1" stroke="#3a3a3a" stroke-width="1"/>
<text x="123.5" y="982.1" font-size="11.3" text-anchor="end" fill="#141414">5</text>
<line x1="125.2" y1="938.9" x2="130.8" y2="938.9" stroke="#3a3a3a" stroke-width="1"/>
<text x="123.5" y="942.9" font-size="11.3" text-anchor="end" fill="#141414">10</text>
<line x1="125.2" y1="899.7" x2="130.8" y2="899.7" stroke="#3a3a3a" stroke-width="1"/>
<text x="123.5" y="903.7" font-size="11.3" text-anchor="end" fill="#141414">15</text>
<line x1="125.2" y1="860.5" x2="130.8" y2="860.5" stroke="#3a3a3a" stroke-width="1"/>
<text x="123.5" y="864.5" font-size="11.3" text-anchor="end" fill="#141414">20</text>
<line x1="125.2" y1="821.3" x2="130.8" y2="821.3" stroke="#3a3a3a" stroke-width="1"/>
<text x="123.5" y="825.3" font-size="11.3" text-anchor="end" fill="#141414">25</text>
<line x1="125.2" y1="782.1" x2="130.8" y2="782.1" stroke="#3a3a3a" stroke-width="1"/>
<text x="123.5" y="786.1" font-size="11.3" text-anchor="end" fill="#141414">30</text>
<line x1="125.2" y1="742.9" x2="130.8" y2="742.9" stroke="#3a3a3a" stroke-width="1"/>
<text x="123.5" y="746.9" font-size="11.3" text-anchor="end" fill="#141414">35</text>
<line x1="151.3" y1="1017.3" x2="151.3" y2="1022.9" stroke="#3a3a3a" stroke-width="1"/>
<text x="151.9" y="1035" font-size="11.15" font-style="italic" text-anchor="middle" fill="#141414">B2m</text>
<line x1="197.47" y1="1017.3" x2="197.47" y2="1022.9" stroke="#3a3a3a" stroke-width="1"/>
<text x="198.07" y="1035" font-size="11.15" font-style="italic" text-anchor="middle" fill="#141414">Hrpt</text>
<line x1="243.64" y1="1017.3" x2="243.64" y2="1022.9" stroke="#3a3a3a" stroke-width="1"/>
<text x="244.24" y="1035" font-size="11.15" font-style="italic" text-anchor="middle" fill="#141414">Tbp</text>
<line x1="289.81" y1="1017.3" x2="289.81" y2="1022.9" stroke="#3a3a3a" stroke-width="1"/>
<text x="290.41" y="1035" font-size="11.15" font-style="italic" text-anchor="middle" fill="#141414">Gapdh</text>
<line x1="335.98" y1="1017.3" x2="335.98" y2="1022.9" stroke="#3a3a3a" stroke-width="1"/>
<text x="336.58" y="1035" font-size="11.15" font-style="italic" text-anchor="middle" fill="#141414">Sdha</text>
<line x1="382.15" y1="1017.3" x2="382.15" y2="1022.9" stroke="#3a3a3a" stroke-width="1"/>
<text x="382.75" y="1035" font-size="11.15" font-style="italic" text-anchor="middle" fill="#141414">Ppia</text>
<line x1="428.32" y1="1017.3" x2="428.32" y2="1022.9" stroke="#3a3a3a" stroke-width="1"/>
<text x="428.92" y="1035" font-size="11.15" font-style="italic" text-anchor="middle" fill="#141414">Actb</text>
<line x1="474.49" y1="1017.3" x2="474.49" y2="1022.9" stroke="#3a3a3a" stroke-width="1"/>
<text x="475.09" y="1035" font-size="11.15" font-style="italic" text-anchor="middle" fill="#141414">Gusb</text>
<line x1="520.66" y1="1017.3" x2="520.66" y2="1022.9" stroke="#3a3a3a" stroke-width="1"/>
<text x="521.26" y="1035" font-size="11.15" font-style="italic" text-anchor="middle" fill="#141414">18S</text>
<line x1="136.31" y1="844.04" x2="141.49" y2="844.04" stroke="#f18cb6" stroke-width="0.6" stroke-opacity="0.55" stroke-dasharray="1.2 0.8"/>
<line x1="136.12" y1="867.95" x2="141.68" y2="867.95" stroke="#f18cb6" stroke-width="0.6" stroke-opacity="0.55" stroke-dasharray="1.2 0.8"/>
<path d="M139.07 909.03 L139.07 907.83 L139.07 906.62 L139.07 905.42 L139.07 904.22 L139.07 903.01 L139.07 901.81 L139.07 900.61 L139.07 899.4 L139.07 898.2 L139.07 897 L139.07 895.79 L139.07 894.59 L139.07 893.38 L139.07 892.18 L139.1 890.98 L139.13 889.77 L139.18 888.57 L139.28 887.37 L139.43 886.16 L139.64 884.96 L139.9 883.76 L140.18 882.55 L140.44 881.35 L140.58 880.15 L140.73 878.94 L140.88 877.74 L141.03 876.54 L141.19 875.33 L141.34 874.13 L141.5 872.93 L141.67 871.72 L141.84 870.52 L142.05 869.32 L142.26 868.11 L142.46 866.91 L142.62 865.71 L142.74 864.5 L142.83 863.3 L142.89 862.1 L142.9 860.89 L142.83 859.69 L142.74 858.49 L142.54 857.28 L142.27 856.08 L141.98 854.87 L141.77 853.67 L141.7 852.47 L141.74 851.26 L141.81 850.06 L141.89 848.86 L141.98 847.65 L142.04 846.45 L142.07 845.25 L142.09 844.04 L142.09 842.84 L142.02 841.64 L141.91 840.43 L141.72 839.23 L141.46 838.03 L141.17 836.82 L140.89 835.62 L140.66 834.42 L140.46 833.21 L140.11 832.01 L139.77 830.81 L139.51 829.6 L139.31 828.4 L139.18 827.2 L139.1 825.99 L139.07 824.79 L139.07 823.59 L139.07 822.38 L139.07 821.18 L139.07 819.98 L139.07 818.77 L139.07 817.57 L139.07 816.36 L139.07 815.16 L139.07 813.96 L139.07 812.75 L138.73 812.75 L138.73 813.96 L138.73 815.16 L138.73 816.36 L138.73 817.57 L138.73 818.77 L138.73 819.98 L138.73 821.18 L138.73 822.38 L138.73 823.59 L138.73 824.79 L138.7 825.99 L138.62 827.2 L138.49 828.4 L138.29 829.6 L138.03 830.81 L137.69 832.01 L137.34 833.21 L137.14 834.42 L136.91 835.62 L136.63 836.82 L136.34 838.03 L136.08 839.23 L135.89 840.43 L135.78 841.64 L135.71 842.84 L135.71 844.04 L135.73 845.25 L135.76 846.45 L135.82 847.65 L135.91 848.86 L135.99 850.06 L136.06 851.26 L136.1 852.47 L136.03 853.67 L135.82 854.87 L135.53 856.08 L135.26 857.28 L135.06 858.49 L134.97 859.69 L134.9 860.89 L134.91 862.1 L134.97 863.3 L135.06 864.5 L135.18 865.71 L135.34 866.91 L135.54 868.11 L135.75 869.32 L135.96 870.52 L136.13 871.72 L136.3 872.93 L136.46 874.13 L136.61 875.33 L136.77 876.54 L136.92 877.74 L137.07 878.94 L137.22 880.15 L137.36 881.35 L137.62 882.55 L137.9 883.76 L138.16 884.96 L138.37 886.16 L138.52 887.37 L138.62 888.57 L138.67 889.77 L138.7 890.98 L138.73 892.18 L138.73 893.38 L138.73 894.59 L138.73 895.79 L138.73 897 L138.73 898.2 L138.73 899.4 L138.73 900.61 L138.73 901.81 L138.73 903.01 L138.73 904.22 L138.73 905.42 L138.73 906.62 L138.73 907.83 L138.73 909.03Z" fill="none" stroke="#f18cb6" stroke-width="1.25" stroke-linejoin="round"/>
<line x1="135.11" y1="857.52" x2="142.69" y2="857.52" stroke="#141414" stroke-width="1.35"/>
<line x1="149.83" y1="883.24" x2="153.17" y2="883.24" stroke="#7e0040" stroke-width="0.6" stroke-opacity="0.55" stroke-dasharray="1.2 0.8"/>
<line x1="148.15" y1="900.48" x2="154.85" y2="900.48" stroke="#7e0040" stroke-width="0.6" stroke-opacity="0.55" stroke-dasharray="1.2 0.8"/>
<path d="M151.67 920.48 L151.67 919.27 L151.67 918.06 L151.67 916.85 L151.67 915.64 L151.71 914.43 L151.82 913.22 L151.96 912.01 L152.24 910.8 L152.77 909.6 L153.25 908.39 L153.64 907.18 L154 905.97 L154.36 904.76 L154.75 903.55 L155.1 902.34 L155.36 901.13 L155.52 899.92 L155.6 898.71 L155.56 897.51 L155.46 896.3 L155.31 895.09 L155.05 893.88 L154.76 892.67 L154.49 891.46 L154.3 890.25 L154.18 889.04 L154.08 887.83 L154 886.63 L153.92 885.42 L153.84 884.21 L153.75 883 L153.64 881.79 L153.5 880.58 L153.36 879.37 L153.21 878.16 L153.06 876.95 L152.83 875.74 L152.58 874.54 L152.38 873.33 L152.2 872.12 L152.03 870.91 L151.89 869.7 L151.77 868.49 L151.69 867.28 L151.67 866.07 L151.67 864.86 L151.67 863.66 L151.67 862.45 L151.67 861.24 L151.67 860.03 L151.67 858.82 L151.67 857.61 L151.67 856.4 L151.67 855.19 L151.67 853.98 L151.67 852.77 L151.67 851.57 L151.67 850.36 L151.67 849.15 L151.67 847.94 L151.67 846.73 L151.67 845.52 L151.67 844.31 L151.67 843.1 L151.67 841.89 L151.67 840.69 L151.67 839.48 L151.67 838.27 L151.67 837.06 L151.33 837.06 L151.33 838.27 L151.33 839.48 L151.33 840.69 L151.33 841.89 L151.33 843.1 L151.33 844.31 L151.33 845.52 L151.33 846.73 L151.33 847.94 L151.33 849.15 L151.33 850.36 L151.33 851.57 L151.33 852.77 L151.33 853.98 L151.33 855.19 L151.33 856.4 L151.33 857.61 L151.33 858.82 L151.33 860.03 L151.33 861.24 L151.33 862.45 L151.33 863.66 L151.33 864.86 L151.33 866.07 L151.31 867.28 L151.23 868.49 L151.11 869.7 L150.97 870.91 L150.8 872.12 L150.62 873.33 L150.42 874.54 L150.17 875.74 L149.94 876.95 L149.79 878.16 L149.64 879.37 L149.5 880.58 L149.36 881.79 L149.25 883 L149.16 884.21 L149.08 885.42 L149 886.63 L148.92 887.83 L148.82 889.04 L148.7 890.25 L148.51 891.46 L148.24 892.67 L147.95 893.88 L147.69 895.09 L147.54 896.3 L147.44 897.51 L147.4 898.71 L147.48 899.92 L147.64 901.13 L147.9 902.34 L148.25 903.55 L148.64 904.76 L149 905.97 L149.36 907.18 L149.75 908.39 L150.23 909.6 L150.76 910.8 L151.04 912.01 L151.18 913.22 L151.29 914.43 L151.33 915.64 L151.33 916.85 L151.33 918.06 L151.33 919.27 L151.33 920.48Z" fill="none" stroke="#7e0040" stroke-width="1.25" stroke-linejoin="round"/>
<line x1="148.15" y1="892.64" x2="154.85" y2="892.64" stroke="#141414" stroke-width="1.35"/>
<line x1="160.72" y1="851.88" x2="167.48" y2="851.88" stroke="#808080" stroke-width="0.6" stroke-opacity="0.55" stroke-dasharray="1.2 0.8"/>
<line x1="160.82" y1="891.86" x2="167.38" y2="891.86" stroke="#808080" stroke-width="0.6" stroke-opacity="0.55" stroke-dasharray="1.2 0.8"/>
<path d="M164.27 925.02 L164.27 923.81 L164.27 922.6 L164.27 921.38 L164.27 920.17 L164.27 918.96 L164.27 917.74 L164.28 916.53 L164.34 915.32 L164.45 914.1 L164.64 912.89 L164.93 911.68 L165.35 910.47 L165.73 909.25 L165.99 908.04 L166.26 906.83 L166.59 905.61 L166.94 904.4 L167.29 903.19 L167.59 901.97 L167.82 900.76 L167.96 899.55 L168.07 898.33 L168.1 897.12 L168.09 895.91 L168.06 894.69 L168.03 893.48 L167.99 892.27 L167.94 891.06 L167.87 889.84 L167.77 888.63 L167.66 887.42 L167.55 886.2 L167.43 884.99 L167.32 883.78 L167.23 882.56 L167.15 881.35 L167.11 880.14 L167.1 878.92 L167.11 877.71 L167.13 876.5 L167.16 875.28 L167.2 874.07 L167.24 872.86 L167.29 871.65 L167.34 870.43 L167.39 869.22 L167.45 868.01 L167.5 866.79 L167.55 865.58 L167.6 864.37 L167.65 863.15 L167.71 861.94 L167.77 860.73 L167.83 859.51 L167.89 858.3 L167.94 857.09 L167.99 855.87 L168.03 854.66 L168.05 853.45 L168.07 852.23 L168.09 851.02 L168.1 849.81 L168.08 848.6 L168 847.38 L167.9 846.17 L167.77 844.96 L167.57 843.74 L167.32 842.53 L167.04 841.32 L166.75 840.1 L166.47 838.89 L166.22 837.68 L166.02 836.46 L165.82 835.25 L165.62 834.04 L165.28 832.82 L164.97 831.61 L164.73 830.4 L164.54 829.19 L164.41 827.97 L164.33 826.76 L164.28 825.55 L164.27 824.33 L164.27 823.12 L164.27 821.91 L164.27 820.69 L164.27 819.48 L164.27 818.27 L164.27 817.05 L164.27 815.84 L164.27 814.63 L164.27 813.41 L164.27 812.2 L164.27 810.99 L164.27 809.78 L163.93 809.78 L163.93 810.99 L163.93 812.2 L163.93 813.41 L163.93 814.63 L163.93 815.84 L163.93 817.05 L163.93 818.27 L163.93 819.48 L163.93 820.69 L163.93 821.91 L163.93 823.12 L163.93 824.33 L163.92 825.55 L163.87 826.76 L163.79 827.97 L163.66 829.19 L163.47 830.4 L163.23 831.61 L162.92 832.82 L162.58 834.04 L162.38 835.25 L162.18 836.46 L161.98 837.68 L161.73 838.89 L161.45 840.1 L161.16 841.32 L160.88 842.53 L160.63 843.74 L160.43 844.96 L160.3 846.17 L160.2 847.38 L160.12 848.6 L160.1 849.81 L160.11 851.02 L160.13 852.23 L160.15 853.45 L160.17 854.66 L160.21 855.87 L160.26 857.09 L160.31 858.3 L160.37 859.51 L160.43 860.73 L160.49 861.94 L160.55 863.15 L160.6 864.37 L160.65 865.58 L160.7 866.79 L160.75 868.01 L160.81 869.22 L160.86 870.43 L160.91 871.65 L160.96 872.86 L161 874.07 L161.04 875.28 L161.07 876.5 L161.09 877.71 L161.1 878.92 L161.09 880.14 L161.05 881.35 L160.97 882.56 L160.88 883.78 L160.77 884.99 L160.65 886.2 L160.54 887.42 L160.43 888.63 L160.33 889.84 L160.26 891.06 L160.21 892.27 L160.17 893.48 L160.14 894.69 L160.11 895.91 L160.1 897.12 L160.13 898.33 L160.24 899.55 L160.38 900.76 L160.61 901.97 L160.91 903.19 L161.26 904.4 L161.61 905.61 L161.94 906.83 L162.21 908.04 L162.47 909.25 L162.85 910.47 L163.27 911.68 L163.56 912.89 L163.75 914.1 L163.86 915.32 L163.92 916.53 L163.93 917.74 L163.93 918.96 L163.93 920.17 L163.93 921.38 L163.93 922.6 L163.93 923.81 L163.93 925.02Z" fill="none" stroke="#808080" stroke-width="1.25" stroke-linejoin="round"/>
<line x1="160.73" y1="869.75" x2="167.47" y2="869.75" stroke="#141414" stroke-width="1.35"/>
<line x1="183.34" y1="807.97" x2="186.8" y2="807.97" stroke="#f18cb6" stroke-width="0.6" stroke-opacity="0.55" stroke-dasharray="1.2 0.8"/>
<line x1="182.87" y1="836.98" x2="187.27" y2="836.98" stroke="#f18cb6" stroke-width="0.6" stroke-opacity="0.55" stroke-dasharray="1.2 0.8"/>
<path d="M185.24 874.93 L185.24 873.72 L185.24 872.51 L185.24 871.3 L185.24 870.09 L185.24 868.88 L185.24 867.67 L185.24 866.47 L185.24 865.26 L185.24 864.05 L185.25 862.84 L185.32 861.63 L185.4 860.42 L185.49 859.21 L185.58 858.01 L185.69 856.8 L185.81 855.59 L185.94 854.38 L186.09 853.17 L186.25 851.96 L186.43 850.75 L186.6 849.55 L186.71 848.34 L186.82 847.13 L186.93 845.92 L187.05 844.71 L187.18 843.5 L187.3 842.29 L187.43 841.08 L187.56 839.88 L187.69 838.67 L187.82 837.46 L187.95 836.25 L188.09 835.04 L188.25 833.83 L188.4 832.62 L188.53 831.42 L188.65 830.21 L188.74 829 L188.8 827.79 L188.85 826.58 L188.87 825.37 L188.84 824.16 L188.74 822.96 L188.61 821.75 L188.41 820.54 L188.09 819.33 L187.71 818.12 L187.32 816.91 L186.98 815.7 L186.74 814.5 L186.67 813.29 L186.76 812.08 L186.93 810.87 L187.14 809.66 L187.33 808.45 L187.46 807.24 L187.53 806.04 L187.57 804.83 L187.55 803.62 L187.48 802.41 L187.37 801.2 L187.2 799.99 L186.99 798.78 L186.77 797.58 L186.59 796.37 L186.32 795.16 L186.06 793.95 L185.83 792.74 L185.65 791.53 L185.5 790.32 L185.38 789.12 L185.3 787.91 L185.25 786.7 L185.24 785.49 L185.24 784.28 L185.24 783.07 L185.24 781.86 L185.24 780.66 L185.24 779.45 L185.24 778.24 L185.24 777.03 L185.24 775.82 L185.24 774.61 L185.24 773.4 L185.24 772.2 L185.24 770.99 L185.24 769.78 L185.24 768.57 L185.24 767.36 L184.9 767.36 L184.9 768.57 L184.9 769.78 L184.9 770.99 L184.9 772.2 L184.9 773.4 L184.9 774.61 L184.9 775.82 L184.9 777.03 L184.9 778.24 L184.9 779.45 L184.9 780.66 L184.9 781.86 L184.9 783.07 L184.9 784.28 L184.9 785.49 L184.89 786.7 L184.84 787.91 L184.76 789.12 L184.64 790.32 L184.49 791.53 L184.31 792.74 L184.08 793.95 L183.82 795.16 L183.55 796.37 L183.37 797.58 L183.15 798.78 L182.94 799.99 L182.77 801.2 L182.66 802.41 L182.59 803.62 L182.57 804.83 L182.61 806.04 L182.68 807.24 L182.81 808.45 L183 809.66 L183.21 810.87 L183.38 812.08 L183.47 813.29 L183.4 814.5 L183.16 815.7 L182.82 816.91 L182.43 818.12 L182.05 819.33 L181.73 820.54 L181.53 821.75 L181.4 822.96 L181.3 824.16 L181.27 825.37 L181.29 826.58 L181.34 827.79 L181.4 829 L181.49 830.21 L181.61 831.42 L181.74 832.62 L181.89 833.83 L182.05 835.04 L182.19 836.25 L182.32 837.46 L182.45 838.67 L182.58 839.88 L182.71 841.08 L182.84 842.29 L182.96 843.5 L183.09 844.71 L183.21 845.92 L183.32 847.13 L183.43 848.34 L183.54 849.55 L183.71 850.75 L183.89 851.96 L184.05 853.17 L184.2 854.38 L184.33 855.59 L184.45 856.8 L184.56 858.01 L184.65 859.21 L184.74 860.42 L184.82 861.63 L184.89 862.84 L184.9 864.05 L184.9 865.26 L184.9 866.47 L184.9 867.67 L184.9 868.88 L184.9 870.09 L184.9 871.3 L184.9 872.51 L184.9 873.72 L184.9 874.93Z" fill="none" stroke="#f18cb6" stroke-width="1.25" stroke-linejoin="round"/>
<line x1="181.17" y1="825.22" x2="188.97" y2="825.22" stroke="#141414" stroke-width="1.35"/>
<line x1="196.07" y1="838.55" x2="199.27" y2="838.55" stroke="#7e0040" stroke-width="0.6" stroke-opacity="0.55" stroke-dasharray="1.2 0.8"/>
<line x1="194.64" y1="850.31" x2="200.7" y2="850.31" stroke="#7e0040" stroke-width="0.6" stroke-opacity="0.55" stroke-dasharray="1.2 0.8"/>
<path d="M197.84 878.85 L197.84 877.63 L197.84 876.42 L197.84 875.21 L197.84 874 L197.84 872.79 L197.84 871.58 L197.84 870.37 L197.85 869.15 L197.98 867.94 L198.14 866.73 L198.28 865.52 L198.34 864.31 L198.28 863.1 L198.15 861.89 L198.02 860.67 L197.92 859.46 L197.85 858.25 L197.85 857.04 L198.16 855.83 L199.04 854.62 L199.69 853.41 L200.31 852.19 L200.99 850.98 L201.48 849.77 L201.72 848.56 L201.75 847.35 L201.66 846.14 L201.52 844.93 L201.29 843.71 L200.97 842.5 L200.6 841.29 L200.24 840.08 L199.94 838.87 L199.7 837.66 L199.48 836.45 L199.27 835.23 L198.99 834.02 L198.69 832.81 L198.46 831.6 L198.3 830.39 L198.17 829.18 L198.05 827.97 L197.96 826.75 L197.89 825.54 L197.84 824.33 L197.84 823.12 L197.84 821.91 L197.84 820.7 L197.84 819.48 L197.84 818.27 L197.84 817.06 L197.84 815.85 L197.84 814.64 L197.84 813.43 L197.84 812.22 L197.84 811 L197.84 809.79 L197.84 808.58 L197.84 807.37 L197.84 806.16 L197.84 804.95 L197.84 803.74 L197.84 802.52 L197.84 801.31 L197.84 800.1 L197.84 798.89 L197.84 797.68 L197.84 796.47 L197.84 795.26 L197.84 794.04 L197.84 792.83 L197.84 791.62 L197.84 790.41 L197.5 790.41 L197.5 791.62 L197.5 792.83 L197.5 794.04 L197.5 795.26 L197.5 796.47 L197.5 797.68 L197.5 798.89 L197.5 800.1 L197.5 801.31 L197.5 802.52 L197.5 803.74 L197.5 804.95 L197.5 806.16 L197.5 807.37 L197.5 808.58 L197.5 809.79 L197.5 811 L197.5 812.22 L197.5 813.43 L197.5 814.64 L197.5 815.85 L197.5 817.06 L197.5 818.27 L197.5 819.48 L197.5 820.7 L197.5 821.91 L197.5 823.12 L197.5 824.33 L197.45 825.54 L197.38 826.75 L197.29 827.97 L197.17 829.18 L197.04 830.39 L196.88 831.6 L196.65 832.81 L196.35 834.02 L196.07 835.23 L195.86 836.45 L195.64 837.66 L195.4 838.87 L195.1 840.08 L194.74 841.29 L194.37 842.5 L194.05 843.71 L193.82 844.93 L193.68 846.14 L193.59 847.35 L193.62 848.56 L193.86 849.77 L194.35 850.98 L195.03 852.19 L195.65 853.41 L196.3 854.62 L197.18 855.83 L197.49 857.04 L197.49 858.25 L197.42 859.46 L197.32 860.67 L197.19 861.89 L197.06 863.1 L197 864.31 L197.06 865.52 L197.2 866.73 L197.36 867.94 L197.49 869.15 L197.5 870.37 L197.5 871.58 L197.5 872.79 L197.5 874 L197.5 875.21 L197.5 876.42 L197.5 877.63 L197.5 878.85Z" fill="none" stroke="#7e0040" stroke-width="1.25" stroke-linejoin="round"/>
<line x1="193.7" y1="845.13" x2="201.64" y2="845.13" stroke="#141414" stroke-width="1.35"/>
<line x1="208.25" y1="822.08" x2="212.29" y2="822.08" stroke="#808080" stroke-width="0.6" stroke-opacity="0.55" stroke-dasharray="1.2 0.8"/>
<line x1="206.87" y1="847.17" x2="213.67" y2="847.17" stroke="#808080" stroke-width="0.6" stroke-opacity="0.55" stroke-dasharray="1.2 0.8"/>
<path d="M210.44 883.94 L210.44 882.74 L210.44 881.54 L210.44 880.33 L210.44 879.13 L210.44 877.93 L210.44 876.72 L210.44 875.52 L210.44 874.32 L210.44 873.12 L210.44 871.91 L210.44 870.71 L210.44 869.51 L210.44 868.3 L210.44 867.1 L210.44 865.9 L210.44 864.69 L210.47 863.49 L210.5 862.29 L210.58 861.09 L210.81 859.88 L211.23 858.68 L211.81 857.48 L212.15 856.27 L212.47 855.07 L212.86 853.87 L213.28 852.66 L213.66 851.46 L213.95 850.26 L214.12 849.06 L214.25 847.85 L214.27 846.65 L214.23 845.45 L214.17 844.24 L214.1 843.04 L214.02 841.84 L213.88 840.64 L213.69 839.43 L213.47 838.23 L213.24 837.03 L213.02 835.82 L212.83 834.62 L212.67 833.42 L212.59 832.21 L212.58 831.01 L212.64 829.81 L212.74 828.61 L212.84 827.4 L212.92 826.2 L212.95 825 L212.97 823.79 L212.93 822.59 L212.83 821.39 L212.67 820.19 L212.38 818.98 L212.04 817.78 L211.72 816.58 L211.41 815.37 L211.42 814.17 L211.54 812.97 L211.74 811.76 L211.88 810.56 L212.02 809.36 L212.15 808.16 L212.26 806.95 L212.34 805.75 L212.37 804.55 L212.33 803.34 L212.24 802.14 L212.09 800.94 L211.93 799.74 L211.73 798.53 L211.43 797.33 L211.22 796.13 L211.04 794.92 L210.88 793.72 L210.74 792.52 L210.62 791.31 L210.53 790.11 L210.46 788.91 L210.44 787.71 L210.44 786.5 L210.44 785.3 L210.44 784.1 L210.44 782.89 L210.44 781.69 L210.44 780.49 L210.44 779.28 L210.44 778.08 L210.44 776.88 L210.44 775.68 L210.44 774.47 L210.44 773.27 L210.44 772.07 L210.44 770.86 L210.44 769.66 L210.44 768.46 L210.1 768.46 L210.1 769.66 L210.1 770.86 L210.1 772.07 L210.1 773.27 L210.1 774.47 L210.1 775.68 L210.1 776.88 L210.1 778.08 L210.1 779.28 L210.1 780.49 L210.1 781.69 L210.1 782.89 L210.1 784.1 L210.1 785.3 L210.1 786.5 L210.1 787.71 L210.08 788.91 L210.01 790.11 L209.92 791.31 L209.8 792.52 L209.66 793.72 L209.5 794.92 L209.32 796.13 L209.11 797.33 L208.81 798.53 L208.61 799.74 L208.45 800.94 L208.3 802.14 L208.21 803.34 L208.17 804.55 L208.2 805.75 L208.28 806.95 L208.39 808.16 L208.52 809.36 L208.66 810.56 L208.8 811.76 L209 812.97 L209.12 814.17 L209.13 815.37 L208.82 816.58 L208.5 817.78 L208.16 818.98 L207.87 820.19 L207.71 821.39 L207.61 822.59 L207.57 823.79 L207.59 825 L207.62 826.2 L207.7 827.4 L207.8 828.61 L207.9 829.81 L207.96 831.01 L207.95 832.21 L207.87 833.42 L207.71 834.62 L207.52 835.82 L207.3 837.03 L207.07 838.23 L206.85 839.43 L206.66 840.64 L206.52 841.84 L206.44 843.04 L206.37 844.24 L206.31 845.45 L206.27 846.65 L206.29 847.85 L206.42 849.06 L206.59 850.26 L206.88 851.46 L207.26 852.66 L207.68 853.87 L208.07 855.07 L208.39 856.27 L208.73 857.48 L209.31 858.68 L209.73 859.88 L209.96 861.09 L210.04 862.29 L210.07 863.49 L210.1 864.69 L210.1 865.9 L210.1 867.1 L210.1 868.3 L210.1 869.51 L210.1 870.71 L210.1 871.91 L210.1 873.12 L210.1 874.32 L210.1 875.52 L210.1 876.72 L210.1 877.93 L210.1 879.13 L210.1 880.33 L210.1 881.54 L210.1 882.74 L210.1 883.94Z" fill="none" stroke="#808080" stroke-width="1.25" stroke-linejoin="round"/>
<line x1="207.54" y1="835.1" x2="213" y2="835.1" stroke="#141414" stroke-width="1.35"/>
<line x1="229.03" y1="837.76" x2="233.45" y2="837.76" stroke="#f18cb6" stroke-width="0.6" stroke-opacity="0.55" stroke-dasharray="1.2 0.8"/>
<line x1="229.38" y1="848.74" x2="233.1" y2="848.74" stroke="#f18cb6" stroke-width="0.6" stroke-opacity="0.55" stroke-dasharray="1.2 0.8"/>
<path d="M231.41 868.5 L231.41 867.29 L231.48 866.08 L231.54 864.87 L231.57 863.65 L231.51 862.44 L231.43 861.23 L231.41 860.02 L231.44 858.81 L231.51 857.6 L231.61 856.39 L231.75 855.18 L232.01 853.97 L232.43 852.76 L232.88 851.55 L233.21 850.34 L233.56 849.13 L234.03 847.92 L234.53 846.71 L234.93 845.5 L235.14 844.29 L235.24 843.07 L235.15 841.86 L234.98 840.65 L234.67 839.44 L234.24 838.23 L233.76 837.02 L233.35 835.81 L233.04 834.6 L232.76 833.39 L232.29 832.18 L231.95 830.97 L231.73 829.76 L231.62 828.55 L231.53 827.34 L231.47 826.13 L231.42 824.92 L231.41 823.71 L231.41 822.49 L231.41 821.28 L231.41 820.07 L231.41 818.86 L231.41 817.65 L231.41 816.44 L231.41 815.23 L231.41 814.02 L231.41 812.81 L231.41 811.6 L231.41 810.39 L231.41 809.18 L231.41 807.97 L231.41 806.76 L231.41 805.55 L231.41 804.34 L231.41 803.13 L231.41 801.91 L231.41 800.7 L231.41 799.49 L231.41 798.28 L231.41 797.07 L231.41 795.86 L231.41 794.65 L231.41 793.44 L231.41 792.23 L231.41 791.02 L231.41 789.81 L231.41 788.6 L231.41 787.39 L231.41 786.18 L231.07 786.18 L231.07 787.39 L231.07 788.6 L231.07 789.81 L231.07 791.02 L231.07 792.23 L231.07 793.44 L231.07 794.65 L231.07 795.86 L231.07 797.07 L231.07 798.28 L231.07 799.49 L231.07 800.7 L231.07 801.91 L231.07 803.13 L231.07 804.34 L231.07 805.55 L231.07 806.76 L231.07 807.97 L231.07 809.18 L231.07 810.39 L231.07 811.6 L231.07 812.81 L231.07 814.02 L231.07 815.23 L231.07 816.44 L231.07 817.65 L231.07 818.86 L231.07 820.07 L231.07 821.28 L231.07 822.49 L231.07 823.71 L231.06 824.92 L231.01 826.13 L230.95 827.34 L230.86 828.55 L230.75 829.76 L230.53 830.97 L230.19 832.18 L229.72 833.39 L229.44 834.6 L229.13 835.81 L228.72 837.02 L228.24 838.23 L227.81 839.44 L227.5 840.65 L227.33 841.86 L227.24 843.07 L227.34 844.29 L227.55 845.5 L227.95 846.71 L228.45 847.92 L228.92 849.13 L229.27 850.34 L229.6 851.55 L230.05 852.76 L230.47 853.97 L230.73 855.18 L230.87 856.39 L230.97 857.6 L231.04 858.81 L231.07 860.02 L231.05 861.23 L230.97 862.44 L230.91 863.65 L230.94 864.87 L231 866.08 L231.07 867.29 L231.07 868.5Z" fill="none" stroke="#f18cb6" stroke-width="1.25" stroke-linejoin="round"/>
<line x1="227.15" y1="843.41" x2="235.33" y2="843.41" stroke="#141414" stroke-width="1.35"/>
<line x1="241.35" y1="834.63" x2="246.33" y2="834.63" stroke="#7e0040" stroke-width="0.6" stroke-opacity="0.55" stroke-dasharray="1.2 0.8"/>
<line x1="241.58" y1="844.82" x2="246.1" y2="844.82" stroke="#7e0040" stroke-width="0.6" stroke-opacity="0.55" stroke-dasharray="1.2 0.8"/>
<path d="M244.01 867.87 L244.01 866.66 L244.01 865.45 L244.01 864.24 L244.11 863.03 L244.41 861.82 L244.72 860.61 L244.76 859.4 L244.43 858.19 L244.12 856.98 L244.01 855.77 L244.01 854.56 L244.03 853.35 L244.05 852.14 L244.09 850.93 L244.33 849.72 L245.03 848.51 L245.74 847.3 L246.27 846.09 L246.68 844.88 L247.09 843.67 L247.45 842.46 L247.68 841.25 L247.82 840.04 L247.81 838.83 L247.68 837.62 L247.46 836.41 L247.11 835.2 L246.72 833.99 L246.36 832.78 L245.97 831.57 L245.56 830.36 L245.05 829.15 L244.59 827.94 L244.36 826.73 L244.18 825.52 L244.06 824.31 L244.01 823.1 L244.01 821.89 L244.01 820.68 L244.01 819.47 L244.01 818.26 L244.01 817.05 L244.01 815.84 L244.01 814.63 L244.01 813.42 L244.01 812.21 L244.01 811 L244.01 809.79 L244.01 808.58 L244.01 807.37 L244.01 806.16 L244.01 804.95 L244.01 803.74 L244.01 802.53 L244.01 801.32 L244.01 800.12 L244.01 798.91 L244.01 797.7 L244.01 796.49 L244.01 795.28 L244.01 794.07 L244.08 792.86 L244.33 791.65 L244.63 790.44 L244.8 789.23 L244.66 788.02 L244.37 786.81 L244.12 785.6 L244.01 784.39 L244.01 783.18 L244.01 781.97 L244.01 780.76 L244.01 779.55 L244.01 778.34 L243.67 778.34 L243.67 779.55 L243.67 780.76 L243.67 781.97 L243.67 783.18 L243.67 784.39 L243.56 785.6 L243.31 786.81 L243.02 788.02 L242.88 789.23 L243.05 790.44 L243.35 791.65 L243.6 792.86 L243.67 794.07 L243.67 795.28 L243.67 796.49 L243.67 797.7 L243.67 798.91 L243.67 800.12 L243.67 801.32 L243.67 802.53 L243.67 803.74 L243.67 804.95 L243.67 806.16 L243.67 807.37 L243.67 808.58 L243.67 809.79 L243.67 811 L243.67 812.21 L243.67 813.42 L243.67 814.63 L243.67 815.84 L243.67 817.05 L243.67 818.26 L243.67 819.47 L243.67 820.68 L243.67 821.89 L243.67 823.1 L243.62 824.31 L243.5 825.52 L243.32 826.73 L243.09 827.94 L242.63 829.15 L242.12 830.36 L241.71 831.57 L241.32 832.78 L240.96 833.99 L240.57 835.2 L240.22 836.41 L240 837.62 L239.87 838.83 L239.86 840.04 L240 841.25 L240.23 842.46 L240.59 843.67 L241 844.88 L241.41 846.09 L241.94 847.3 L242.65 848.51 L243.35 849.72 L243.59 850.93 L243.63 852.14 L243.65 853.35 L243.67 854.56 L243.67 855.77 L243.56 856.98 L243.25 858.19 L242.92 859.4 L242.96 860.61 L243.27 861.82 L243.57 863.03 L243.67 864.24 L243.67 865.45 L243.67 866.66 L243.67 867.87Z" fill="none" stroke="#7e0040" stroke-width="1.25" stroke-linejoin="round"/>
<line x1="239.75" y1="839.02" x2="247.93" y2="839.02" stroke="#141414" stroke-width="1.35"/>
<line x1="254.14" y1="836.2" x2="258.74" y2="836.2" stroke="#808080" stroke-width="0.6" stroke-opacity="0.55" stroke-dasharray="1.2 0.8"/>
<line x1="254.84" y1="847.17" x2="258.04" y2="847.17" stroke="#808080" stroke-width="0.6" stroke-opacity="0.55" stroke-dasharray="1.2 0.8"/>
<path d="M256.61 868.18 L256.61 866.98 L256.61 865.77 L256.61 864.57 L256.61 863.37 L256.65 862.16 L256.94 860.96 L257.1 859.75 L256.85 858.55 L256.61 857.35 L256.61 856.14 L256.61 854.94 L256.73 853.73 L256.91 852.53 L257.22 851.32 L257.71 850.12 L258.14 848.92 L258.49 847.71 L258.86 846.51 L259.33 845.3 L259.79 844.1 L260.12 842.89 L260.29 841.69 L260.33 840.49 L260.2 839.28 L259.97 838.08 L259.58 836.87 L259.15 835.67 L258.8 834.46 L258.49 833.26 L258.19 832.06 L257.88 830.85 L257.43 829.65 L257.13 828.44 L256.94 827.24 L256.79 826.04 L256.68 824.83 L256.61 823.63 L256.61 822.42 L256.61 821.22 L256.61 820.01 L256.61 818.81 L256.61 817.61 L256.61 816.4 L256.61 815.2 L256.61 813.99 L256.61 812.79 L256.61 811.58 L256.61 810.38 L256.61 809.18 L256.61 807.97 L256.61 806.77 L256.61 805.56 L256.61 804.36 L256.61 803.16 L256.61 801.95 L256.61 800.75 L256.61 799.54 L256.61 798.34 L256.61 797.13 L256.61 795.93 L256.61 794.73 L256.61 793.52 L256.61 792.32 L256.61 791.11 L256.61 789.91 L256.61 788.7 L256.61 787.5 L256.61 786.3 L256.61 785.09 L256.61 783.89 L256.61 782.68 L256.61 781.48 L256.61 780.27 L256.61 779.07 L256.61 777.87 L256.27 777.87 L256.27 779.07 L256.27 780.27 L256.27 781.48 L256.27 782.68 L256.27 783.89 L256.27 785.09 L256.27 786.3 L256.27 787.5 L256.27 788.7 L256.27 789.91 L256.27 791.11 L256.27 792.32 L256.27 793.52 L256.27 794.73 L256.27 795.93 L256.27 797.13 L256.27 798.34 L256.27 799.54 L256.27 800.75 L256.27 801.95 L256.27 803.16 L256.27 804.36 L256.27 805.56 L256.27 806.77 L256.27 807.97 L256.27 809.18 L256.27 810.38 L256.27 811.58 L256.27 812.79 L256.27 813.99 L256.27 815.2 L256.27 816.4 L256.27 817.61 L256.27 818.81 L256.27 820.01 L256.27 821.22 L256.27 822.42 L256.27 823.63 L256.2 824.83 L256.09 826.04 L255.94 827.24 L255.75 828.44 L255.45 829.65 L255 830.85 L254.69 832.06 L254.39 833.26 L254.08 834.46 L253.73 835.67 L253.3 836.87 L252.91 838.08 L252.68 839.28 L252.55 840.49 L252.59 841.69 L252.76 842.89 L253.09 844.1 L253.55 845.3 L254.02 846.51 L254.39 847.71 L254.74 848.92 L255.17 850.12 L255.66 851.32 L255.97 852.53 L256.15 853.73 L256.27 854.94 L256.27 856.14 L256.27 857.35 L256.03 858.55 L255.78 859.75 L255.94 860.96 L256.23 862.16 L256.27 863.37 L256.27 864.57 L256.27 865.77 L256.27 866.98 L256.27 868.18Z" fill="none" stroke="#808080" stroke-width="1.25" stroke-linejoin="round"/>
<line x1="252.45" y1="841.21" x2="260.43" y2="841.21" stroke="#141414" stroke-width="1.35"/>
<line x1="275.79" y1="861.28" x2="279.03" y2="861.28" stroke="#f18cb6" stroke-width="0.6" stroke-opacity="0.55" stroke-dasharray="1.2 0.8"/>
<line x1="274.71" y1="876.96" x2="280.11" y2="876.96" stroke="#f18cb6" stroke-width="0.6" stroke-opacity="0.55" stroke-dasharray="1.2 0.8"/>
<path d="M277.58 905.89 L277.58 904.69 L277.58 903.48 L277.58 902.28 L277.58 901.07 L277.58 899.87 L277.58 898.66 L277.58 897.45 L277.58 896.25 L277.58 895.04 L277.7 893.84 L277.96 892.63 L278.24 891.43 L278.37 890.22 L278.31 889.02 L278.2 887.81 L278.11 886.6 L278.08 885.4 L278.28 884.19 L278.78 882.99 L279.23 881.78 L279.63 880.58 L280 879.37 L280.34 878.17 L280.71 876.96 L281.02 875.76 L281.2 874.55 L281.3 873.34 L281.29 872.14 L281.21 870.93 L281.11 869.73 L280.94 868.52 L280.73 867.32 L280.48 866.11 L280.24 864.91 L280.02 863.7 L279.82 862.49 L279.63 861.29 L279.43 860.08 L279.24 858.88 L279.06 857.67 L278.86 856.47 L278.57 855.26 L278.34 854.06 L278.14 852.85 L277.97 851.64 L277.82 850.44 L277.71 849.23 L277.62 848.03 L277.58 846.82 L277.58 845.62 L277.58 844.41 L277.58 843.21 L277.58 842 L277.58 840.79 L277.58 839.59 L277.58 838.38 L277.58 837.18 L277.58 835.97 L277.58 834.77 L277.58 833.56 L277.58 832.36 L277.58 831.15 L277.58 829.94 L277.58 828.74 L277.58 827.53 L277.58 826.33 L277.58 825.12 L277.58 823.92 L277.58 822.71 L277.24 822.71 L277.24 823.92 L277.24 825.12 L277.24 826.33 L277.24 827.53 L277.24 828.74 L277.24 829.94 L277.24 831.15 L277.24 832.36 L277.24 833.56 L277.24 834.77 L277.24 835.97 L277.24 837.18 L277.24 838.38 L277.24 839.59 L277.24 840.79 L277.24 842 L277.24 843.21 L277.24 844.41 L277.24 845.62 L277.24 846.82 L277.2 848.03 L277.11 849.23 L277 850.44 L276.85 851.64 L276.68 852.85 L276.48 854.06 L276.25 855.26 L275.96 856.47 L275.76 857.67 L275.58 858.88 L275.39 860.08 L275.19 861.29 L275 862.49 L274.8 863.7 L274.58 864.91 L274.34 866.11 L274.09 867.32 L273.88 868.52 L273.71 869.73 L273.61 870.93 L273.53 872.14 L273.52 873.34 L273.62 874.55 L273.8 875.76 L274.11 876.96 L274.48 878.17 L274.82 879.37 L275.19 880.58 L275.59 881.78 L276.04 882.99 L276.54 884.19 L276.74 885.4 L276.71 886.6 L276.62 887.81 L276.51 889.02 L276.45 890.22 L276.58 891.43 L276.86 892.63 L277.12 893.84 L277.24 895.04 L277.24 896.25 L277.24 897.45 L277.24 898.66 L277.24 899.87 L277.24 901.07 L277.24 902.28 L277.24 903.48 L277.24 904.69 L277.24 905.89Z" fill="none" stroke="#f18cb6" stroke-width="1.25" stroke-linejoin="round"/>
<line x1="273.57" y1="870.14" x2="281.25" y2="870.14" stroke="#141414" stroke-width="1.35"/>
<line x1="287.35" y1="874.61" x2="292.67" y2="874.61" stroke="#7e0040" stroke-width="0.6" stroke-opacity="0.55" stroke-dasharray="1.2 0.8"/>
<line x1="287.79" y1="886.37" x2="292.23" y2="886.37" stroke="#7e0040" stroke-width="0.6" stroke-opacity="0.55" stroke-dasharray="1.2 0.8"/>
<path d="M290.18 902.52 L290.18 901.31 L290.18 900.1 L290.18 898.88 L290.18 897.67 L290.39 896.46 L290.86 895.24 L291.53 894.03 L291.99 892.82 L292.37 891.6 L292.52 890.39 L292.55 889.18 L292.58 887.96 L292.68 886.75 L293.28 885.54 L293.77 884.32 L293.91 883.11 L293.78 881.9 L293.45 880.68 L292.92 879.47 L292.61 878.26 L292.77 877.04 L293.1 875.83 L293.27 874.62 L293.29 873.4 L293.12 872.19 L292.83 870.98 L292.28 869.76 L291.65 868.55 L290.87 867.34 L290.55 866.12 L290.37 864.91 L290.24 863.7 L290.18 862.48 L290.18 861.27 L290.18 860.06 L290.18 858.84 L290.18 857.63 L290.18 856.42 L290.18 855.2 L290.18 853.99 L290.18 852.78 L290.18 851.56 L290.18 850.35 L290.18 849.14 L290.18 847.93 L290.18 846.71 L290.18 845.5 L290.18 844.29 L290.18 843.07 L290.18 841.86 L290.18 840.65 L290.18 839.43 L290.18 838.22 L290.18 837.01 L290.18 835.79 L290.18 834.58 L290.18 833.37 L290.18 832.15 L290.18 830.94 L290.18 829.73 L290.18 828.51 L289.84 828.51 L289.84 829.73 L289.84 830.94 L289.84 832.15 L289.84 833.37 L289.84 834.58 L289.84 835.79 L289.84 837.01 L289.84 838.22 L289.84 839.43 L289.84 840.65 L289.84 841.86 L289.84 843.07 L289.84 844.29 L289.84 845.5 L289.84 846.71 L289.84 847.93 L289.84 849.14 L289.84 850.35 L289.84 851.56 L289.84 852.78 L289.84 853.99 L289.84 855.2 L289.84 856.42 L289.84 857.63 L289.84 858.84 L289.84 860.06 L289.84 861.27 L289.84 862.48 L289.78 863.7 L289.65 864.91 L289.47 866.12 L289.15 867.34 L288.37 868.55 L287.74 869.76 L287.19 870.98 L286.9 872.19 L286.73 873.4 L286.75 874.62 L286.92 875.83 L287.25 877.04 L287.41 878.26 L287.1 879.47 L286.57 880.68 L286.24 881.9 L286.11 883.11 L286.25 884.32 L286.74 885.54 L287.34 886.75 L287.44 887.96 L287.47 889.18 L287.5 890.39 L287.65 891.6 L288.03 892.82 L288.49 894.03 L289.16 895.24 L289.63 896.46 L289.84 897.67 L289.84 898.88 L289.84 900.1 L289.84 901.31 L289.84 902.52Z" fill="none" stroke="#7e0040" stroke-width="1.25" stroke-linejoin="round"/>
<line x1="286.24" y1="881.35" x2="293.78" y2="881.35" stroke="#141414" stroke-width="1.35"/>
<line x1="300.41" y1="864.42" x2="304.81" y2="864.42" stroke="#808080" stroke-width="0.6" stroke-opacity="0.55" stroke-dasharray="1.2 0.8"/>
<line x1="300.41" y1="881.67" x2="304.81" y2="881.67" stroke="#808080" stroke-width="0.6" stroke-opacity="0.55" stroke-dasharray="1.2 0.8"/>
<path d="M302.78 906.91 L302.78 905.7 L302.78 904.48 L302.78 903.26 L302.78 902.05 L302.78 900.83 L302.78 899.61 L302.78 898.4 L302.78 897.18 L302.78 895.97 L302.83 894.75 L302.95 893.53 L303.14 892.32 L303.41 891.1 L303.75 889.88 L304.12 888.67 L304.32 887.45 L304.55 886.24 L304.78 885.02 L305.01 883.8 L305.24 882.59 L305.47 881.37 L305.71 880.15 L305.96 878.94 L306.18 877.72 L306.35 876.5 L306.45 875.29 L306.51 874.07 L306.49 872.86 L306.42 871.64 L306.33 870.42 L306.19 869.21 L306.01 867.99 L305.8 866.77 L305.59 865.56 L305.4 864.34 L305.21 863.13 L305 861.91 L304.79 860.69 L304.58 859.48 L304.38 858.26 L304.19 857.04 L303.91 855.83 L303.64 854.61 L303.43 853.39 L303.24 852.18 L303.08 850.96 L302.95 849.75 L302.85 848.53 L302.78 847.31 L302.78 846.1 L302.78 844.88 L302.78 843.66 L302.78 842.45 L302.78 841.23 L302.78 840.02 L302.78 838.8 L302.78 837.58 L302.78 836.37 L302.78 835.15 L302.78 833.93 L302.78 832.72 L302.78 831.5 L302.78 830.28 L302.78 829.07 L302.78 827.85 L302.78 826.64 L302.78 825.42 L302.78 824.2 L302.78 822.99 L302.78 821.77 L302.44 821.77 L302.44 822.99 L302.44 824.2 L302.44 825.42 L302.44 826.64 L302.44 827.85 L302.44 829.07 L302.44 830.28 L302.44 831.5 L302.44 832.72 L302.44 833.93 L302.44 835.15 L302.44 836.37 L302.44 837.58 L302.44 838.8 L302.44 840.02 L302.44 841.23 L302.44 842.45 L302.44 843.66 L302.44 844.88 L302.44 846.1 L302.44 847.31 L302.37 848.53 L302.27 849.75 L302.14 850.96 L301.98 852.18 L301.79 853.39 L301.58 854.61 L301.31 855.83 L301.03 857.04 L300.84 858.26 L300.64 859.48 L300.43 860.69 L300.22 861.91 L300.01 863.13 L299.82 864.34 L299.63 865.56 L299.42 866.77 L299.21 867.99 L299.03 869.21 L298.89 870.42 L298.8 871.64 L298.73 872.86 L298.71 874.07 L298.77 875.29 L298.87 876.5 L299.04 877.72 L299.26 878.94 L299.51 880.15 L299.75 881.37 L299.98 882.59 L300.21 883.8 L300.44 885.02 L300.67 886.24 L300.9 887.45 L301.1 888.67 L301.47 889.88 L301.81 891.1 L302.08 892.32 L302.27 893.53 L302.39 894.75 L302.44 895.97 L302.44 897.18 L302.44 898.4 L302.44 899.61 L302.44 900.83 L302.44 902.05 L302.44 903.26 L302.44 904.48 L302.44 905.7 L302.44 906.91Z" fill="none" stroke="#808080" stroke-width="1.25" stroke-linejoin="round"/>
<line x1="298.62" y1="873.36" x2="306.6" y2="873.36" stroke="#141414" stroke-width="1.35"/>
<line x1="320.6" y1="848.74" x2="326.56" y2="848.74" stroke="#f18cb6" stroke-width="0.6" stroke-opacity="0.55" stroke-dasharray="1.2 0.8"/>
<line x1="322.57" y1="861.28" x2="324.59" y2="861.28" stroke="#f18cb6" stroke-width="0.6" stroke-opacity="0.55" stroke-dasharray="1.2 0.8"/>
<path d="M323.75 888.49 L323.75 887.28 L323.75 886.07 L323.75 884.86 L323.75 883.65 L323.75 882.44 L323.75 881.23 L323.75 880.02 L323.75 878.81 L323.75 877.6 L323.75 876.39 L323.8 875.19 L323.88 873.98 L323.97 872.77 L324.06 871.56 L324.17 870.35 L324.28 869.14 L324.42 867.93 L324.57 866.72 L324.73 865.51 L324.9 864.3 L325.07 863.09 L325.15 861.88 L325.23 860.67 L325.33 859.46 L325.46 858.25 L325.65 857.04 L326.16 855.83 L326.8 854.63 L327.25 853.42 L327.45 852.21 L327.45 851 L327.32 849.79 L327.13 848.58 L326.8 847.37 L326.34 846.16 L325.85 844.95 L325.41 843.74 L325.09 842.53 L324.71 841.32 L324.39 840.11 L324.14 838.9 L323.96 837.69 L323.84 836.48 L323.75 835.27 L323.75 834.07 L323.75 832.86 L323.75 831.65 L323.75 830.44 L323.75 829.23 L323.75 828.02 L323.75 826.81 L323.75 825.6 L323.75 824.39 L323.75 823.18 L323.75 821.97 L323.75 820.76 L323.75 819.55 L323.75 818.34 L323.75 817.13 L323.75 815.92 L323.75 814.71 L323.41 814.71 L323.41 815.92 L323.41 817.13 L323.41 818.34 L323.41 819.55 L323.41 820.76 L323.41 821.97 L323.41 823.18 L323.41 824.39 L323.41 825.6 L323.41 826.81 L323.41 828.02 L323.41 829.23 L323.41 830.44 L323.41 831.65 L323.41 832.86 L323.41 834.07 L323.41 835.27 L323.32 836.48 L323.2 837.69 L323.02 838.9 L322.77 840.11 L322.45 841.32 L322.07 842.53 L321.75 843.74 L321.31 844.95 L320.82 846.16 L320.36 847.37 L320.03 848.58 L319.84 849.79 L319.71 851 L319.71 852.21 L319.91 853.42 L320.36 854.63 L321 855.83 L321.51 857.04 L321.7 858.25 L321.83 859.46 L321.93 860.67 L322.01 861.88 L322.09 863.09 L322.26 864.3 L322.43 865.51 L322.59 866.72 L322.74 867.93 L322.88 869.14 L322.99 870.35 L323.1 871.56 L323.19 872.77 L323.28 873.98 L323.36 875.19 L323.41 876.39 L323.41 877.6 L323.41 878.81 L323.41 880.02 L323.41 881.23 L323.41 882.44 L323.41 883.65 L323.41 884.86 L323.41 886.07 L323.41 887.28 L323.41 888.49Z" fill="none" stroke="#f18cb6" stroke-width="1.25" stroke-linejoin="round"/>
<line x1="319.71" y1="852.9" x2="327.45" y2="852.9" stroke="#141414" stroke-width="1.35"/>
<line x1="333.33" y1="858.15" x2="339.03" y2="858.15" stroke="#7e0040" stroke-width="0.6" stroke-opacity="0.55" stroke-dasharray="1.2 0.8"/>
<line x1="334.56" y1="870.69" x2="337.8" y2="870.69" stroke="#7e0040" stroke-width="0.6" stroke-opacity="0.55" stroke-dasharray="1.2 0.8"/>
<path d="M336.35 892.96 L336.35 891.75 L336.35 890.54 L336.35 889.33 L336.35 888.12 L336.51 886.91 L336.81 885.7 L337.36 884.49 L337.96 883.28 L338.31 882.08 L338.36 880.87 L338.15 879.66 L337.85 878.45 L337.48 877.24 L337.31 876.03 L337.45 874.82 L337.75 873.61 L338 872.4 L338.28 871.19 L338.56 869.98 L338.89 868.77 L339.29 867.57 L339.69 866.36 L339.99 865.15 L340.17 863.94 L340.27 862.73 L340.24 861.52 L340.09 860.31 L339.89 859.1 L339.54 857.89 L339.06 856.68 L338.54 855.47 L338.05 854.26 L337.65 853.06 L337.22 851.85 L336.88 850.64 L336.63 849.43 L336.46 848.22 L336.35 847.01 L336.35 845.8 L336.35 844.59 L336.35 843.38 L336.35 842.17 L336.35 840.96 L336.35 839.75 L336.35 838.54 L336.35 837.34 L336.35 836.13 L336.35 834.92 L336.35 833.71 L336.35 832.5 L336.35 831.29 L336.35 830.08 L336.35 828.87 L336.35 827.66 L336.35 826.45 L336.35 825.24 L336.35 824.03 L336.35 822.83 L336.35 821.62 L336.35 820.41 L336.35 819.2 L336.35 817.99 L336.39 816.78 L336.54 815.57 L336.71 814.36 L336.83 813.15 L336.82 811.94 L336.7 810.73 L336.54 809.52 L336.41 808.32 L336.35 807.11 L336.35 805.9 L336.35 804.69 L336.35 803.48 L336.35 802.27 L336.35 801.06 L336.35 799.85 L336.35 798.64 L336.01 798.64 L336.01 799.85 L336.01 801.06 L336.01 802.27 L336.01 803.48 L336.01 804.69 L336.01 805.9 L336.01 807.11 L335.95 808.32 L335.82 809.52 L335.66 810.73 L335.54 811.94 L335.53 813.15 L335.65 814.36 L335.82 815.57 L335.97 816.78 L336.01 817.99 L336.01 819.2 L336.01 820.41 L336.01 821.62 L336.01 822.83 L336.01 824.03 L336.01 825.24 L336.01 826.45 L336.01 827.66 L336.01 828.87 L336.01 830.08 L336.01 831.29 L336.01 832.5 L336.01 833.71 L336.01 834.92 L336.01 836.13 L336.01 837.34 L336.01 838.54 L336.01 839.75 L336.01 840.96 L336.01 842.17 L336.01 843.38 L336.01 844.59 L336.01 845.8 L336.01 847.01 L335.9 848.22 L335.73 849.43 L335.48 850.64 L335.14 851.85 L334.71 853.06 L334.31 854.26 L333.82 855.47 L333.3 856.68 L332.82 857.89 L332.47 859.1 L332.27 860.31 L332.12 861.52 L332.09 862.73 L332.19 863.94 L332.37 865.15 L332.67 866.36 L333.07 867.57 L333.47 868.77 L333.8 869.98 L334.08 871.19 L334.36 872.4 L334.61 873.61 L334.91 874.82 L335.05 876.03 L334.88 877.24 L334.51 878.45 L334.21 879.66 L334 880.87 L334.05 882.08 L334.4 883.28 L335 884.49 L335.55 885.7 L335.85 886.91 L336.01 888.12 L336.01 889.33 L336.01 890.54 L336.01 891.75 L336.01 892.96Z" fill="none" stroke="#7e0040" stroke-width="1.25" stroke-linejoin="round"/>
<line x1="332.09" y1="863.87" x2="340.27" y2="863.87" stroke="#141414" stroke-width="1.35"/>
<line x1="345.39" y1="851.09" x2="352.17" y2="851.09" stroke="#808080" stroke-width="0.6" stroke-opacity="0.55" stroke-dasharray="1.2 0.8"/>
<line x1="346.99" y1="865.99" x2="350.57" y2="865.99" stroke="#808080" stroke-width="0.6" stroke-opacity="0.55" stroke-dasharray="1.2 0.8"/>
<path d="M348.95 892.57 L348.95 891.35 L348.95 890.14 L348.95 888.92 L348.95 887.71 L348.95 886.49 L348.97 885.28 L349.19 884.06 L349.53 882.85 L349.84 881.63 L349.9 880.42 L349.87 879.2 L349.81 877.99 L349.77 876.77 L349.74 875.56 L349.77 874.35 L349.87 873.13 L350.05 871.92 L350.29 870.7 L350.43 869.49 L350.59 868.27 L350.85 867.06 L351.22 865.84 L351.59 864.63 L351.86 863.41 L352 862.2 L352.08 860.98 L352.07 859.77 L352.05 858.55 L352.01 857.34 L351.98 856.12 L352.1 854.91 L352.47 853.7 L352.71 852.48 L352.78 851.27 L352.69 850.05 L352.53 848.84 L352.29 847.62 L351.9 846.41 L351.45 845.19 L351 843.98 L350.65 842.76 L350.39 841.55 L350.01 840.33 L349.61 839.12 L349.32 837.9 L349.11 836.69 L348.98 835.48 L348.95 834.26 L348.95 833.05 L348.95 831.83 L348.95 830.62 L348.95 829.4 L348.95 828.19 L348.95 826.97 L348.95 825.76 L348.95 824.54 L348.95 823.33 L348.95 822.11 L348.95 820.9 L348.95 819.68 L348.95 818.47 L348.95 817.25 L348.95 816.04 L348.95 814.83 L348.95 813.61 L348.95 812.4 L348.95 811.18 L348.95 809.97 L348.95 808.75 L348.95 807.54 L348.95 806.32 L348.95 805.11 L348.95 803.89 L348.95 802.68 L348.95 801.46 L348.95 800.25 L348.95 799.03 L348.61 799.03 L348.61 800.25 L348.61 801.46 L348.61 802.68 L348.61 803.89 L348.61 805.11 L348.61 806.32 L348.61 807.54 L348.61 808.75 L348.61 809.97 L348.61 811.18 L348.61 812.4 L348.61 813.61 L348.61 814.83 L348.61 816.04 L348.61 817.25 L348.61 818.47 L348.61 819.68 L348.61 820.9 L348.61 822.11 L348.61 823.33 L348.61 824.54 L348.61 825.76 L348.61 826.97 L348.61 828.19 L348.61 829.4 L348.61 830.62 L348.61 831.83 L348.61 833.05 L348.61 834.26 L348.58 835.48 L348.45 836.69 L348.24 837.9 L347.95 839.12 L347.55 840.33 L347.17 841.55 L346.91 842.76 L346.56 843.98 L346.11 845.19 L345.66 846.41 L345.27 847.62 L345.03 848.84 L344.87 850.05 L344.78 851.27 L344.85 852.48 L345.09 853.7 L345.46 854.91 L345.58 856.12 L345.55 857.34 L345.51 858.55 L345.49 859.77 L345.48 860.98 L345.56 862.2 L345.7 863.41 L345.97 864.63 L346.34 865.84 L346.71 867.06 L346.97 868.27 L347.13 869.49 L347.27 870.7 L347.51 871.92 L347.69 873.13 L347.79 874.35 L347.82 875.56 L347.79 876.77 L347.75 877.99 L347.69 879.2 L347.66 880.42 L347.72 881.63 L348.03 882.85 L348.37 884.06 L348.59 885.28 L348.61 886.49 L348.61 887.71 L348.61 888.92 L348.61 890.14 L348.61 891.35 L348.61 892.57Z" fill="none" stroke="#808080" stroke-width="1.25" stroke-linejoin="round"/>
<line x1="345.44" y1="857.6" x2="352.12" y2="857.6" stroke="#141414" stroke-width="1.35"/>
<line x1="367.01" y1="852.66" x2="372.49" y2="852.66" stroke="#f18cb6" stroke-width="0.6" stroke-opacity="0.55" stroke-dasharray="1.2 0.8"/>
<line x1="368.28" y1="866.77" x2="371.22" y2="866.77" stroke="#f18cb6" stroke-width="0.6" stroke-opacity="0.55" stroke-dasharray="1.2 0.8"/>
<path d="M369.92 896.25 L369.92 895.03 L369.92 893.82 L369.92 892.6 L369.92 891.38 L369.92 890.17 L369.92 888.95 L369.92 887.74 L369.92 886.52 L369.92 885.3 L369.92 884.09 L369.92 882.87 L369.92 881.65 L369.92 880.44 L369.95 879.22 L370.04 878.01 L370.18 876.79 L370.38 875.57 L370.61 874.36 L370.84 873.14 L371.09 871.92 L371.3 870.71 L371.44 869.49 L371.6 868.27 L371.77 867.06 L371.98 865.84 L372.28 864.63 L372.66 863.41 L373.05 862.19 L373.35 860.98 L373.52 859.76 L373.63 858.54 L373.64 857.33 L373.55 856.11 L373.43 854.89 L373.28 853.68 L373.04 852.46 L372.71 851.25 L372.33 850.03 L371.93 848.81 L371.55 847.6 L371.2 846.38 L370.78 845.16 L370.57 843.95 L370.39 842.73 L370.25 841.51 L370.14 840.3 L370.05 839.08 L369.99 837.87 L369.93 836.65 L369.92 835.43 L369.92 834.22 L369.92 833 L369.92 831.78 L369.92 830.57 L369.92 829.35 L369.92 828.13 L369.92 826.92 L369.92 825.7 L369.92 824.49 L369.92 823.27 L369.92 822.05 L369.92 820.84 L369.92 819.62 L369.92 818.4 L369.92 817.19 L369.92 815.97 L369.92 814.75 L369.92 813.54 L369.58 813.54 L369.58 814.75 L369.58 815.97 L369.58 817.19 L369.58 818.4 L369.58 819.62 L369.58 820.84 L369.58 822.05 L369.58 823.27 L369.58 824.49 L369.58 825.7 L369.58 826.92 L369.58 828.13 L369.58 829.35 L369.58 830.57 L369.58 831.78 L369.58 833 L369.58 834.22 L369.58 835.43 L369.57 836.65 L369.51 837.87 L369.45 839.08 L369.36 840.3 L369.25 841.51 L369.11 842.73 L368.93 843.95 L368.72 845.16 L368.3 846.38 L367.95 847.6 L367.57 848.81 L367.17 850.03 L366.79 851.25 L366.46 852.46 L366.22 853.68 L366.07 854.89 L365.95 856.11 L365.86 857.33 L365.87 858.54 L365.98 859.76 L366.15 860.98 L366.45 862.19 L366.84 863.41 L367.22 864.63 L367.52 865.84 L367.73 867.06 L367.9 868.27 L368.06 869.49 L368.2 870.71 L368.41 871.92 L368.66 873.14 L368.89 874.36 L369.12 875.57 L369.32 876.79 L369.46 878.01 L369.55 879.22 L369.58 880.44 L369.58 881.65 L369.58 882.87 L369.58 884.09 L369.58 885.3 L369.58 886.52 L369.58 887.74 L369.58 888.95 L369.58 890.17 L369.58 891.38 L369.58 892.6 L369.58 893.82 L369.58 895.03 L369.58 896.25Z" fill="none" stroke="#f18cb6" stroke-width="1.25" stroke-linejoin="round"/>
<line x1="365.81" y1="859.17" x2="373.69" y2="859.17" stroke="#141414" stroke-width="1.35"/>
<line x1="380.67" y1="877.75" x2="384.03" y2="877.75" stroke="#7e0040" stroke-width="0.6" stroke-opacity="0.55" stroke-dasharray="1.2 0.8"/>
<line x1="379.2" y1="888.72" x2="385.5" y2="888.72" stroke="#7e0040" stroke-width="0.6" stroke-opacity="0.55" stroke-dasharray="1.2 0.8"/>
<path d="M382.52 901.35 L382.52 900.13 L382.52 898.91 L382.52 897.7 L382.66 896.48 L382.94 895.26 L383.92 894.04 L384.68 892.83 L385.24 891.61 L385.64 890.39 L385.99 889.18 L386.24 887.96 L386.39 886.74 L386.45 885.53 L386.34 884.31 L386.13 883.09 L385.77 881.87 L385.34 880.66 L384.98 879.44 L384.72 878.22 L384.49 877.01 L384.29 875.79 L384.09 874.57 L383.91 873.36 L383.62 872.14 L383.29 870.92 L382.99 869.7 L382.76 868.49 L382.59 867.27 L382.52 866.05 L382.52 864.84 L382.52 863.62 L382.52 862.4 L382.52 861.19 L382.52 859.97 L382.52 858.75 L382.52 857.53 L382.52 856.32 L382.52 855.1 L382.52 853.88 L382.52 852.67 L382.52 851.45 L382.52 850.23 L382.52 849.02 L382.52 847.8 L382.52 846.58 L382.52 845.36 L382.52 844.15 L382.52 842.93 L382.52 841.71 L382.52 840.5 L382.52 839.28 L382.52 838.06 L382.52 836.84 L382.52 835.63 L382.52 834.41 L382.54 833.19 L382.77 831.98 L383.11 830.76 L383.41 829.54 L383.45 828.33 L383.21 827.11 L382.91 825.89 L382.69 824.67 L382.52 823.46 L382.52 822.24 L382.18 822.24 L382.18 823.46 L382.01 824.67 L381.79 825.89 L381.49 827.11 L381.25 828.33 L381.29 829.54 L381.59 830.76 L381.93 831.98 L382.16 833.19 L382.18 834.41 L382.18 835.63 L382.18 836.84 L382.18 838.06 L382.18 839.28 L382.18 840.5 L382.18 841.71 L382.18 842.93 L382.18 844.15 L382.18 845.36 L382.18 846.58 L382.18 847.8 L382.18 849.02 L382.18 850.23 L382.18 851.45 L382.18 852.67 L382.18 853.88 L382.18 855.1 L382.18 856.32 L382.18 857.53 L382.18 858.75 L382.18 859.97 L382.18 861.19 L382.18 862.4 L382.18 863.62 L382.18 864.84 L382.18 866.05 L382.11 867.27 L381.94 868.49 L381.71 869.7 L381.41 870.92 L381.08 872.14 L380.79 873.36 L380.61 874.57 L380.41 875.79 L380.21 877.01 L379.98 878.22 L379.72 879.44 L379.36 880.66 L378.93 881.87 L378.57 883.09 L378.36 884.31 L378.25 885.53 L378.31 886.74 L378.46 887.96 L378.71 889.18 L379.06 890.39 L379.46 891.61 L380.02 892.83 L380.78 894.04 L381.76 895.26 L382.04 896.48 L382.18 897.7 L382.18 898.91 L382.18 900.13 L382.18 901.35Z" fill="none" stroke="#7e0040" stroke-width="1.25" stroke-linejoin="round"/>
<line x1="378.37" y1="883.55" x2="386.33" y2="883.55" stroke="#141414" stroke-width="1.35"/>
<line x1="391.83" y1="855.01" x2="398.07" y2="855.01" stroke="#808080" stroke-width="0.6" stroke-opacity="0.55" stroke-dasharray="1.2 0.8"/>
<line x1="392.09" y1="881.67" x2="397.81" y2="881.67" stroke="#808080" stroke-width="0.6" stroke-opacity="0.55" stroke-dasharray="1.2 0.8"/>
<path d="M395.12 905.5 L395.12 904.28 L395.12 903.07 L395.12 901.85 L395.12 900.63 L395.12 899.42 L395.14 898.2 L395.22 896.98 L395.45 895.76 L395.91 894.55 L396.53 893.33 L396.88 892.11 L397.21 890.9 L397.57 889.68 L397.9 888.46 L398.17 887.24 L398.33 886.03 L398.43 884.81 L398.45 883.59 L398.43 882.37 L398.4 881.16 L398.35 879.94 L398.28 878.72 L398.19 877.51 L398.09 876.29 L398.01 875.07 L397.96 873.85 L397.95 872.64 L398.01 871.42 L398.12 870.2 L398.25 868.99 L398.37 867.77 L398.46 866.55 L398.55 865.33 L398.63 864.12 L398.71 862.9 L398.77 861.68 L398.81 860.46 L398.84 859.25 L398.85 858.03 L398.82 856.81 L398.73 855.6 L398.61 854.38 L398.46 853.16 L398.24 851.94 L397.97 850.73 L397.65 849.51 L397.33 848.29 L397.02 847.08 L396.74 845.86 L396.52 844.64 L396.2 843.42 L395.85 842.21 L395.57 840.99 L395.36 839.77 L395.21 838.56 L395.12 837.34 L395.12 836.12 L395.12 834.9 L395.12 833.69 L395.12 832.47 L395.12 831.25 L395.12 830.03 L395.12 828.82 L395.12 827.6 L395.12 826.38 L395.12 825.17 L395.12 823.95 L395.12 822.73 L395.12 821.51 L395.12 820.3 L395.12 819.08 L395.12 817.86 L395.12 816.65 L395.12 815.43 L395.12 814.21 L395.12 812.99 L395.12 811.78 L395.12 810.56 L394.78 810.56 L394.78 811.78 L394.78 812.99 L394.78 814.21 L394.78 815.43 L394.78 816.65 L394.78 817.86 L394.78 819.08 L394.78 820.3 L394.78 821.51 L394.78 822.73 L394.78 823.95 L394.78 825.17 L394.78 826.38 L394.78 827.6 L394.78 828.82 L394.78 830.03 L394.78 831.25 L394.78 832.47 L394.78 833.69 L394.78 834.9 L394.78 836.12 L394.78 837.34 L394.69 838.56 L394.54 839.77 L394.33 840.99 L394.05 842.21 L393.7 843.42 L393.38 844.64 L393.16 845.86 L392.88 847.08 L392.57 848.29 L392.25 849.51 L391.93 850.73 L391.66 851.94 L391.44 853.16 L391.29 854.38 L391.17 855.6 L391.08 856.81 L391.05 858.03 L391.06 859.25 L391.09 860.46 L391.13 861.68 L391.19 862.9 L391.27 864.12 L391.35 865.33 L391.44 866.55 L391.53 867.77 L391.65 868.99 L391.78 870.2 L391.89 871.42 L391.95 872.64 L391.94 873.85 L391.89 875.07 L391.81 876.29 L391.71 877.51 L391.62 878.72 L391.55 879.94 L391.5 881.16 L391.47 882.37 L391.45 883.59 L391.47 884.81 L391.57 886.03 L391.73 887.24 L392 888.46 L392.33 889.68 L392.69 890.9 L393.02 892.11 L393.37 893.33 L393.99 894.55 L394.45 895.76 L394.68 896.98 L394.76 898.2 L394.78 899.42 L394.78 900.63 L394.78 901.85 L394.78 903.07 L394.78 904.28 L394.78 905.5Z" fill="none" stroke="#808080" stroke-width="1.25" stroke-linejoin="round"/>
<line x1="391.2" y1="864.58" x2="398.7" y2="864.58" stroke="#141414" stroke-width="1.35"/>
<line x1="413.13" y1="856.58" x2="418.71" y2="856.58" stroke="#f18cb6" stroke-width="0.6" stroke-opacity="0.55" stroke-dasharray="1.2 0.8"/>
<line x1="412.52" y1="882.45" x2="419.32" y2="882.45" stroke="#f18cb6" stroke-width="0.6" stroke-opacity="0.55" stroke-dasharray="1.2 0.8"/>
<path d="M416.09 916.71 L416.09 915.5 L416.09 914.29 L416.09 913.08 L416.09 911.87 L416.09 910.66 L416.09 909.45 L416.09 908.24 L416.09 907.03 L416.09 905.82 L416.09 904.61 L416.2 903.4 L416.5 902.19 L416.86 900.97 L417.05 899.76 L416.95 898.55 L416.73 897.34 L416.53 896.13 L416.46 894.92 L416.63 893.71 L417.09 892.5 L417.62 891.29 L417.98 890.08 L418.42 888.87 L418.92 887.66 L419.38 886.45 L419.68 885.24 L419.86 884.03 L419.92 882.82 L419.9 881.6 L419.87 880.39 L419.82 879.18 L419.77 877.97 L419.67 876.76 L419.55 875.55 L419.41 874.34 L419.27 873.13 L419.13 871.92 L419.02 870.71 L418.95 869.5 L418.92 868.29 L418.93 867.08 L418.97 865.87 L419.02 864.66 L419.08 863.45 L419.14 862.23 L419.2 861.02 L419.25 859.81 L419.28 858.6 L419.3 857.39 L419.31 856.18 L419.32 854.97 L419.29 853.76 L419.19 852.55 L419.04 851.34 L418.81 850.13 L418.53 848.92 L418.22 847.71 L417.94 846.5 L417.67 845.29 L417.3 844.08 L416.76 842.87 L416.38 841.65 L416.15 840.44 L416.09 839.23 L416.09 838.02 L416.09 836.81 L416.09 835.6 L416.09 834.39 L416.09 833.18 L416.09 831.97 L416.09 830.76 L416.09 829.55 L416.09 828.34 L416.09 827.13 L416.09 825.92 L416.09 824.71 L416.09 823.5 L415.75 823.5 L415.75 824.71 L415.75 825.92 L415.75 827.13 L415.75 828.34 L415.75 829.55 L415.75 830.76 L415.75 831.97 L415.75 833.18 L415.75 834.39 L415.75 835.6 L415.75 836.81 L415.75 838.02 L415.75 839.23 L415.69 840.44 L415.46 841.65 L415.08 842.87 L414.54 844.08 L414.17 845.29 L413.9 846.5 L413.62 847.71 L413.31 848.92 L413.03 850.13 L412.8 851.34 L412.65 852.55 L412.55 853.76 L412.52 854.97 L412.53 856.18 L412.54 857.39 L412.56 858.6 L412.59 859.81 L412.64 861.02 L412.7 862.23 L412.76 863.45 L412.82 864.66 L412.87 865.87 L412.91 867.08 L412.92 868.29 L412.89 869.5 L412.82 870.71 L412.71 871.92 L412.57 873.13 L412.43 874.34 L412.29 875.55 L412.17 876.76 L412.07 877.97 L412.02 879.18 L411.97 880.39 L411.94 881.6 L411.92 882.82 L411.98 884.03 L412.16 885.24 L412.46 886.45 L412.92 887.66 L413.42 888.87 L413.86 890.08 L414.22 891.29 L414.75 892.5 L415.21 893.71 L415.38 894.92 L415.31 896.13 L415.11 897.34 L414.89 898.55 L414.79 899.76 L414.98 900.97 L415.34 902.19 L415.64 903.4 L415.75 904.61 L415.75 905.82 L415.75 907.03 L415.75 908.24 L415.75 909.45 L415.75 910.66 L415.75 911.87 L415.75 913.08 L415.75 914.29 L415.75 915.5 L415.75 916.71Z" fill="none" stroke="#f18cb6" stroke-width="1.25" stroke-linejoin="round"/>
<line x1="412.82" y1="868.58" x2="419.02" y2="868.58" stroke="#141414" stroke-width="1.35"/>
<line x1="425.38" y1="887.94" x2="431.66" y2="887.94" stroke="#7e0040" stroke-width="0.6" stroke-opacity="0.55" stroke-dasharray="1.2 0.8"/>
<line x1="425.82" y1="898.92" x2="431.22" y2="898.92" stroke="#7e0040" stroke-width="0.6" stroke-opacity="0.55" stroke-dasharray="1.2 0.8"/>
<path d="M428.69 918.83 L428.69 917.6 L428.69 916.37 L428.69 915.15 L428.69 913.92 L428.69 912.69 L428.69 911.46 L428.69 910.24 L428.69 909.01 L428.72 907.78 L428.9 906.55 L429.29 905.32 L429.92 904.1 L430.43 902.87 L431.09 901.64 L431.6 900.41 L431.81 899.19 L431.77 897.96 L431.62 896.73 L431.3 895.5 L431.05 894.27 L431.23 893.05 L431.99 891.82 L432.43 890.59 L432.5 889.36 L432.3 888.14 L431.95 886.91 L431.24 885.68 L430.44 884.45 L429.7 883.23 L429.48 882 L429.51 880.77 L429.55 879.54 L429.6 878.31 L429.64 877.09 L429.64 875.86 L429.55 874.63 L429.37 873.4 L429.17 872.18 L428.99 870.95 L428.85 869.72 L428.77 868.49 L428.72 867.26 L428.69 866.04 L428.69 864.81 L428.69 863.58 L428.69 862.35 L428.69 861.13 L428.69 859.9 L428.69 858.67 L428.69 857.44 L428.35 857.44 L428.35 858.67 L428.35 859.9 L428.35 861.13 L428.35 862.35 L428.35 863.58 L428.35 864.81 L428.35 866.04 L428.32 867.26 L428.27 868.49 L428.19 869.72 L428.05 870.95 L427.87 872.18 L427.67 873.4 L427.49 874.63 L427.4 875.86 L427.4 877.09 L427.44 878.31 L427.49 879.54 L427.53 880.77 L427.56 882 L427.34 883.23 L426.6 884.45 L425.8 885.68 L425.09 886.91 L424.74 888.14 L424.54 889.36 L424.61 890.59 L425.05 891.82 L425.81 893.05 L425.99 894.27 L425.74 895.5 L425.42 896.73 L425.27 897.96 L425.23 899.19 L425.44 900.41 L425.95 901.64 L426.61 902.87 L427.12 904.1 L427.75 905.32 L428.14 906.55 L428.32 907.78 L428.35 909.01 L428.35 910.24 L428.35 911.46 L428.35 912.69 L428.35 913.92 L428.35 915.15 L428.35 916.37 L428.35 917.6 L428.35 918.83Z" fill="none" stroke="#7e0040" stroke-width="1.25" stroke-linejoin="round"/>
<line x1="425.12" y1="892.1" x2="431.92" y2="892.1" stroke="#141414" stroke-width="1.35"/>
<line x1="438.46" y1="863.64" x2="443.78" y2="863.64" stroke="#808080" stroke-width="0.6" stroke-opacity="0.55" stroke-dasharray="1.2 0.8"/>
<line x1="437.79" y1="893.43" x2="444.45" y2="893.43" stroke="#808080" stroke-width="0.6" stroke-opacity="0.55" stroke-dasharray="1.2 0.8"/>
<path d="M441.29 924.47 L441.29 923.26 L441.29 922.05 L441.29 920.83 L441.29 919.62 L441.29 918.41 L441.29 917.19 L441.29 915.98 L441.29 914.76 L441.29 913.55 L441.29 912.34 L441.29 911.12 L441.29 909.91 L441.33 908.7 L441.49 907.48 L441.72 906.27 L442.07 905.05 L442.65 903.84 L443.04 902.63 L443.44 901.41 L443.8 900.2 L444.09 898.98 L444.37 897.77 L444.64 896.56 L444.85 895.34 L444.99 894.13 L445.09 892.92 L445.12 891.7 L445.1 890.49 L445.06 889.27 L445.02 888.06 L444.94 886.85 L444.83 885.63 L444.71 884.42 L444.59 883.21 L444.49 881.99 L444.43 880.78 L444.42 879.56 L444.42 878.35 L444.42 877.14 L444.42 875.92 L444.42 874.71 L444.42 873.5 L444.42 872.28 L444.42 871.07 L444.42 869.85 L444.42 868.64 L444.42 867.43 L444.41 866.21 L444.4 865 L444.38 863.79 L444.36 862.57 L444.33 861.36 L444.3 860.14 L444.26 858.93 L444.22 857.72 L444.18 856.5 L444.13 855.29 L444.06 854.07 L443.93 852.86 L443.76 851.65 L443.55 850.43 L443.34 849.22 L443.13 848.01 L442.89 846.79 L442.56 845.58 L442 844.36 L441.59 843.15 L441.35 841.94 L441.29 840.72 L441.29 839.51 L441.29 838.3 L441.29 837.08 L441.29 835.87 L441.29 834.65 L441.29 833.44 L441.29 832.23 L441.29 831.01 L441.29 829.8 L441.29 828.59 L441.29 827.37 L441.29 826.16 L441.29 824.94 L441.29 823.73 L440.95 823.73 L440.95 824.94 L440.95 826.16 L440.95 827.37 L440.95 828.59 L440.95 829.8 L440.95 831.01 L440.95 832.23 L440.95 833.44 L440.95 834.65 L440.95 835.87 L440.95 837.08 L440.95 838.3 L440.95 839.51 L440.95 840.72 L440.89 841.94 L440.65 843.15 L440.24 844.36 L439.68 845.58 L439.35 846.79 L439.11 848.01 L438.9 849.22 L438.69 850.43 L438.48 851.65 L438.31 852.86 L438.18 854.07 L438.11 855.29 L438.06 856.5 L438.02 857.72 L437.98 858.93 L437.94 860.14 L437.91 861.36 L437.88 862.57 L437.86 863.79 L437.84 865 L437.83 866.21 L437.82 867.43 L437.82 868.64 L437.82 869.85 L437.82 871.07 L437.82 872.28 L437.82 873.5 L437.82 874.71 L437.82 875.92 L437.82 877.14 L437.82 878.35 L437.82 879.56 L437.81 880.78 L437.75 881.99 L437.65 883.21 L437.53 884.42 L437.41 885.63 L437.3 886.85 L437.22 888.06 L437.18 889.27 L437.14 890.49 L437.12 891.7 L437.15 892.92 L437.25 894.13 L437.39 895.34 L437.6 896.56 L437.87 897.77 L438.15 898.98 L438.44 900.2 L438.8 901.41 L439.2 902.63 L439.59 903.84 L440.17 905.05 L440.52 906.27 L440.75 907.48 L440.91 908.7 L440.95 909.91 L440.95 911.12 L440.95 912.34 L440.95 913.55 L440.95 914.76 L440.95 915.98 L440.95 917.19 L440.95 918.41 L440.95 919.62 L440.95 920.83 L440.95 922.05 L440.95 923.26 L440.95 924.47Z" fill="none" stroke="#808080" stroke-width="1.25" stroke-linejoin="round"/>
<line x1="437.67" y1="881.67" x2="444.57" y2="881.67" stroke="#141414" stroke-width="1.35"/>
<line x1="460.89" y1="818.95" x2="463.29" y2="818.95" stroke="#f18cb6" stroke-width="0.6" stroke-opacity="0.55" stroke-dasharray="1.2 0.8"/>
<line x1="458.86" y1="847.96" x2="465.32" y2="847.96" stroke="#f18cb6" stroke-width="0.6" stroke-opacity="0.55" stroke-dasharray="1.2 0.8"/>
<path d="M462.26 882.3 L462.26 881.09 L462.26 879.88 L462.26 878.67 L462.26 877.46 L462.26 876.25 L462.26 875.04 L462.26 873.84 L462.26 872.63 L462.26 871.42 L462.26 870.21 L462.26 869 L462.26 867.79 L462.31 866.59 L462.39 865.38 L462.5 864.17 L462.64 862.96 L462.8 861.75 L463.04 860.54 L463.38 859.34 L463.7 858.13 L463.94 856.92 L464.18 855.71 L464.43 854.5 L464.7 853.29 L465.03 852.09 L465.36 850.88 L465.65 849.67 L465.87 848.46 L466 847.25 L466.08 846.04 L466.07 844.84 L465.98 843.63 L465.85 842.42 L465.63 841.21 L465.34 840 L465.04 838.79 L464.79 837.59 L464.61 836.38 L464.43 835.17 L464.27 833.96 L464.12 832.75 L464 831.54 L463.92 830.33 L463.89 829.13 L463.89 827.92 L463.89 826.71 L463.89 825.5 L463.89 824.29 L463.89 823.08 L463.89 821.88 L463.89 820.67 L463.89 819.46 L463.89 818.25 L463.89 817.04 L463.9 815.83 L463.91 814.63 L463.93 813.42 L463.96 812.21 L463.98 811 L464.01 809.79 L464.04 808.58 L464.06 807.38 L464.08 806.17 L464.09 804.96 L464.09 803.75 L464.06 802.54 L463.99 801.33 L463.9 800.13 L463.78 798.92 L463.64 797.71 L463.39 796.5 L463.12 795.29 L462.88 794.08 L462.68 792.87 L462.52 791.67 L462.4 790.46 L462.32 789.25 L462.27 788.04 L462.26 786.83 L462.26 785.62 L462.26 784.42 L462.26 783.21 L462.26 782 L462.26 780.79 L462.26 779.58 L462.26 778.37 L462.26 777.17 L462.26 775.96 L462.26 774.75 L462.26 773.54 L462.26 772.33 L462.26 771.12 L461.92 771.12 L461.92 772.33 L461.92 773.54 L461.92 774.75 L461.92 775.96 L461.92 777.17 L461.92 778.37 L461.92 779.58 L461.92 780.79 L461.92 782 L461.92 783.21 L461.92 784.42 L461.92 785.62 L461.92 786.83 L461.91 788.04 L461.86 789.25 L461.78 790.46 L461.66 791.67 L461.5 792.87 L461.3 794.08 L461.06 795.29 L460.79 796.5 L460.54 797.71 L460.4 798.92 L460.28 800.13 L460.19 801.33 L460.12 802.54 L460.09 803.75 L460.09 804.96 L460.1 806.17 L460.12 807.38 L460.14 808.58 L460.17 809.79 L460.2 811 L460.22 812.21 L460.25 813.42 L460.27 814.63 L460.28 815.83 L460.29 817.04 L460.29 818.25 L460.29 819.46 L460.29 820.67 L460.29 821.88 L460.29 823.08 L460.29 824.29 L460.29 825.5 L460.29 826.71 L460.29 827.92 L460.29 829.13 L460.26 830.33 L460.18 831.54 L460.06 832.75 L459.91 833.96 L459.75 835.17 L459.57 836.38 L459.39 837.59 L459.14 838.79 L458.84 840 L458.55 841.21 L458.33 842.42 L458.2 843.63 L458.11 844.84 L458.1 846.04 L458.18 847.25 L458.31 848.46 L458.53 849.67 L458.82 850.88 L459.15 852.09 L459.48 853.29 L459.75 854.5 L460 855.71 L460.24 856.92 L460.48 858.13 L460.8 859.34 L461.14 860.54 L461.38 861.75 L461.54 862.96 L461.68 864.17 L461.79 865.38 L461.87 866.59 L461.92 867.79 L461.92 869 L461.92 870.21 L461.92 871.42 L461.92 872.63 L461.92 873.84 L461.92 875.04 L461.92 876.25 L461.92 877.46 L461.92 878.67 L461.92 879.88 L461.92 881.09 L461.92 882.3Z" fill="none" stroke="#f18cb6" stroke-width="1.25" stroke-linejoin="round"/>
<line x1="458.98" y1="839.02" x2="465.2" y2="839.02" stroke="#141414" stroke-width="1.35"/>
<line x1="471.66" y1="846.39" x2="477.72" y2="846.39" stroke="#7e0040" stroke-width="0.6" stroke-opacity="0.55" stroke-dasharray="1.2 0.8"/>
<line x1="472.15" y1="866.77" x2="477.23" y2="866.77" stroke="#7e0040" stroke-width="0.6" stroke-opacity="0.55" stroke-dasharray="1.2 0.8"/>
<path d="M474.86 882.77 L474.86 881.55 L474.86 880.33 L474.86 879.12 L474.86 877.9 L474.89 876.69 L475.2 875.47 L475.75 874.25 L476.4 873.04 L476.99 871.82 L477.51 870.61 L477.78 869.39 L477.89 868.18 L477.84 866.96 L477.73 865.74 L477.52 864.53 L477.29 863.31 L477.19 862.1 L477.25 860.88 L477.39 859.67 L477.59 858.45 L477.79 857.23 L477.98 856.02 L478.2 854.8 L478.42 853.59 L478.58 852.37 L478.66 851.15 L478.68 849.94 L478.61 848.72 L478.5 847.51 L478.3 846.29 L478.04 845.08 L477.77 843.86 L477.52 842.64 L477.31 841.43 L477.11 840.21 L476.91 839 L476.71 837.78 L476.53 836.57 L476.36 835.35 L476.21 834.13 L475.97 832.92 L475.75 831.7 L475.56 830.49 L475.39 829.27 L475.25 828.05 L475.13 826.84 L475.04 825.62 L474.96 824.41 L474.91 823.19 L474.87 821.98 L474.86 820.76 L474.86 819.54 L474.86 818.33 L474.86 817.11 L474.86 815.9 L474.86 814.68 L474.86 813.46 L474.86 812.25 L474.86 811.03 L474.86 809.82 L474.86 808.6 L474.86 807.39 L474.86 806.17 L474.86 804.95 L474.86 803.74 L474.52 803.74 L474.52 804.95 L474.52 806.17 L474.52 807.39 L474.52 808.6 L474.52 809.82 L474.52 811.03 L474.52 812.25 L474.52 813.46 L474.52 814.68 L474.52 815.9 L474.52 817.11 L474.52 818.33 L474.52 819.54 L474.52 820.76 L474.51 821.98 L474.47 823.19 L474.42 824.41 L474.34 825.62 L474.25 826.84 L474.13 828.05 L473.99 829.27 L473.82 830.49 L473.63 831.7 L473.41 832.92 L473.17 834.13 L473.02 835.35 L472.85 836.57 L472.67 837.78 L472.47 839 L472.27 840.21 L472.07 841.43 L471.86 842.64 L471.61 843.86 L471.34 845.08 L471.08 846.29 L470.88 847.51 L470.77 848.72 L470.7 849.94 L470.72 851.15 L470.8 852.37 L470.96 853.59 L471.18 854.8 L471.4 856.02 L471.59 857.23 L471.79 858.45 L471.99 859.67 L472.13 860.88 L472.19 862.1 L472.09 863.31 L471.86 864.53 L471.65 865.74 L471.54 866.96 L471.49 868.18 L471.6 869.39 L471.87 870.61 L472.39 871.82 L472.98 873.04 L473.63 874.25 L474.18 875.47 L474.49 876.69 L474.52 877.9 L474.52 879.12 L474.52 880.33 L474.52 881.55 L474.52 882.77Z" fill="none" stroke="#7e0040" stroke-width="1.25" stroke-linejoin="round"/>
<line x1="470.76" y1="852.9" x2="478.62" y2="852.9" stroke="#141414" stroke-width="1.35"/>
<line x1="485.81" y1="829.14" x2="488.77" y2="829.14" stroke="#808080" stroke-width="0.6" stroke-opacity="0.55" stroke-dasharray="1.2 0.8"/>
<line x1="484.4" y1="853.44" x2="490.18" y2="853.44" stroke="#808080" stroke-width="0.6" stroke-opacity="0.55" stroke-dasharray="1.2 0.8"/>
<path d="M487.46 885.35 L487.46 884.14 L487.46 882.92 L487.46 881.71 L487.46 880.49 L487.46 879.28 L487.46 878.06 L487.46 876.85 L487.46 875.63 L487.46 874.42 L487.46 873.21 L487.46 871.99 L487.46 870.78 L487.53 869.56 L487.67 868.35 L487.86 867.13 L488.1 865.92 L488.37 864.7 L488.71 863.49 L488.96 862.27 L489.18 861.06 L489.41 859.84 L489.65 858.63 L489.88 857.41 L490.14 856.2 L490.43 854.98 L490.71 853.77 L490.96 852.55 L491.12 851.34 L491.23 850.12 L491.29 848.91 L491.27 847.69 L491.2 846.48 L491.11 845.27 L491.01 844.05 L490.82 842.84 L490.58 841.62 L490.31 840.41 L490.03 839.19 L489.79 837.98 L489.6 836.76 L489.5 835.55 L489.46 834.33 L489.43 833.12 L489.41 831.9 L489.39 830.69 L489.37 829.47 L489.36 828.26 L489.34 827.04 L489.32 825.83 L489.29 824.61 L489.26 823.4 L489.2 822.18 L489.14 820.97 L489.06 819.75 L488.98 818.54 L488.89 817.33 L488.81 816.11 L488.66 814.9 L488.52 813.68 L488.41 812.47 L488.32 811.25 L488.27 810.04 L488.25 808.82 L488.34 807.61 L488.58 806.39 L488.85 805.18 L489.01 803.96 L489.09 802.75 L489.07 801.53 L489 800.32 L488.88 799.1 L488.67 797.89 L488.36 796.67 L488.08 795.46 L487.84 794.24 L487.67 793.03 L487.55 791.81 L487.48 790.6 L487.46 789.39 L487.46 788.17 L487.46 786.96 L487.46 785.74 L487.46 784.53 L487.46 783.31 L487.46 782.1 L487.46 780.88 L487.46 779.67 L487.46 778.45 L487.46 777.24 L487.46 776.02 L487.46 774.81 L487.46 773.59 L487.46 772.38 L487.12 772.38 L487.12 773.59 L487.12 774.81 L487.12 776.02 L487.12 777.24 L487.12 778.45 L487.12 779.67 L487.12 780.88 L487.12 782.1 L487.12 783.31 L487.12 784.53 L487.12 785.74 L487.12 786.96 L487.12 788.17 L487.12 789.39 L487.1 790.6 L487.03 791.81 L486.91 793.03 L486.74 794.24 L486.5 795.46 L486.22 796.67 L485.91 797.89 L485.7 799.1 L485.58 800.32 L485.51 801.53 L485.49 802.75 L485.57 803.96 L485.73 805.18 L486 806.39 L486.24 807.61 L486.33 808.82 L486.31 810.04 L486.26 811.25 L486.17 812.47 L486.06 813.68 L485.92 814.9 L485.77 816.11 L485.69 817.33 L485.6 818.54 L485.52 819.75 L485.44 820.97 L485.38 822.18 L485.32 823.4 L485.29 824.61 L485.26 825.83 L485.24 827.04 L485.22 828.26 L485.21 829.47 L485.19 830.69 L485.17 831.9 L485.15 833.12 L485.12 834.33 L485.08 835.55 L484.98 836.76 L484.79 837.98 L484.55 839.19 L484.27 840.41 L484 841.62 L483.76 842.84 L483.57 844.05 L483.47 845.27 L483.38 846.48 L483.31 847.69 L483.29 848.91 L483.35 850.12 L483.46 851.34 L483.62 852.55 L483.87 853.77 L484.15 854.98 L484.44 856.2 L484.7 857.41 L484.93 858.63 L485.17 859.84 L485.4 861.06 L485.62 862.27 L485.87 863.49 L486.21 864.7 L486.48 865.92 L486.72 867.13 L486.91 868.35 L487.05 869.56 L487.12 870.78 L487.12 871.99 L487.12 873.21 L487.12 874.42 L487.12 875.63 L487.12 876.85 L487.12 878.06 L487.12 879.28 L487.12 880.49 L487.12 881.71 L487.12 882.92 L487.12 884.14 L487.12 885.35Z" fill="none" stroke="#808080" stroke-width="1.25" stroke-linejoin="round"/>
<line x1="483.35" y1="845.45" x2="491.23" y2="845.45" stroke="#141414" stroke-width="1.35"/>
<line x1="506.79" y1="916.16" x2="509.73" y2="916.16" stroke="#f18cb6" stroke-width="0.6" stroke-opacity="0.55" stroke-dasharray="1.2 0.8"/>
<line x1="504.89" y1="953.01" x2="511.63" y2="953.01" stroke="#f18cb6" stroke-width="0.6" stroke-opacity="0.55" stroke-dasharray="1.2 0.8"/>
<path d="M508.43 1004.29 L508.43 1003.08 L508.43 1001.88 L508.43 1000.67 L508.43 999.47 L508.43 998.26 L508.43 997.06 L508.43 995.85 L508.43 994.65 L508.43 993.44 L508.43 992.24 L508.43 991.03 L508.43 989.83 L508.43 988.62 L508.43 987.42 L508.43 986.21 L508.43 985.01 L508.43 983.81 L508.43 982.6 L508.43 981.4 L508.43 980.19 L508.43 978.99 L508.5 977.78 L508.64 976.58 L508.83 975.37 L509.06 974.17 L509.31 972.96 L509.6 971.76 L509.85 970.55 L510.03 969.35 L510.21 968.14 L510.4 966.94 L510.58 965.73 L510.76 964.53 L510.93 963.32 L511.1 962.12 L511.28 960.92 L511.46 959.71 L511.64 958.51 L511.81 957.3 L511.96 956.1 L512.09 954.89 L512.19 953.69 L512.26 952.48 L512.32 951.28 L512.36 950.07 L512.36 948.87 L512.33 947.66 L512.29 946.46 L512.25 945.25 L512.2 944.05 L512.12 942.84 L512.03 941.64 L511.93 940.44 L511.82 939.23 L511.71 938.03 L511.6 936.82 L511.5 935.62 L511.42 934.41 L511.35 933.21 L511.28 932 L511.21 930.8 L511.14 929.59 L511.08 928.39 L511.02 927.18 L510.96 925.98 L510.89 924.77 L510.83 923.57 L510.76 922.36 L510.69 921.16 L510.61 919.95 L510.53 918.75 L510.45 917.55 L510.35 916.34 L510.23 915.14 L510.11 913.93 L509.98 912.73 L509.85 911.52 L509.68 910.32 L509.46 909.11 L509.27 907.91 L509.11 906.7 L508.95 905.5 L508.81 904.29 L508.69 903.09 L508.6 901.88 L508.53 900.68 L508.5 899.47 L508.5 898.27 L508.52 897.06 L508.56 895.86 L508.61 894.66 L508.67 893.45 L508.74 892.25 L508.82 891.04 L508.9 889.84 L508.99 888.63 L509.1 887.43 L509.24 886.22 L509.4 885.02 L509.58 883.81 L509.76 882.61 L509.85 881.4 L509.93 880.2 L509.99 878.99 L510.04 877.79 L510.06 876.58 L510.05 875.38 L510 874.18 L509.92 872.97 L509.81 871.77 L509.6 870.56 L509.34 869.36 L509.1 868.15 L508.89 866.95 L508.71 865.74 L508.57 864.54 L508.47 863.33 L508.43 862.13 L508.43 860.92 L508.43 859.72 L508.43 858.51 L508.43 857.31 L508.43 856.1 L508.43 854.9 L508.43 853.69 L508.43 852.49 L508.43 851.29 L508.43 850.08 L508.43 848.88 L508.43 847.67 L508.43 846.47 L508.09 846.47 L508.09 847.67 L508.09 848.88 L508.09 850.08 L508.09 851.29 L508.09 852.49 L508.09 853.69 L508.09 854.9 L508.09 856.1 L508.09 857.31 L508.09 858.51 L508.09 859.72 L508.09 860.92 L508.09 862.13 L508.05 863.33 L507.95 864.54 L507.81 865.74 L507.63 866.95 L507.42 868.15 L507.18 869.36 L506.92 870.56 L506.71 871.77 L506.6 872.97 L506.52 874.18 L506.47 875.38 L506.46 876.58 L506.48 877.79 L506.53 878.99 L506.59 880.2 L506.67 881.4 L506.76 882.61 L506.94 883.81 L507.12 885.02 L507.28 886.22 L507.42 887.43 L507.53 888.63 L507.62 889.84 L507.7 891.04 L507.78 892.25 L507.85 893.45 L507.91 894.66 L507.96 895.86 L508 897.06 L508.02 898.27 L508.02 899.47 L507.99 900.68 L507.92 901.88 L507.83 903.09 L507.71 904.29 L507.57 905.5 L507.41 906.7 L507.25 907.91 L507.06 909.11 L506.84 910.32 L506.67 911.52 L506.54 912.73 L506.41 913.93 L506.29 915.14 L506.17 916.34 L506.07 917.55 L505.99 918.75 L505.91 919.95 L505.83 921.16 L505.76 922.36 L505.69 923.57 L505.63 924.77 L505.56 925.98 L505.5 927.18 L505.44 928.39 L505.38 929.59 L505.31 930.8 L505.24 932 L505.17 933.21 L505.1 934.41 L505.02 935.62 L504.92 936.82 L504.81 938.03 L504.7 939.23 L504.59 940.44 L504.49 941.64 L504.4 942.84 L504.32 944.05 L504.27 945.25 L504.23 946.46 L504.19 947.66 L504.16 948.87 L504.16 950.07 L504.2 951.28 L504.26 952.48 L504.33 953.69 L504.43 954.89 L504.56 956.1 L504.71 957.3 L504.88 958.51 L505.06 959.71 L505.24 960.92 L505.42 962.12 L505.59 963.32 L505.76 964.53 L505.94 965.73 L506.12 966.94 L506.31 968.14 L506.49 969.35 L506.67 970.55 L506.92 971.76 L507.21 972.96 L507.46 974.17 L507.69 975.37 L507.88 976.58 L508.02 977.78 L508.09 978.99 L508.09 980.19 L508.09 981.4 L508.09 982.6 L508.09 983.81 L508.09 985.01 L508.09 986.21 L508.09 987.42 L508.09 988.62 L508.09 989.83 L508.09 991.03 L508.09 992.24 L508.09 993.44 L508.09 994.65 L508.09 995.85 L508.09 997.06 L508.09 998.26 L508.09 999.47 L508.09 1000.67 L508.09 1001.88 L508.09 1003.08 L508.09 1004.29Z" fill="none" stroke="#f18cb6" stroke-width="1.25" stroke-linejoin="round"/>
<line x1="504.98" y1="934.67" x2="511.54" y2="934.67" stroke="#141414" stroke-width="1.35"/>
<line x1="519.94" y1="938.9" x2="521.78" y2="938.9" stroke="#7e0040" stroke-width="0.6" stroke-opacity="0.55" stroke-dasharray="1.2 0.8"/>
<line x1="518.38" y1="955.36" x2="523.34" y2="955.36" stroke="#7e0040" stroke-width="0.6" stroke-opacity="0.55" stroke-dasharray="1.2 0.8"/>
<path d="M521.03 973.32 L521.03 972.11 L521.03 970.9 L521.03 969.69 L521.03 968.48 L521.03 967.27 L521.03 966.06 L521.03 964.85 L521.2 963.64 L521.48 962.43 L521.92 961.22 L522.46 960.01 L522.8 958.8 L523.2 957.59 L523.62 956.38 L524 955.17 L524.32 953.96 L524.61 952.75 L524.79 951.54 L524.86 950.33 L524.75 949.12 L524.49 947.91 L524.15 946.7 L523.7 945.49 L523.19 944.28 L522.8 943.07 L522.63 941.86 L522.51 940.65 L522.42 939.44 L522.3 938.23 L522.12 937.02 L521.93 935.81 L521.77 934.6 L521.62 933.39 L521.49 932.18 L521.39 930.97 L521.3 929.76 L521.22 928.55 L521.15 927.34 L521.1 926.13 L521.06 924.92 L521.03 923.71 L521.03 922.5 L521.03 921.29 L521.03 920.08 L521.03 918.87 L521.03 917.66 L521.03 916.45 L521.03 915.24 L521.03 914.03 L521.03 912.82 L521.03 911.61 L521.03 910.4 L521.03 909.19 L521.03 907.98 L521.03 906.77 L521.03 905.56 L521.03 904.35 L521.03 903.14 L521.03 901.93 L521.03 900.72 L521.03 899.51 L521.03 898.3 L521.03 897.09 L521.03 895.88 L521.03 894.67 L521.03 893.46 L521.03 892.25 L521.03 891.04 L521.03 889.83 L521.03 888.62 L521.03 887.41 L521.03 886.2 L521.03 884.99 L521.03 883.78 L521.03 882.57 L521.03 881.36 L521.03 880.15 L521.03 878.94 L521.03 877.73 L521.03 876.52 L521.03 875.31 L521.03 874.1 L521.03 872.89 L520.69 872.89 L520.69 874.1 L520.69 875.31 L520.69 876.52 L520.69 877.73 L520.69 878.94 L520.69 880.15 L520.69 881.36 L520.69 882.57 L520.69 883.78 L520.69 884.99 L520.69 886.2 L520.69 887.41 L520.69 888.62 L520.69 889.83 L520.69 891.04 L520.69 892.25 L520.69 893.46 L520.69 894.67 L520.69 895.88 L520.69 897.09 L520.69 898.3 L520.69 899.51 L520.69 900.72 L520.69 901.93 L520.69 903.14 L520.69 904.35 L520.69 905.56 L520.69 906.77 L520.69 907.98 L520.69 909.19 L520.69 910.4 L520.69 911.61 L520.69 912.82 L520.69 914.03 L520.69 915.24 L520.69 916.45 L520.69 917.66 L520.69 918.87 L520.69 920.08 L520.69 921.29 L520.69 922.5 L520.69 923.71 L520.66 924.92 L520.62 926.13 L520.57 927.34 L520.5 928.55 L520.42 929.76 L520.33 930.97 L520.23 932.18 L520.1 933.39 L519.95 934.6 L519.79 935.81 L519.6 937.02 L519.42 938.23 L519.3 939.44 L519.21 940.65 L519.09 941.86 L518.92 943.07 L518.53 944.28 L518.02 945.49 L517.57 946.7 L517.23 947.91 L516.97 949.12 L516.86 950.33 L516.93 951.54 L517.11 952.75 L517.4 953.96 L517.72 955.17 L518.1 956.38 L518.52 957.59 L518.92 958.8 L519.26 960.01 L519.8 961.22 L520.24 962.43 L520.52 963.64 L520.69 964.85 L520.69 966.06 L520.69 967.27 L520.69 968.48 L520.69 969.69 L520.69 970.9 L520.69 972.11 L520.69 973.32Z" fill="none" stroke="#7e0040" stroke-width="1.25" stroke-linejoin="round"/>
<line x1="516.88" y1="949.01" x2="524.84" y2="949.01" stroke="#141414" stroke-width="1.35"/>
<line x1="532.39" y1="923.22" x2="534.53" y2="923.22" stroke="#808080" stroke-width="0.6" stroke-opacity="0.55" stroke-dasharray="1.2 0.8"/>
<line x1="530.13" y1="953.8" x2="536.79" y2="953.8" stroke="#808080" stroke-width="0.6" stroke-opacity="0.55" stroke-dasharray="1.2 0.8"/>
<path d="M533.63 1000.84 L533.63 999.63 L533.63 998.43 L533.63 997.23 L533.63 996.02 L533.63 994.82 L533.63 993.61 L533.63 992.41 L533.63 991.21 L533.63 990 L533.63 988.8 L533.63 987.6 L533.63 986.39 L533.63 985.19 L533.63 983.99 L533.63 982.78 L533.63 981.58 L533.63 980.37 L533.63 979.17 L533.63 977.97 L533.63 976.76 L533.63 975.56 L533.63 974.36 L533.63 973.15 L533.68 971.95 L533.83 970.75 L534.05 969.54 L534.32 968.34 L534.62 967.14 L534.98 965.93 L535.2 964.73 L535.43 963.52 L535.66 962.32 L535.9 961.12 L536.14 959.91 L536.38 958.71 L536.66 957.51 L536.94 956.3 L537.19 955.1 L537.38 953.9 L537.49 952.69 L537.56 951.49 L537.53 950.28 L537.42 949.08 L537.26 947.88 L536.98 946.67 L536.64 945.47 L536.31 944.27 L536.09 943.06 L535.97 941.86 L535.87 940.66 L535.79 939.45 L535.72 938.25 L535.66 937.05 L535.6 935.84 L535.55 934.64 L535.49 933.43 L535.44 932.23 L535.39 931.03 L535.35 929.82 L535.3 928.62 L535.26 927.42 L535.23 926.21 L535.19 925.01 L535.15 923.81 L535.11 922.6 L535.08 921.4 L535.04 920.2 L535 918.99 L534.96 917.79 L534.88 916.58 L534.8 915.38 L534.72 914.18 L534.65 912.97 L534.57 911.77 L534.5 910.57 L534.43 909.36 L534.36 908.16 L534.3 906.96 L534.23 905.75 L534.17 904.55 L534.11 903.34 L534.05 902.14 L533.99 900.94 L533.92 899.73 L533.86 898.53 L533.81 897.33 L533.75 896.12 L533.71 894.92 L533.67 893.72 L533.63 892.51 L533.63 891.31 L533.63 890.11 L533.63 888.9 L533.63 887.7 L533.63 886.49 L533.63 885.29 L533.63 884.09 L533.63 882.88 L533.63 881.68 L533.63 880.48 L533.63 879.27 L533.63 878.07 L533.63 876.87 L533.63 875.66 L533.63 874.46 L533.63 873.25 L533.63 872.05 L533.63 870.85 L533.63 869.64 L533.63 868.44 L533.63 867.24 L533.63 866.03 L533.63 864.83 L533.63 863.63 L533.63 862.42 L533.63 861.22 L533.63 860.02 L533.63 858.81 L533.63 857.61 L533.63 856.4 L533.63 855.2 L533.63 854 L533.63 852.79 L533.63 851.59 L533.63 850.39 L533.29 850.39 L533.29 851.59 L533.29 852.79 L533.29 854 L533.29 855.2 L533.29 856.4 L533.29 857.61 L533.29 858.81 L533.29 860.02 L533.29 861.22 L533.29 862.42 L533.29 863.63 L533.29 864.83 L533.29 866.03 L533.29 867.24 L533.29 868.44 L533.29 869.64 L533.29 870.85 L533.29 872.05 L533.29 873.25 L533.29 874.46 L533.29 875.66 L533.29 876.87 L533.29 878.07 L533.29 879.27 L533.29 880.48 L533.29 881.68 L533.29 882.88 L533.29 884.09 L533.29 885.29 L533.29 886.49 L533.29 887.7 L533.29 888.9 L533.29 890.11 L533.29 891.31 L533.29 892.51 L533.25 893.72 L533.21 894.92 L533.17 896.12 L533.11 897.33 L533.06 898.53 L533 899.73 L532.93 900.94 L532.87 902.14 L532.81 903.34 L532.75 904.55 L532.69 905.75 L532.62 906.96 L532.56 908.16 L532.49 909.36 L532.42 910.57 L532.35 911.77 L532.27 912.97 L532.2 914.18 L532.12 915.38 L532.04 916.58 L531.96 917.79 L531.92 918.99 L531.88 920.2 L531.84 921.4 L531.81 922.6 L531.77 923.81 L531.73 925.01 L531.69 926.21 L531.66 927.42 L531.62 928.62 L531.57 929.82 L531.53 931.03 L531.48 932.23 L531.43 933.43 L531.37 934.64 L531.32 935.84 L531.26 937.05 L531.2 938.25 L531.13 939.45 L531.05 940.66 L530.95 941.86 L530.83 943.06 L530.61 944.27 L530.28 945.47 L529.94 946.67 L529.66 947.88 L529.5 949.08 L529.39 950.28 L529.36 951.49 L529.43 952.69 L529.54 953.9 L529.73 955.1 L529.98 956.3 L530.26 957.51 L530.54 958.71 L530.78 959.91 L531.02 961.12 L531.26 962.32 L531.49 963.52 L531.72 964.73 L531.94 965.93 L532.3 967.14 L532.6 968.34 L532.87 969.54 L533.09 970.75 L533.24 971.95 L533.29 973.15 L533.29 974.36 L533.29 975.56 L533.29 976.76 L533.29 977.97 L533.29 979.17 L533.29 980.37 L533.29 981.58 L533.29 982.78 L533.29 983.99 L533.29 985.19 L533.29 986.39 L533.29 987.6 L533.29 988.8 L533.29 990 L533.29 991.21 L533.29 992.41 L533.29 993.61 L533.29 994.82 L533.29 996.02 L533.29 997.23 L533.29 998.43 L533.29 999.63 L533.29 1000.84Z" fill="none" stroke="#808080" stroke-width="1.25" stroke-linejoin="round"/>
<line x1="530.57" y1="944" x2="536.35" y2="944" stroke="#141414" stroke-width="1.35"/>
</g>
<g class="lg" font-size="13.4" fill="#141414">
<rect x="1.9" y="1090.2" width="21.3" height="7.2" fill="#0f74f8" stroke="none"/>
<text x="35.2" y="1098.4">Naïve mice</text>
<rect x="1.9" y="1107.4" width="21.3" height="7.2" fill="#063c7f" stroke="none"/>
<text x="35.2" y="1115.6">CCHFV-infected mice</text>
<rect x="1.9" y="1124.7" width="21.3" height="7.2" fill="#848283" stroke="none"/>
<text x="35.2" y="1132.9">Naïve + Infected mice</text>
<rect x="241" y="1090.2" width="21.3" height="7.2" fill="#42b361" stroke="none"/>
<text x="274.6" y="1098.4">Naïve hamsters</text>
<rect x="241" y="1107.4" width="21.3" height="7.2" fill="#0f5e30" stroke="none"/>
<text x="274.6" y="1115.6">NiV-Infected hamsters</text>
<rect x="241" y="1124.7" width="21.3" height="7.2" fill="#828282" stroke="none"/>
<text x="274.6" y="1132.9">Naïve + Infected hamsters</text>
<rect x="480.2" y="1090.2" width="21.3" height="7.2" fill="#f08cb6" stroke="none"/>
<text x="514" y="1098.4">Naïve guinea pigs</text>
<rect x="480.2" y="1107.4" width="21.3" height="7.2" fill="#810040" stroke="none"/>
<text x="514" y="1115.6">LASV-infected guinea pigs</text>
<rect x="480.2" y="1124.7" width="21.3" height="7.2" fill="#828282" stroke="none"/>
<text x="514" y="1132.9">Naïve + Infected guinea pigs</text>
</g>
</svg>
</body>
</html>
